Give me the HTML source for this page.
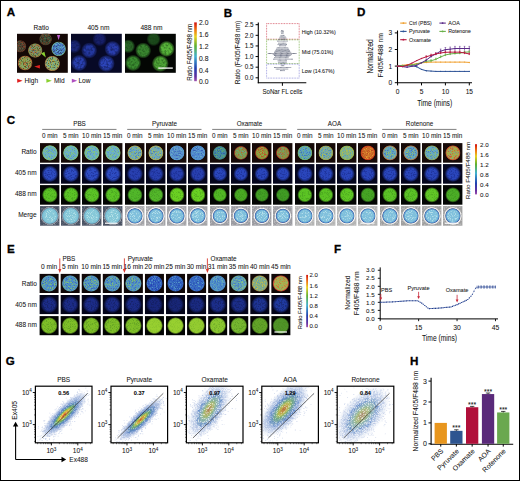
<!DOCTYPE html><html><head><meta charset="utf-8"><style>html,body{margin:0;padding:0;background:#fff;}body{width:520px;height:481px;overflow:hidden;font-family:"Liberation Sans",sans-serif;}svg{display:block;} text{stroke:#333;stroke-width:0.06px;}</style></head><body><svg width="520" height="481" viewBox="0 0 520 481" font-family="Liberation Sans, sans-serif"><defs><filter id="sp1" x="-5%" y="-5%" width="110%" height="110%" color-interpolation-filters="sRGB"><feTurbulence type="fractalNoise" baseFrequency="1.5" numOctaves="2" seed="3" result="n"/><feColorMatrix in="n" type="matrix" values="0 0 0 0 0 0 0 0 0 0 0 0 0 0 0 5 0 0 0 -2.3" result="m"/><feComposite in="SourceGraphic" in2="m" operator="in"/></filter><filter id="sp2" x="-5%" y="-5%" width="110%" height="110%" color-interpolation-filters="sRGB"><feTurbulence type="fractalNoise" baseFrequency="1.4" numOctaves="2" seed="11" result="n"/><feColorMatrix in="n" type="matrix" values="0 0 0 0 0 0 0 0 0 0 0 0 0 0 0 5 0 0 0 -2.6" result="m"/><feComposite in="SourceGraphic" in2="m" operator="in"/></filter><filter id="sp3" x="-5%" y="-5%" width="110%" height="110%" color-interpolation-filters="sRGB"><feTurbulence type="fractalNoise" baseFrequency="0.7" numOctaves="2" seed="5" result="n"/><feColorMatrix in="n" type="matrix" values="0 0 0 0 0 0 0 0 0 0 0 0 0 0 0 5 0 0 0 -2.4" result="m"/><feComposite in="SourceGraphic" in2="m" operator="in"/></filter><filter id="sp4" x="-5%" y="-5%" width="110%" height="110%" color-interpolation-filters="sRGB"><feTurbulence type="fractalNoise" baseFrequency="1.2" numOctaves="2" seed="8" result="n"/><feColorMatrix in="n" type="matrix" values="0 0 0 0 0 0 0 0 0 0 0 0 0 0 0 5 0 0 0 -2.5" result="m"/><feComposite in="SourceGraphic" in2="m" operator="in"/></filter><filter id="sp5" x="-5%" y="-5%" width="110%" height="110%" color-interpolation-filters="sRGB"><feTurbulence type="fractalNoise" baseFrequency="0.45" numOctaves="2" seed="21" result="n"/><feColorMatrix in="n" type="matrix" values="0 0 0 0 0 0 0 0 0 0 0 0 0 0 0 3 0 0 0 -1.2" result="m"/><feComposite in="SourceGraphic" in2="m" operator="in"/></filter><clipPath id="cl1"><rect x="17" y="33.8" width="50.8" height="39.0"/></clipPath><radialGradient id="g2"><stop offset="0" stop-color="#3a4a34" stop-opacity="1"/><stop offset="0.78" stop-color="#3a4a34" stop-opacity="1"/><stop offset="0.88" stop-color="#4a3a28" stop-opacity="1"/><stop offset="1" stop-color="#4a3a28" stop-opacity="0"/></radialGradient><radialGradient id="g3"><stop offset="0" stop-color="#7a3a22" stop-opacity="0.85"/><stop offset="0.85" stop-color="#7a3a22" stop-opacity="0.85"/><stop offset="1" stop-color="#7a3a22" stop-opacity="0"/></radialGradient><radialGradient id="g4"><stop offset="0" stop-color="#4a7a58" stop-opacity="0.7"/><stop offset="0.85" stop-color="#4a7a58" stop-opacity="0.7"/><stop offset="1" stop-color="#4a7a58" stop-opacity="0"/></radialGradient><radialGradient id="g5"><stop offset="0" stop-color="#1a0c08" stop-opacity="0.45"/><stop offset="0.85" stop-color="#1a0c08" stop-opacity="0.45"/><stop offset="1" stop-color="#1a0c08" stop-opacity="0"/></radialGradient><radialGradient id="g6"><stop offset="0" stop-color="#4a4030" stop-opacity="1"/><stop offset="0.78" stop-color="#4a4030" stop-opacity="1"/><stop offset="0.88" stop-color="#5a3424" stop-opacity="1"/><stop offset="1" stop-color="#5a3424" stop-opacity="0"/></radialGradient><radialGradient id="g7"><stop offset="0" stop-color="#8a4028" stop-opacity="0.85"/><stop offset="0.85" stop-color="#8a4028" stop-opacity="0.85"/><stop offset="1" stop-color="#8a4028" stop-opacity="0"/></radialGradient><radialGradient id="g8"><stop offset="0" stop-color="#4a7050" stop-opacity="0.7"/><stop offset="0.85" stop-color="#4a7050" stop-opacity="0.7"/><stop offset="1" stop-color="#4a7050" stop-opacity="0"/></radialGradient><radialGradient id="g9"><stop offset="0" stop-color="#80a058" stop-opacity="1"/><stop offset="0.78" stop-color="#80a058" stop-opacity="1"/><stop offset="0.88" stop-color="#888848" stop-opacity="1"/><stop offset="1" stop-color="#888848" stop-opacity="0"/></radialGradient><radialGradient id="g10"><stop offset="0" stop-color="#c05a30" stop-opacity="0.85"/><stop offset="0.85" stop-color="#c05a30" stop-opacity="0.85"/><stop offset="1" stop-color="#c05a30" stop-opacity="0"/></radialGradient><radialGradient id="g11"><stop offset="0" stop-color="#5a9ab0" stop-opacity="0.7"/><stop offset="0.85" stop-color="#5a9ab0" stop-opacity="0.7"/><stop offset="1" stop-color="#5a9ab0" stop-opacity="0"/></radialGradient><radialGradient id="g12"><stop offset="0" stop-color="#4a7cc8" stop-opacity="1"/><stop offset="0.78" stop-color="#4a7cc8" stop-opacity="1"/><stop offset="0.88" stop-color="#70a888" stop-opacity="1"/><stop offset="1" stop-color="#70a888" stop-opacity="0"/></radialGradient><radialGradient id="g13"><stop offset="0" stop-color="#68b8c8" stop-opacity="0.85"/><stop offset="0.85" stop-color="#68b8c8" stop-opacity="0.85"/><stop offset="1" stop-color="#68b8c8" stop-opacity="0"/></radialGradient><radialGradient id="g14"><stop offset="0" stop-color="#3a5ab0" stop-opacity="0.7"/><stop offset="0.85" stop-color="#3a5ab0" stop-opacity="0.7"/><stop offset="1" stop-color="#3a5ab0" stop-opacity="0"/></radialGradient><radialGradient id="g15"><stop offset="0" stop-color="#88a850" stop-opacity="1"/><stop offset="0.78" stop-color="#88a850" stop-opacity="1"/><stop offset="0.88" stop-color="#a06838" stop-opacity="1"/><stop offset="1" stop-color="#a06838" stop-opacity="0"/></radialGradient><radialGradient id="g16"><stop offset="0" stop-color="#c85828" stop-opacity="0.85"/><stop offset="0.85" stop-color="#c85828" stop-opacity="0.85"/><stop offset="1" stop-color="#c85828" stop-opacity="0"/></radialGradient><radialGradient id="g17"><stop offset="0" stop-color="#70b0a0" stop-opacity="0.7"/><stop offset="0.85" stop-color="#70b0a0" stop-opacity="0.7"/><stop offset="1" stop-color="#70b0a0" stop-opacity="0"/></radialGradient><radialGradient id="g18"><stop offset="0" stop-color="#80b070" stop-opacity="1"/><stop offset="0.78" stop-color="#80b070" stop-opacity="1"/><stop offset="0.88" stop-color="#a07848" stop-opacity="1"/><stop offset="1" stop-color="#a07848" stop-opacity="0"/></radialGradient><radialGradient id="g19"><stop offset="0" stop-color="#c8a840" stop-opacity="0.85"/><stop offset="0.85" stop-color="#c8a840" stop-opacity="0.85"/><stop offset="1" stop-color="#c8a840" stop-opacity="0"/></radialGradient><radialGradient id="g20"><stop offset="0" stop-color="#60a8c8" stop-opacity="0.7"/><stop offset="0.85" stop-color="#60a8c8" stop-opacity="0.7"/><stop offset="1" stop-color="#60a8c8" stop-opacity="0"/></radialGradient><clipPath id="cl21"><rect x="71" y="33.8" width="50.8" height="39.0"/></clipPath><radialGradient id="g22"><stop offset="0" stop-color="#18206a" stop-opacity="1"/><stop offset="0.5499999999999999" stop-color="#18206a" stop-opacity="1"/><stop offset="0.6" stop-color="#18206a" stop-opacity="1"/><stop offset="1" stop-color="#18206a" stop-opacity="0"/></radialGradient><radialGradient id="g23"><stop offset="0" stop-color="#0c1448" stop-opacity="0.55"/><stop offset="0.85" stop-color="#0c1448" stop-opacity="0.55"/><stop offset="1" stop-color="#0c1448" stop-opacity="0"/></radialGradient><radialGradient id="g24"><stop offset="0" stop-color="#1c2878" stop-opacity="1"/><stop offset="0.5499999999999999" stop-color="#1c2878" stop-opacity="1"/><stop offset="0.6" stop-color="#1c2878" stop-opacity="1"/><stop offset="1" stop-color="#1c2878" stop-opacity="0"/></radialGradient><radialGradient id="g25"><stop offset="0" stop-color="#2438a0" stop-opacity="1"/><stop offset="0.5499999999999999" stop-color="#2438a0" stop-opacity="1"/><stop offset="0.6" stop-color="#2438a0" stop-opacity="1"/><stop offset="1" stop-color="#2438a0" stop-opacity="0"/></radialGradient><radialGradient id="g26"><stop offset="0" stop-color="#2a3eae" stop-opacity="1"/><stop offset="0.5499999999999999" stop-color="#2a3eae" stop-opacity="1"/><stop offset="0.6" stop-color="#2a3eae" stop-opacity="1"/><stop offset="1" stop-color="#2a3eae" stop-opacity="0"/></radialGradient><radialGradient id="g27"><stop offset="0" stop-color="#2a40b0" stop-opacity="1"/><stop offset="0.5499999999999999" stop-color="#2a40b0" stop-opacity="1"/><stop offset="0.6" stop-color="#2a40b0" stop-opacity="1"/><stop offset="1" stop-color="#2a40b0" stop-opacity="0"/></radialGradient><radialGradient id="g28"><stop offset="0" stop-color="#2c44b8" stop-opacity="1"/><stop offset="0.5499999999999999" stop-color="#2c44b8" stop-opacity="1"/><stop offset="0.6" stop-color="#2c44b8" stop-opacity="1"/><stop offset="1" stop-color="#2c44b8" stop-opacity="0"/></radialGradient><clipPath id="cl29"><rect x="125" y="33.8" width="50.8" height="39.0"/></clipPath><radialGradient id="g30"><stop offset="0" stop-color="#1c4a1c" stop-opacity="1"/><stop offset="0.6" stop-color="#1c4a1c" stop-opacity="1"/><stop offset="0.65" stop-color="#1c4a1c" stop-opacity="1"/><stop offset="1" stop-color="#1c4a1c" stop-opacity="0"/></radialGradient><radialGradient id="g31"><stop offset="0" stop-color="#143c10" stop-opacity="0.45"/><stop offset="0.85" stop-color="#143c10" stop-opacity="0.45"/><stop offset="1" stop-color="#143c10" stop-opacity="0"/></radialGradient><radialGradient id="g32"><stop offset="0" stop-color="#2a6428" stop-opacity="1"/><stop offset="0.6" stop-color="#2a6428" stop-opacity="1"/><stop offset="0.65" stop-color="#2a6428" stop-opacity="1"/><stop offset="1" stop-color="#2a6428" stop-opacity="0"/></radialGradient><radialGradient id="g33"><stop offset="0" stop-color="#3a8630" stop-opacity="1"/><stop offset="0.6" stop-color="#3a8630" stop-opacity="1"/><stop offset="0.65" stop-color="#3a8630" stop-opacity="1"/><stop offset="1" stop-color="#3a8630" stop-opacity="0"/></radialGradient><radialGradient id="g34"><stop offset="0" stop-color="#58b43a" stop-opacity="1"/><stop offset="0.6" stop-color="#58b43a" stop-opacity="1"/><stop offset="0.65" stop-color="#58b43a" stop-opacity="1"/><stop offset="1" stop-color="#58b43a" stop-opacity="0"/></radialGradient><radialGradient id="g35"><stop offset="0" stop-color="#3a8c30" stop-opacity="1"/><stop offset="0.6" stop-color="#3a8c30" stop-opacity="1"/><stop offset="0.65" stop-color="#3a8c30" stop-opacity="1"/><stop offset="1" stop-color="#3a8c30" stop-opacity="0"/></radialGradient><radialGradient id="g36"><stop offset="0" stop-color="#4ea436" stop-opacity="1"/><stop offset="0.6" stop-color="#4ea436" stop-opacity="1"/><stop offset="0.65" stop-color="#4ea436" stop-opacity="1"/><stop offset="1" stop-color="#4ea436" stop-opacity="0"/></radialGradient><linearGradient id="cb37" x1="0" y1="0" x2="0" y2="1"><stop offset="0" stop-color="#d01010"/><stop offset="0.12" stop-color="#f07010"/><stop offset="0.24" stop-color="#e8d020"/><stop offset="0.4" stop-color="#60b030"/><stop offset="0.58" stop-color="#40b0d0"/><stop offset="0.78" stop-color="#2040b0"/><stop offset="0.92" stop-color="#6030a0"/><stop offset="1" stop-color="#a050b0"/></linearGradient><radialGradient id="g38"><stop offset="0" stop-color="#6aaed0" stop-opacity="1"/><stop offset="0.78" stop-color="#6aaed0" stop-opacity="1"/><stop offset="0.9" stop-color="#80c070" stop-opacity="1"/><stop offset="1" stop-color="#80c070" stop-opacity="0"/></radialGradient><radialGradient id="g39"><stop offset="0" stop-color="#88cc70" stop-opacity="0.9"/><stop offset="0.85" stop-color="#88cc70" stop-opacity="0.9"/><stop offset="1" stop-color="#88cc70" stop-opacity="0"/></radialGradient><radialGradient id="g40"><stop offset="0" stop-color="#5088c8" stop-opacity="0.7"/><stop offset="0.85" stop-color="#5088c8" stop-opacity="0.7"/><stop offset="1" stop-color="#5088c8" stop-opacity="0"/></radialGradient><radialGradient id="g41"><stop offset="0" stop-color="#2e4cc2" stop-opacity="1"/><stop offset="0.6" stop-color="#2e4cc2" stop-opacity="1"/><stop offset="0.65" stop-color="#2e4cc2" stop-opacity="1"/><stop offset="1" stop-color="#2e4cc2" stop-opacity="0"/></radialGradient><radialGradient id="g42"><stop offset="0" stop-color="#18288a" stop-opacity="0.6"/><stop offset="0.85" stop-color="#18288a" stop-opacity="0.6"/><stop offset="1" stop-color="#18288a" stop-opacity="0"/></radialGradient><radialGradient id="g43"><stop offset="0" stop-color="#5cc426" stop-opacity="1"/><stop offset="0.6" stop-color="#5cc426" stop-opacity="1"/><stop offset="0.75" stop-color="#5cc426" stop-opacity="1"/><stop offset="1" stop-color="#5cc426" stop-opacity="0"/></radialGradient><radialGradient id="g44"><stop offset="0" stop-color="#2a7018" stop-opacity="0.3"/><stop offset="0.85" stop-color="#2a7018" stop-opacity="0.3"/><stop offset="1" stop-color="#2a7018" stop-opacity="0"/></radialGradient><radialGradient id="g45"><stop offset="0" stop-color="#ffffff" stop-opacity="0"/><stop offset="0.8" stop-color="#ffffff" stop-opacity="0"/><stop offset="0.88" stop-color="#ffffff" stop-opacity="0.25"/><stop offset="0.95" stop-color="#ffffff" stop-opacity="0.4"/><stop offset="1" stop-color="#ffffff" stop-opacity="0"/></radialGradient><radialGradient id="g46"><stop offset="0" stop-color="#86c8d8" stop-opacity="1"/><stop offset="0.7" stop-color="#86c8d8" stop-opacity="1"/><stop offset="0.88" stop-color="#78bcd4" stop-opacity="1"/><stop offset="1" stop-color="#78bcd4" stop-opacity="0"/></radialGradient><radialGradient id="g47"><stop offset="0" stop-color="#d8f4f4" stop-opacity="0.6"/><stop offset="0.85" stop-color="#d8f4f4" stop-opacity="0.6"/><stop offset="1" stop-color="#d8f4f4" stop-opacity="0"/></radialGradient><radialGradient id="g48"><stop offset="0" stop-color="#68a8c8" stop-opacity="1"/><stop offset="0.78" stop-color="#68a8c8" stop-opacity="1"/><stop offset="0.9" stop-color="#b0a848" stop-opacity="1"/><stop offset="1" stop-color="#b0a848" stop-opacity="0"/></radialGradient><radialGradient id="g49"><stop offset="0" stop-color="#a8c850" stop-opacity="0.9"/><stop offset="0.85" stop-color="#a8c850" stop-opacity="0.9"/><stop offset="1" stop-color="#a8c850" stop-opacity="0"/></radialGradient><radialGradient id="g50"><stop offset="0" stop-color="#3a70c0" stop-opacity="0.7"/><stop offset="0.85" stop-color="#3a70c0" stop-opacity="0.7"/><stop offset="1" stop-color="#3a70c0" stop-opacity="0"/></radialGradient><radialGradient id="g51"><stop offset="0" stop-color="#2840b0" stop-opacity="1"/><stop offset="0.6" stop-color="#2840b0" stop-opacity="1"/><stop offset="0.65" stop-color="#2840b0" stop-opacity="1"/><stop offset="1" stop-color="#2840b0" stop-opacity="0"/></radialGradient><radialGradient id="g52"><stop offset="0" stop-color="#52b82a" stop-opacity="1"/><stop offset="0.6" stop-color="#52b82a" stop-opacity="1"/><stop offset="0.75" stop-color="#52b82a" stop-opacity="1"/><stop offset="1" stop-color="#52b82a" stop-opacity="0"/></radialGradient><radialGradient id="g53"><stop offset="0" stop-color="#ffffff" stop-opacity="0"/><stop offset="0.8" stop-color="#ffffff" stop-opacity="0"/><stop offset="0.88" stop-color="#ffffff" stop-opacity="0.9"/><stop offset="0.95" stop-color="#ffffff" stop-opacity="0.4"/><stop offset="1" stop-color="#ffffff" stop-opacity="0"/></radialGradient><radialGradient id="g54"><stop offset="0" stop-color="#80c0dc" stop-opacity="1"/><stop offset="0.72" stop-color="#80c0dc" stop-opacity="1"/><stop offset="0.86" stop-color="#5a9cd0" stop-opacity="1"/><stop offset="0.93" stop-color="#3a60b0" stop-opacity="0.9"/><stop offset="1" stop-color="#3a60b0" stop-opacity="0"/></radialGradient><radialGradient id="g55"><stop offset="0" stop-color="#6aa8c4" stop-opacity="1"/><stop offset="0.78" stop-color="#6aa8c4" stop-opacity="1"/><stop offset="0.9" stop-color="#b0a848" stop-opacity="1"/><stop offset="1" stop-color="#b0a848" stop-opacity="0"/></radialGradient><radialGradient id="g56"><stop offset="0" stop-color="#b0c450" stop-opacity="0.9"/><stop offset="0.85" stop-color="#b0c450" stop-opacity="0.9"/><stop offset="1" stop-color="#b0c450" stop-opacity="0"/></radialGradient><radialGradient id="g57"><stop offset="0" stop-color="#54b82a" stop-opacity="1"/><stop offset="0.6" stop-color="#54b82a" stop-opacity="1"/><stop offset="0.75" stop-color="#54b82a" stop-opacity="1"/><stop offset="1" stop-color="#54b82a" stop-opacity="0"/></radialGradient><radialGradient id="g58"><stop offset="0" stop-color="#5890d0" stop-opacity="1"/><stop offset="0.78" stop-color="#5890d0" stop-opacity="1"/><stop offset="0.9" stop-color="#5898c8" stop-opacity="1"/><stop offset="1" stop-color="#5898c8" stop-opacity="0"/></radialGradient><radialGradient id="g59"><stop offset="0" stop-color="#70b8c0" stop-opacity="0.9"/><stop offset="0.85" stop-color="#70b8c0" stop-opacity="0.9"/><stop offset="1" stop-color="#70b8c0" stop-opacity="0"/></radialGradient><radialGradient id="g60"><stop offset="0" stop-color="#3050b0" stop-opacity="0.7"/><stop offset="0.85" stop-color="#3050b0" stop-opacity="0.7"/><stop offset="1" stop-color="#3050b0" stop-opacity="0"/></radialGradient><radialGradient id="g61"><stop offset="0" stop-color="#6cd222" stop-opacity="1"/><stop offset="0.6" stop-color="#6cd222" stop-opacity="1"/><stop offset="0.75" stop-color="#6cd222" stop-opacity="1"/><stop offset="1" stop-color="#6cd222" stop-opacity="0"/></radialGradient><radialGradient id="g62"><stop offset="0" stop-color="#5088d0" stop-opacity="1"/><stop offset="0.78" stop-color="#5088d0" stop-opacity="1"/><stop offset="0.9" stop-color="#5090c8" stop-opacity="1"/><stop offset="1" stop-color="#5090c8" stop-opacity="0"/></radialGradient><radialGradient id="g63"><stop offset="0" stop-color="#68b0c8" stop-opacity="0.9"/><stop offset="0.85" stop-color="#68b0c8" stop-opacity="0.9"/><stop offset="1" stop-color="#68b0c8" stop-opacity="0"/></radialGradient><radialGradient id="g64"><stop offset="0" stop-color="#2848a8" stop-opacity="0.7"/><stop offset="0.85" stop-color="#2848a8" stop-opacity="0.7"/><stop offset="1" stop-color="#2848a8" stop-opacity="0"/></radialGradient><radialGradient id="g65"><stop offset="0" stop-color="#6ad222" stop-opacity="1"/><stop offset="0.6" stop-color="#6ad222" stop-opacity="1"/><stop offset="0.75" stop-color="#6ad222" stop-opacity="1"/><stop offset="1" stop-color="#6ad222" stop-opacity="0"/></radialGradient><radialGradient id="g66"><stop offset="0" stop-color="#4088a8" stop-opacity="1"/><stop offset="0.78" stop-color="#4088a8" stop-opacity="1"/><stop offset="0.9" stop-color="#407868" stop-opacity="1"/><stop offset="1" stop-color="#407868" stop-opacity="0"/></radialGradient><radialGradient id="g67"><stop offset="0" stop-color="#68b060" stop-opacity="0.9"/><stop offset="0.85" stop-color="#68b060" stop-opacity="0.9"/><stop offset="1" stop-color="#68b060" stop-opacity="0"/></radialGradient><radialGradient id="g68"><stop offset="0" stop-color="#2a50a8" stop-opacity="0.7"/><stop offset="0.85" stop-color="#2a50a8" stop-opacity="0.7"/><stop offset="1" stop-color="#2a50a8" stop-opacity="0"/></radialGradient><radialGradient id="g69"><stop offset="0" stop-color="#2a46bc" stop-opacity="1"/><stop offset="0.6" stop-color="#2a46bc" stop-opacity="1"/><stop offset="0.65" stop-color="#2a46bc" stop-opacity="1"/><stop offset="1" stop-color="#2a46bc" stop-opacity="0"/></radialGradient><radialGradient id="g70"><stop offset="0" stop-color="#52b824" stop-opacity="1"/><stop offset="0.6" stop-color="#52b824" stop-opacity="1"/><stop offset="0.75" stop-color="#52b824" stop-opacity="1"/><stop offset="1" stop-color="#52b824" stop-opacity="0"/></radialGradient><radialGradient id="g71"><stop offset="0" stop-color="#78a850" stop-opacity="1"/><stop offset="0.78" stop-color="#78a850" stop-opacity="1"/><stop offset="0.9" stop-color="#8a3020" stop-opacity="1"/><stop offset="1" stop-color="#8a3020" stop-opacity="0"/></radialGradient><radialGradient id="g72"><stop offset="0" stop-color="#c05830" stop-opacity="0.9"/><stop offset="0.85" stop-color="#c05830" stop-opacity="0.9"/><stop offset="1" stop-color="#c05830" stop-opacity="0"/></radialGradient><radialGradient id="g73"><stop offset="0" stop-color="#60a8a0" stop-opacity="0.7"/><stop offset="0.85" stop-color="#60a8a0" stop-opacity="0.7"/><stop offset="1" stop-color="#60a8a0" stop-opacity="0"/></radialGradient><radialGradient id="g74"><stop offset="0" stop-color="#4aaa22" stop-opacity="1"/><stop offset="0.6" stop-color="#4aaa22" stop-opacity="1"/><stop offset="0.75" stop-color="#4aaa22" stop-opacity="1"/><stop offset="1" stop-color="#4aaa22" stop-opacity="0"/></radialGradient><radialGradient id="g75"><stop offset="0" stop-color="#88a040" stop-opacity="1"/><stop offset="0.78" stop-color="#88a040" stop-opacity="1"/><stop offset="0.9" stop-color="#902818" stop-opacity="1"/><stop offset="1" stop-color="#902818" stop-opacity="0"/></radialGradient><radialGradient id="g76"><stop offset="0" stop-color="#c84a28" stop-opacity="0.9"/><stop offset="0.85" stop-color="#c84a28" stop-opacity="0.9"/><stop offset="1" stop-color="#c84a28" stop-opacity="0"/></radialGradient><radialGradient id="g77"><stop offset="0" stop-color="#a0b848" stop-opacity="0.7"/><stop offset="0.85" stop-color="#a0b848" stop-opacity="0.7"/><stop offset="1" stop-color="#a0b848" stop-opacity="0"/></radialGradient><radialGradient id="g78"><stop offset="0" stop-color="#42a024" stop-opacity="1"/><stop offset="0.6" stop-color="#42a024" stop-opacity="1"/><stop offset="0.75" stop-color="#42a024" stop-opacity="1"/><stop offset="1" stop-color="#42a024" stop-opacity="0"/></radialGradient><radialGradient id="g79"><stop offset="0" stop-color="#80a048" stop-opacity="1"/><stop offset="0.78" stop-color="#80a048" stop-opacity="1"/><stop offset="0.9" stop-color="#902818" stop-opacity="1"/><stop offset="1" stop-color="#902818" stop-opacity="0"/></radialGradient><radialGradient id="g80"><stop offset="0" stop-color="#c84a30" stop-opacity="0.9"/><stop offset="0.85" stop-color="#c84a30" stop-opacity="0.9"/><stop offset="1" stop-color="#c84a30" stop-opacity="0"/></radialGradient><radialGradient id="g81"><stop offset="0" stop-color="#60a890" stop-opacity="0.7"/><stop offset="0.85" stop-color="#60a890" stop-opacity="0.7"/><stop offset="1" stop-color="#60a890" stop-opacity="0"/></radialGradient><radialGradient id="g82"><stop offset="0" stop-color="#409c24" stop-opacity="1"/><stop offset="0.6" stop-color="#409c24" stop-opacity="1"/><stop offset="0.75" stop-color="#409c24" stop-opacity="1"/><stop offset="1" stop-color="#409c24" stop-opacity="0"/></radialGradient><radialGradient id="g83"><stop offset="0" stop-color="#58a0c8" stop-opacity="1"/><stop offset="0.78" stop-color="#58a0c8" stop-opacity="1"/><stop offset="0.9" stop-color="#70b060" stop-opacity="1"/><stop offset="1" stop-color="#70b060" stop-opacity="0"/></radialGradient><radialGradient id="g84"><stop offset="0" stop-color="#80c070" stop-opacity="0.9"/><stop offset="0.85" stop-color="#80c070" stop-opacity="0.9"/><stop offset="1" stop-color="#80c070" stop-opacity="0"/></radialGradient><radialGradient id="g85"><stop offset="0" stop-color="#3060b8" stop-opacity="0.7"/><stop offset="0.85" stop-color="#3060b8" stop-opacity="0.7"/><stop offset="1" stop-color="#3060b8" stop-opacity="0"/></radialGradient><radialGradient id="g86"><stop offset="0" stop-color="#5cc424" stop-opacity="1"/><stop offset="0.6" stop-color="#5cc424" stop-opacity="1"/><stop offset="0.75" stop-color="#5cc424" stop-opacity="1"/><stop offset="1" stop-color="#5cc424" stop-opacity="0"/></radialGradient><radialGradient id="g87"><stop offset="0" stop-color="#70a8b0" stop-opacity="1"/><stop offset="0.78" stop-color="#70a8b0" stop-opacity="1"/><stop offset="0.9" stop-color="#a0a040" stop-opacity="1"/><stop offset="1" stop-color="#a0a040" stop-opacity="0"/></radialGradient><radialGradient id="g88"><stop offset="0" stop-color="#b0c048" stop-opacity="0.9"/><stop offset="0.85" stop-color="#b0c048" stop-opacity="0.9"/><stop offset="1" stop-color="#b0c048" stop-opacity="0"/></radialGradient><radialGradient id="g89"><stop offset="0" stop-color="#4080c0" stop-opacity="0.7"/><stop offset="0.85" stop-color="#4080c0" stop-opacity="0.7"/><stop offset="1" stop-color="#4080c0" stop-opacity="0"/></radialGradient><radialGradient id="g90"><stop offset="0" stop-color="#78b098" stop-opacity="1"/><stop offset="0.78" stop-color="#78b098" stop-opacity="1"/><stop offset="0.9" stop-color="#90b040" stop-opacity="1"/><stop offset="1" stop-color="#90b040" stop-opacity="0"/></radialGradient><radialGradient id="g91"><stop offset="0" stop-color="#b8c040" stop-opacity="0.9"/><stop offset="0.85" stop-color="#b8c040" stop-opacity="0.9"/><stop offset="1" stop-color="#b8c040" stop-opacity="0"/></radialGradient><radialGradient id="g92"><stop offset="0" stop-color="#5098b8" stop-opacity="0.7"/><stop offset="0.85" stop-color="#5098b8" stop-opacity="0.7"/><stop offset="1" stop-color="#5098b8" stop-opacity="0"/></radialGradient><radialGradient id="g93"><stop offset="0" stop-color="#60c824" stop-opacity="1"/><stop offset="0.6" stop-color="#60c824" stop-opacity="1"/><stop offset="0.75" stop-color="#60c824" stop-opacity="1"/><stop offset="1" stop-color="#60c824" stop-opacity="0"/></radialGradient><radialGradient id="g94"><stop offset="0" stop-color="#c86828" stop-opacity="1"/><stop offset="0.78" stop-color="#c86828" stop-opacity="1"/><stop offset="0.9" stop-color="#c83018" stop-opacity="1"/><stop offset="1" stop-color="#c83018" stop-opacity="0"/></radialGradient><radialGradient id="g95"><stop offset="0" stop-color="#e8a030" stop-opacity="0.9"/><stop offset="0.85" stop-color="#e8a030" stop-opacity="0.9"/><stop offset="1" stop-color="#e8a030" stop-opacity="0"/></radialGradient><radialGradient id="g96"><stop offset="0" stop-color="#b02818" stop-opacity="0.7"/><stop offset="0.85" stop-color="#b02818" stop-opacity="0.7"/><stop offset="1" stop-color="#b02818" stop-opacity="0"/></radialGradient><radialGradient id="g97"><stop offset="0" stop-color="#46a424" stop-opacity="1"/><stop offset="0.6" stop-color="#46a424" stop-opacity="1"/><stop offset="0.75" stop-color="#46a424" stop-opacity="1"/><stop offset="1" stop-color="#46a424" stop-opacity="0"/></radialGradient><radialGradient id="g98"><stop offset="0" stop-color="#5ea4c8" stop-opacity="1"/><stop offset="0.78" stop-color="#5ea4c8" stop-opacity="1"/><stop offset="0.9" stop-color="#b07040" stop-opacity="1"/><stop offset="1" stop-color="#b07040" stop-opacity="0"/></radialGradient><radialGradient id="g99"><stop offset="0" stop-color="#a0c860" stop-opacity="0.9"/><stop offset="0.85" stop-color="#a0c860" stop-opacity="0.9"/><stop offset="1" stop-color="#a0c860" stop-opacity="0"/></radialGradient><radialGradient id="g100"><stop offset="0" stop-color="#3a68c0" stop-opacity="0.7"/><stop offset="0.85" stop-color="#3a68c0" stop-opacity="0.7"/><stop offset="1" stop-color="#3a68c0" stop-opacity="0"/></radialGradient><radialGradient id="g101"><stop offset="0" stop-color="#64aac8" stop-opacity="1"/><stop offset="0.78" stop-color="#64aac8" stop-opacity="1"/><stop offset="0.9" stop-color="#90a050" stop-opacity="1"/><stop offset="1" stop-color="#90a050" stop-opacity="0"/></radialGradient><radialGradient id="g102"><stop offset="0" stop-color="#98c860" stop-opacity="0.9"/><stop offset="0.85" stop-color="#98c860" stop-opacity="0.9"/><stop offset="1" stop-color="#98c860" stop-opacity="0"/></radialGradient><radialGradient id="g103"><stop offset="0" stop-color="#4070c0" stop-opacity="0.7"/><stop offset="0.85" stop-color="#4070c0" stop-opacity="0.7"/><stop offset="1" stop-color="#4070c0" stop-opacity="0"/></radialGradient><radialGradient id="g104"><stop offset="0" stop-color="#62c826" stop-opacity="1"/><stop offset="0.6" stop-color="#62c826" stop-opacity="1"/><stop offset="0.75" stop-color="#62c826" stop-opacity="1"/><stop offset="1" stop-color="#62c826" stop-opacity="0"/></radialGradient><radialGradient id="g105"><stop offset="0" stop-color="#a8b048" stop-opacity="1"/><stop offset="0.78" stop-color="#a8b048" stop-opacity="1"/><stop offset="0.9" stop-color="#c04028" stop-opacity="1"/><stop offset="1" stop-color="#c04028" stop-opacity="0"/></radialGradient><radialGradient id="g106"><stop offset="0" stop-color="#d85030" stop-opacity="0.9"/><stop offset="0.85" stop-color="#d85030" stop-opacity="0.9"/><stop offset="1" stop-color="#d85030" stop-opacity="0"/></radialGradient><radialGradient id="g107"><stop offset="0" stop-color="#4cae26" stop-opacity="1"/><stop offset="0.6" stop-color="#4cae26" stop-opacity="1"/><stop offset="0.75" stop-color="#4cae26" stop-opacity="1"/><stop offset="1" stop-color="#4cae26" stop-opacity="0"/></radialGradient><linearGradient id="cb108" x1="0" y1="0" x2="0" y2="1"><stop offset="0" stop-color="#d01010"/><stop offset="0.12" stop-color="#f07010"/><stop offset="0.24" stop-color="#e8d020"/><stop offset="0.4" stop-color="#60b030"/><stop offset="0.58" stop-color="#40b0d0"/><stop offset="0.78" stop-color="#2040b0"/><stop offset="0.92" stop-color="#6030a0"/><stop offset="1" stop-color="#a050b0"/></linearGradient><radialGradient id="g109"><stop offset="0" stop-color="#4e90cc" stop-opacity="1"/><stop offset="0.8" stop-color="#4e90cc" stop-opacity="1"/><stop offset="0.88" stop-color="#5a98b8" stop-opacity="1"/><stop offset="1" stop-color="#5a98b8" stop-opacity="0"/></radialGradient><radialGradient id="g110"><stop offset="0" stop-color="#88c868" stop-opacity="0.8"/><stop offset="0.85" stop-color="#88c868" stop-opacity="0.8"/><stop offset="1" stop-color="#88c868" stop-opacity="0"/></radialGradient><radialGradient id="g111"><stop offset="0" stop-color="#3058c0" stop-opacity="0.7"/><stop offset="0.85" stop-color="#3058c0" stop-opacity="0.7"/><stop offset="1" stop-color="#3058c0" stop-opacity="0"/></radialGradient><radialGradient id="g112"><stop offset="0" stop-color="#1c2c88" stop-opacity="1"/><stop offset="0.6" stop-color="#1c2c88" stop-opacity="1"/><stop offset="0.65" stop-color="#1c2c88" stop-opacity="1"/><stop offset="1" stop-color="#1c2c88" stop-opacity="0"/></radialGradient><radialGradient id="g113"><stop offset="0" stop-color="#101a50" stop-opacity="0.5"/><stop offset="0.85" stop-color="#101a50" stop-opacity="0.5"/><stop offset="1" stop-color="#101a50" stop-opacity="0"/></radialGradient><radialGradient id="g114"><stop offset="0" stop-color="#80c028" stop-opacity="1"/><stop offset="0.6" stop-color="#80c028" stop-opacity="1"/><stop offset="0.8" stop-color="#80c028" stop-opacity="1"/><stop offset="1" stop-color="#80c028" stop-opacity="0"/></radialGradient><radialGradient id="g115"><stop offset="0" stop-color="#4a8a20" stop-opacity="0.45"/><stop offset="0.85" stop-color="#4a8a20" stop-opacity="0.45"/><stop offset="1" stop-color="#4a8a20" stop-opacity="0"/></radialGradient><radialGradient id="g116"><stop offset="0" stop-color="#2e58c0" stop-opacity="1"/><stop offset="0.8" stop-color="#2e58c0" stop-opacity="1"/><stop offset="0.88" stop-color="#3058b8" stop-opacity="1"/><stop offset="1" stop-color="#3058b8" stop-opacity="0"/></radialGradient><radialGradient id="g117"><stop offset="0" stop-color="#58a0c8" stop-opacity="0.8"/><stop offset="0.85" stop-color="#58a0c8" stop-opacity="0.8"/><stop offset="1" stop-color="#58a0c8" stop-opacity="0"/></radialGradient><radialGradient id="g118"><stop offset="0" stop-color="#2038a8" stop-opacity="0.7"/><stop offset="0.85" stop-color="#2038a8" stop-opacity="0.7"/><stop offset="1" stop-color="#2038a8" stop-opacity="0"/></radialGradient><radialGradient id="g119"><stop offset="0" stop-color="#18267a" stop-opacity="1"/><stop offset="0.6" stop-color="#18267a" stop-opacity="1"/><stop offset="0.65" stop-color="#18267a" stop-opacity="1"/><stop offset="1" stop-color="#18267a" stop-opacity="0"/></radialGradient><radialGradient id="g120"><stop offset="0" stop-color="#98d030" stop-opacity="1"/><stop offset="0.6" stop-color="#98d030" stop-opacity="1"/><stop offset="0.8" stop-color="#98d030" stop-opacity="1"/><stop offset="1" stop-color="#98d030" stop-opacity="0"/></radialGradient><radialGradient id="g121"><stop offset="0" stop-color="#4a8a20" stop-opacity="0.15"/><stop offset="0.85" stop-color="#4a8a20" stop-opacity="0.15"/><stop offset="1" stop-color="#4a8a20" stop-opacity="0"/></radialGradient><radialGradient id="g122"><stop offset="0" stop-color="#3060c0" stop-opacity="1"/><stop offset="0.8" stop-color="#3060c0" stop-opacity="1"/><stop offset="0.88" stop-color="#3460b8" stop-opacity="1"/><stop offset="1" stop-color="#3460b8" stop-opacity="0"/></radialGradient><radialGradient id="g123"><stop offset="0" stop-color="#5aa0c8" stop-opacity="0.8"/><stop offset="0.85" stop-color="#5aa0c8" stop-opacity="0.8"/><stop offset="1" stop-color="#5aa0c8" stop-opacity="0"/></radialGradient><radialGradient id="g124"><stop offset="0" stop-color="#2240a8" stop-opacity="0.7"/><stop offset="0.85" stop-color="#2240a8" stop-opacity="0.7"/><stop offset="1" stop-color="#2240a8" stop-opacity="0"/></radialGradient><radialGradient id="g125"><stop offset="0" stop-color="#182676" stop-opacity="1"/><stop offset="0.6" stop-color="#182676" stop-opacity="1"/><stop offset="0.65" stop-color="#182676" stop-opacity="1"/><stop offset="1" stop-color="#182676" stop-opacity="0"/></radialGradient><radialGradient id="g126"><stop offset="0" stop-color="#3464c4" stop-opacity="1"/><stop offset="0.8" stop-color="#3464c4" stop-opacity="1"/><stop offset="0.88" stop-color="#3868bc" stop-opacity="1"/><stop offset="1" stop-color="#3868bc" stop-opacity="0"/></radialGradient><radialGradient id="g127"><stop offset="0" stop-color="#1a2a80" stop-opacity="1"/><stop offset="0.6" stop-color="#1a2a80" stop-opacity="1"/><stop offset="0.65" stop-color="#1a2a80" stop-opacity="1"/><stop offset="1" stop-color="#1a2a80" stop-opacity="0"/></radialGradient><radialGradient id="g128"><stop offset="0" stop-color="#94cc30" stop-opacity="1"/><stop offset="0.6" stop-color="#94cc30" stop-opacity="1"/><stop offset="0.8" stop-color="#94cc30" stop-opacity="1"/><stop offset="1" stop-color="#94cc30" stop-opacity="0"/></radialGradient><radialGradient id="g129"><stop offset="0" stop-color="#4a8a20" stop-opacity="0.2"/><stop offset="0.85" stop-color="#4a8a20" stop-opacity="0.2"/><stop offset="1" stop-color="#4a8a20" stop-opacity="0"/></radialGradient><radialGradient id="g130"><stop offset="0" stop-color="#4a88cc" stop-opacity="1"/><stop offset="0.8" stop-color="#4a88cc" stop-opacity="1"/><stop offset="0.88" stop-color="#4a88c0" stop-opacity="1"/><stop offset="1" stop-color="#4a88c0" stop-opacity="0"/></radialGradient><radialGradient id="g131"><stop offset="0" stop-color="#70b8b0" stop-opacity="0.8"/><stop offset="0.85" stop-color="#70b8b0" stop-opacity="0.8"/><stop offset="1" stop-color="#70b8b0" stop-opacity="0"/></radialGradient><radialGradient id="g132"><stop offset="0" stop-color="#3060c0" stop-opacity="0.7"/><stop offset="0.85" stop-color="#3060c0" stop-opacity="0.7"/><stop offset="1" stop-color="#3060c0" stop-opacity="0"/></radialGradient><radialGradient id="g133"><stop offset="0" stop-color="#1c2e8a" stop-opacity="1"/><stop offset="0.6" stop-color="#1c2e8a" stop-opacity="1"/><stop offset="0.65" stop-color="#1c2e8a" stop-opacity="1"/><stop offset="1" stop-color="#1c2e8a" stop-opacity="0"/></radialGradient><radialGradient id="g134"><stop offset="0" stop-color="#8cc830" stop-opacity="1"/><stop offset="0.6" stop-color="#8cc830" stop-opacity="1"/><stop offset="0.8" stop-color="#8cc830" stop-opacity="1"/><stop offset="1" stop-color="#8cc830" stop-opacity="0"/></radialGradient><radialGradient id="g135"><stop offset="0" stop-color="#4a8a20" stop-opacity="0.35"/><stop offset="0.85" stop-color="#4a8a20" stop-opacity="0.35"/><stop offset="1" stop-color="#4a8a20" stop-opacity="0"/></radialGradient><radialGradient id="g136"><stop offset="0" stop-color="#5a9cc8" stop-opacity="1"/><stop offset="0.8" stop-color="#5a9cc8" stop-opacity="1"/><stop offset="0.88" stop-color="#6aa898" stop-opacity="1"/><stop offset="1" stop-color="#6aa898" stop-opacity="0"/></radialGradient><radialGradient id="g137"><stop offset="0" stop-color="#90c870" stop-opacity="0.8"/><stop offset="0.85" stop-color="#90c870" stop-opacity="0.8"/><stop offset="1" stop-color="#90c870" stop-opacity="0"/></radialGradient><radialGradient id="g138"><stop offset="0" stop-color="#78b830" stop-opacity="1"/><stop offset="0.6" stop-color="#78b830" stop-opacity="1"/><stop offset="0.8" stop-color="#78b830" stop-opacity="1"/><stop offset="1" stop-color="#78b830" stop-opacity="0"/></radialGradient><radialGradient id="g139"><stop offset="0" stop-color="#4a8a20" stop-opacity="0.5"/><stop offset="0.85" stop-color="#4a8a20" stop-opacity="0.5"/><stop offset="1" stop-color="#4a8a20" stop-opacity="0"/></radialGradient><radialGradient id="g140"><stop offset="0" stop-color="#80b088" stop-opacity="1"/><stop offset="0.8" stop-color="#80b088" stop-opacity="1"/><stop offset="0.88" stop-color="#a09050" stop-opacity="1"/><stop offset="1" stop-color="#a09050" stop-opacity="0"/></radialGradient><radialGradient id="g141"><stop offset="0" stop-color="#d0c040" stop-opacity="0.8"/><stop offset="0.85" stop-color="#d0c040" stop-opacity="0.8"/><stop offset="1" stop-color="#d0c040" stop-opacity="0"/></radialGradient><radialGradient id="g142"><stop offset="0" stop-color="#4a90c8" stop-opacity="0.7"/><stop offset="0.85" stop-color="#4a90c8" stop-opacity="0.7"/><stop offset="1" stop-color="#4a90c8" stop-opacity="0"/></radialGradient><radialGradient id="g143"><stop offset="0" stop-color="#1e3494" stop-opacity="1"/><stop offset="0.6" stop-color="#1e3494" stop-opacity="1"/><stop offset="0.65" stop-color="#1e3494" stop-opacity="1"/><stop offset="1" stop-color="#1e3494" stop-opacity="0"/></radialGradient><radialGradient id="g144"><stop offset="0" stop-color="#64a428" stop-opacity="1"/><stop offset="0.6" stop-color="#64a428" stop-opacity="1"/><stop offset="0.8" stop-color="#64a428" stop-opacity="1"/><stop offset="1" stop-color="#64a428" stop-opacity="0"/></radialGradient><radialGradient id="g145"><stop offset="0" stop-color="#4a8a20" stop-opacity="0.6"/><stop offset="0.85" stop-color="#4a8a20" stop-opacity="0.6"/><stop offset="1" stop-color="#4a8a20" stop-opacity="0"/></radialGradient><radialGradient id="g146"><stop offset="0" stop-color="#a8b450" stop-opacity="1"/><stop offset="0.8" stop-color="#a8b450" stop-opacity="1"/><stop offset="0.88" stop-color="#c04030" stop-opacity="1"/><stop offset="1" stop-color="#c04030" stop-opacity="0"/></radialGradient><radialGradient id="g147"><stop offset="0" stop-color="#e06030" stop-opacity="0.8"/><stop offset="0.85" stop-color="#e06030" stop-opacity="0.8"/><stop offset="1" stop-color="#e06030" stop-opacity="0"/></radialGradient><radialGradient id="g148"><stop offset="0" stop-color="#78c070" stop-opacity="0.7"/><stop offset="0.85" stop-color="#78c070" stop-opacity="0.7"/><stop offset="1" stop-color="#78c070" stop-opacity="0"/></radialGradient><radialGradient id="g149"><stop offset="0" stop-color="#203aa0" stop-opacity="1"/><stop offset="0.6" stop-color="#203aa0" stop-opacity="1"/><stop offset="0.65" stop-color="#203aa0" stop-opacity="1"/><stop offset="1" stop-color="#203aa0" stop-opacity="0"/></radialGradient><radialGradient id="g150"><stop offset="0" stop-color="#509428" stop-opacity="1"/><stop offset="0.6" stop-color="#509428" stop-opacity="1"/><stop offset="0.8" stop-color="#509428" stop-opacity="1"/><stop offset="1" stop-color="#509428" stop-opacity="0"/></radialGradient><linearGradient id="cb151" x1="0" y1="0" x2="0" y2="1"><stop offset="0" stop-color="#d01010"/><stop offset="0.12" stop-color="#f07010"/><stop offset="0.24" stop-color="#e8d020"/><stop offset="0.4" stop-color="#60b030"/><stop offset="0.58" stop-color="#40b0d0"/><stop offset="0.78" stop-color="#2040b0"/><stop offset="0.92" stop-color="#6030a0"/><stop offset="1" stop-color="#a050b0"/></linearGradient><clipPath id="gc152"><rect x="35.40" y="386.20" width="56.60" height="56.60"/></clipPath><radialGradient id="g153"><stop offset="0" stop-color="#3a68b8" stop-opacity="1.0"/><stop offset="0.45" stop-color="#4472bc" stop-opacity="0.9"/><stop offset="0.75" stop-color="#6a8ecc" stop-opacity="0.5"/><stop offset="1" stop-color="#9ab0dc" stop-opacity="0"/></radialGradient><radialGradient id="g154"><stop offset="0" stop-color="#78bc50" stop-opacity="1.0"/><stop offset="0.55" stop-color="#70b458" stop-opacity="0.9"/><stop offset="1" stop-color="#5aa070" stop-opacity="0"/></radialGradient><radialGradient id="g155"><stop offset="0" stop-color="#d03c1c" stop-opacity="1.0"/><stop offset="0.3" stop-color="#e08a2c" stop-opacity="1.0"/><stop offset="0.65" stop-color="#d8c438" stop-opacity="0.9"/><stop offset="1" stop-color="#c8c840" stop-opacity="0"/></radialGradient><clipPath id="gc156"><rect x="111.00" y="386.20" width="56.60" height="56.60"/></clipPath><radialGradient id="g157"><stop offset="0" stop-color="#78bc50" stop-opacity="0.85"/><stop offset="0.55" stop-color="#70b458" stop-opacity="0.765"/><stop offset="1" stop-color="#5aa070" stop-opacity="0"/></radialGradient><radialGradient id="g158"><stop offset="0" stop-color="#d03c1c" stop-opacity="0.85"/><stop offset="0.3" stop-color="#e08a2c" stop-opacity="0.85"/><stop offset="0.65" stop-color="#d8c438" stop-opacity="0.765"/><stop offset="1" stop-color="#c8c840" stop-opacity="0"/></radialGradient><clipPath id="gc159"><rect x="186.40" y="386.20" width="56.60" height="56.60"/></clipPath><radialGradient id="g160"><stop offset="0" stop-color="#3a68b8" stop-opacity="0.6"/><stop offset="0.45" stop-color="#4472bc" stop-opacity="0.54"/><stop offset="0.75" stop-color="#6a8ecc" stop-opacity="0.3"/><stop offset="1" stop-color="#9ab0dc" stop-opacity="0"/></radialGradient><radialGradient id="g161"><stop offset="0" stop-color="#78bc50" stop-opacity="0.5"/><stop offset="0.55" stop-color="#70b458" stop-opacity="0.45"/><stop offset="1" stop-color="#5aa070" stop-opacity="0"/></radialGradient><radialGradient id="g162"><stop offset="0" stop-color="#d03c1c" stop-opacity="0.5"/><stop offset="0.3" stop-color="#e08a2c" stop-opacity="0.5"/><stop offset="0.65" stop-color="#d8c438" stop-opacity="0.45"/><stop offset="1" stop-color="#c8c840" stop-opacity="0"/></radialGradient><clipPath id="gc163"><rect x="261.80" y="386.20" width="56.60" height="56.60"/></clipPath><radialGradient id="g164"><stop offset="0" stop-color="#3a68b8" stop-opacity="0.8"/><stop offset="0.45" stop-color="#4472bc" stop-opacity="0.7200000000000001"/><stop offset="0.75" stop-color="#6a8ecc" stop-opacity="0.4"/><stop offset="1" stop-color="#9ab0dc" stop-opacity="0"/></radialGradient><radialGradient id="g165"><stop offset="0" stop-color="#78bc50" stop-opacity="0.7"/><stop offset="0.55" stop-color="#70b458" stop-opacity="0.63"/><stop offset="1" stop-color="#5aa070" stop-opacity="0"/></radialGradient><radialGradient id="g166"><stop offset="0" stop-color="#d03c1c" stop-opacity="0.7"/><stop offset="0.3" stop-color="#e08a2c" stop-opacity="0.7"/><stop offset="0.65" stop-color="#d8c438" stop-opacity="0.63"/><stop offset="1" stop-color="#c8c840" stop-opacity="0"/></radialGradient><clipPath id="gc167"><rect x="337.20" y="386.20" width="56.60" height="56.60"/></clipPath><radialGradient id="g168"><stop offset="0" stop-color="#3a68b8" stop-opacity="0.55"/><stop offset="0.45" stop-color="#4472bc" stop-opacity="0.49500000000000005"/><stop offset="0.75" stop-color="#6a8ecc" stop-opacity="0.275"/><stop offset="1" stop-color="#9ab0dc" stop-opacity="0"/></radialGradient><radialGradient id="g169"><stop offset="0" stop-color="#78bc50" stop-opacity="0.4"/><stop offset="0.55" stop-color="#70b458" stop-opacity="0.36000000000000004"/><stop offset="1" stop-color="#5aa070" stop-opacity="0"/></radialGradient><radialGradient id="g170"><stop offset="0" stop-color="#d03c1c" stop-opacity="0.4"/><stop offset="0.3" stop-color="#e08a2c" stop-opacity="0.4"/><stop offset="0.65" stop-color="#d8c438" stop-opacity="0.36000000000000004"/><stop offset="1" stop-color="#c8c840" stop-opacity="0"/></radialGradient></defs><rect x="0.00" y="0.00" width="520.00" height="481.00" fill="#fff" />
<text x="6.75" y="16.35" font-size="11.6" font-weight="bold" fill="#000" style="stroke:#000;stroke-width:0.3px">A</text>
<text x="223.80" y="16.60" font-size="11.6" font-weight="bold" fill="#000" style="stroke:#000;stroke-width:0.3px">B</text>
<text x="6.74" y="124.00" font-size="11.6" font-weight="bold" fill="#000" style="stroke:#000;stroke-width:0.3px">C</text>
<text x="357.00" y="16.30" font-size="11.6" font-weight="bold" fill="#000" style="stroke:#000;stroke-width:0.3px">D</text>
<text x="7.00" y="253.40" font-size="11.6" font-weight="bold" fill="#000" style="stroke:#000;stroke-width:0.3px">E</text>
<text x="334.10" y="253.00" font-size="11.6" font-weight="bold" fill="#000" style="stroke:#000;stroke-width:0.3px">F</text>
<text x="5.80" y="365.20" font-size="11.6" font-weight="bold" fill="#000" style="stroke:#000;stroke-width:0.3px">G</text>
<text x="409.90" y="364.90" font-size="11.6" font-weight="bold" fill="#000" style="stroke:#000;stroke-width:0.3px">H</text>
<text x="41.20" y="30.10" font-size="6.5" text-anchor="middle" fill="#111" textLength="15.3" lengthAdjust="spacingAndGlyphs">Ratio</text>
<text x="98.40" y="30.10" font-size="6.5" text-anchor="middle" fill="#111" textLength="22" lengthAdjust="spacingAndGlyphs">405 nm</text>
<text x="151.40" y="30.10" font-size="6.5" text-anchor="middle" fill="#111" textLength="22" lengthAdjust="spacingAndGlyphs">488 nm</text>
<rect x="17.00" y="33.80" width="50.80" height="39.00" fill="#140806" />
<g clip-path="url(#cl1)">
<circle cx="45.60" cy="39.10" r="6.60" fill="url(#g2)"/>
<circle cx="45.60" cy="39.10" r="6.27" fill="url(#g3)" filter="url(#sp1)"/>
<circle cx="45.60" cy="39.10" r="5.94" fill="url(#g4)" filter="url(#sp2)"/>
<circle cx="45.60" cy="39.10" r="6.27" fill="url(#g5)" filter="url(#sp4)"/>
<circle cx="20.20" cy="46.30" r="6.40" fill="url(#g6)"/>
<circle cx="20.20" cy="46.30" r="6.08" fill="url(#g7)" filter="url(#sp1)"/>
<circle cx="20.20" cy="46.30" r="5.76" fill="url(#g8)" filter="url(#sp2)"/>
<circle cx="20.20" cy="46.30" r="6.08" fill="url(#g5)" filter="url(#sp4)"/>
<circle cx="35.20" cy="50.50" r="7.50" fill="url(#g9)"/>
<circle cx="35.20" cy="50.50" r="7.12" fill="url(#g10)" filter="url(#sp1)"/>
<circle cx="35.20" cy="50.50" r="6.75" fill="url(#g11)" filter="url(#sp2)"/>
<circle cx="35.20" cy="50.50" r="7.12" fill="url(#g5)" filter="url(#sp4)"/>
<circle cx="58.60" cy="48.90" r="7.60" fill="url(#g12)"/>
<circle cx="58.60" cy="48.90" r="7.22" fill="url(#g13)" filter="url(#sp1)"/>
<circle cx="58.60" cy="48.90" r="6.84" fill="url(#g14)" filter="url(#sp2)"/>
<circle cx="58.60" cy="48.90" r="7.22" fill="url(#g5)" filter="url(#sp4)"/>
<circle cx="25.10" cy="63.00" r="7.70" fill="url(#g15)"/>
<circle cx="25.10" cy="63.00" r="7.31" fill="url(#g16)" filter="url(#sp1)"/>
<circle cx="25.10" cy="63.00" r="6.93" fill="url(#g17)" filter="url(#sp2)"/>
<circle cx="25.10" cy="63.00" r="7.31" fill="url(#g5)" filter="url(#sp4)"/>
<circle cx="52.30" cy="63.50" r="8.00" fill="url(#g18)"/>
<circle cx="52.30" cy="63.50" r="7.60" fill="url(#g19)" filter="url(#sp1)"/>
<circle cx="52.30" cy="63.50" r="7.20" fill="url(#g20)" filter="url(#sp2)"/>
<circle cx="52.30" cy="63.50" r="7.60" fill="url(#g5)" filter="url(#sp4)"/>
</g>
<rect x="71.00" y="33.80" width="50.80" height="39.00" fill="#070926" />
<g clip-path="url(#cl21)">
<circle cx="99.60" cy="39.10" r="7.20" fill="url(#g22)"/>
<circle cx="99.60" cy="39.10" r="6.27" fill="url(#g23)" filter="url(#sp5)"/>
<circle cx="74.20" cy="46.30" r="7.00" fill="url(#g24)"/>
<circle cx="74.20" cy="46.30" r="6.08" fill="url(#g23)" filter="url(#sp5)"/>
<circle cx="89.20" cy="50.50" r="8.10" fill="url(#g25)"/>
<circle cx="89.20" cy="50.50" r="7.12" fill="url(#g23)" filter="url(#sp5)"/>
<circle cx="112.60" cy="48.90" r="8.20" fill="url(#g26)"/>
<circle cx="112.60" cy="48.90" r="7.22" fill="url(#g23)" filter="url(#sp5)"/>
<circle cx="79.10" cy="63.00" r="8.30" fill="url(#g27)"/>
<circle cx="79.10" cy="63.00" r="7.31" fill="url(#g23)" filter="url(#sp5)"/>
<circle cx="106.30" cy="63.50" r="8.60" fill="url(#g28)"/>
<circle cx="106.30" cy="63.50" r="7.60" fill="url(#g23)" filter="url(#sp5)"/>
</g>
<rect x="125.00" y="33.80" width="50.80" height="39.00" fill="#030603" />
<g clip-path="url(#cl29)">
<circle cx="153.60" cy="39.10" r="7.20" fill="url(#g30)"/>
<circle cx="153.60" cy="39.10" r="6.27" fill="url(#g31)" filter="url(#sp5)"/>
<circle cx="128.20" cy="46.30" r="7.00" fill="url(#g32)"/>
<circle cx="128.20" cy="46.30" r="6.08" fill="url(#g31)" filter="url(#sp5)"/>
<circle cx="143.20" cy="50.50" r="8.10" fill="url(#g33)"/>
<circle cx="143.20" cy="50.50" r="7.12" fill="url(#g31)" filter="url(#sp5)"/>
<circle cx="166.60" cy="48.90" r="8.20" fill="url(#g34)"/>
<circle cx="166.60" cy="48.90" r="7.22" fill="url(#g31)" filter="url(#sp5)"/>
<circle cx="133.10" cy="63.00" r="8.30" fill="url(#g35)"/>
<circle cx="133.10" cy="63.00" r="7.31" fill="url(#g31)" filter="url(#sp5)"/>
<circle cx="160.30" cy="63.50" r="8.60" fill="url(#g36)"/>
<circle cx="160.30" cy="63.50" r="7.60" fill="url(#g31)" filter="url(#sp5)"/>
</g>
<polygon points="34.2,66.6 39.9,64.9 39.9,68.4" fill="#e02020"/>
<polygon points="45.8,57.6 41.0,53.6 44.4,51.8" fill="#8ad030"/>
<polygon points="58.6,39.9 57.0,35.1 60.2,35.1" fill="#c060d0"/>
<line x1="158.30" y1="68.10" x2="172.80" y2="68.10" stroke="#fff" stroke-width="1.3" />
<polygon points="17.2,78.8 17.2,82.8 22.6,80.8" fill="#e02020"/>
<text x="24.50" y="83.00" font-size="6.6" fill="#111" >High</text>
<polygon points="46.4,78.8 46.4,82.8 51.8,80.8" fill="#8ad030"/>
<text x="54.00" y="83.00" font-size="6.6" fill="#111" >Mid</text>
<polygon points="71.8,78.8 71.8,82.8 77.2,80.8" fill="#b050c0"/>
<text x="78.40" y="83.00" font-size="6.6" fill="#111" >Low</text>
<rect x="194.20" y="22.40" width="2.60" height="58.80" fill="url(#cb37)" />
<text x="199.00" y="25.45" font-size="6.8" fill="#111" >2.0</text>
<text x="199.00" y="37.25" font-size="6.8" fill="#111" >1.6</text>
<text x="199.00" y="49.05" font-size="6.8" fill="#111" >1.2</text>
<text x="199.00" y="60.85" font-size="6.8" fill="#111" >0.8</text>
<text x="199.00" y="72.65" font-size="6.8" fill="#111" >0.4</text>
<text x="199.00" y="84.45" font-size="6.8" fill="#111" >0.0</text>
<text x="0" y="0" font-size="6.8" text-anchor="middle" fill="#111" textLength="57.0" lengthAdjust="spacingAndGlyphs" transform="translate(191.75,52.20) rotate(-90)">Ratio F405/F488 nm</text>
<line x1="258.30" y1="22.50" x2="258.30" y2="83.20" stroke="#000" stroke-width="1.1" />
<line x1="257.80" y1="82.70" x2="306.30" y2="82.70" stroke="#000" stroke-width="1.1" />
<line x1="282.40" y1="82.70" x2="282.40" y2="85.80" stroke="#000" stroke-width="1" />
<line x1="255.60" y1="24.70" x2="258.30" y2="24.70" stroke="#000" stroke-width="1" />
<text x="253.60" y="27.00" font-size="6.3" text-anchor="end" fill="#111" >2.5</text>
<line x1="255.60" y1="35.32" x2="258.30" y2="35.32" stroke="#000" stroke-width="1" />
<text x="253.60" y="37.62" font-size="6.3" text-anchor="end" fill="#111" >2.0</text>
<line x1="255.60" y1="45.94" x2="258.30" y2="45.94" stroke="#000" stroke-width="1" />
<text x="253.60" y="48.24" font-size="6.3" text-anchor="end" fill="#111" >1.5</text>
<line x1="255.60" y1="56.56" x2="258.30" y2="56.56" stroke="#000" stroke-width="1" />
<text x="253.60" y="58.86" font-size="6.3" text-anchor="end" fill="#111" >1.0</text>
<line x1="255.60" y1="67.18" x2="258.30" y2="67.18" stroke="#000" stroke-width="1" />
<text x="253.60" y="69.48" font-size="6.3" text-anchor="end" fill="#111" >0.5</text>
<line x1="255.60" y1="77.80" x2="258.30" y2="77.80" stroke="#000" stroke-width="1" />
<text x="253.60" y="80.10" font-size="6.3" text-anchor="end" fill="#111" >0.0</text>
<text x="0" y="0" font-size="7.6" text-anchor="middle" fill="#111" textLength="63.5" lengthAdjust="spacingAndGlyphs" transform="translate(240.2,52.5) rotate(-90)">Ratio (F405/F488 nm)</text>
<text x="282.40" y="94.40" font-size="6.7" text-anchor="middle" fill="#111" textLength="40" lengthAdjust="spacingAndGlyphs">SoNar FL cells</text>
<rect x="266.6" y="23.6" width="32.6" height="15.6" fill="none" stroke="#d04858" stroke-width="0.8" stroke-dasharray="0.8,0.8"/>
<rect x="266.6" y="39.8" width="32.6" height="23.7" fill="none" stroke="#78b048" stroke-width="0.8" stroke-dasharray="0.8,0.8"/>
<rect x="266.6" y="64.2" width="32.6" height="13.9" fill="none" stroke="#8888d8" stroke-width="0.8" stroke-dasharray="0.8,0.8"/>
<text x="301.80" y="34.00" font-size="5.3" fill="#111" >High (10.32%)</text>
<text x="301.80" y="54.00" font-size="5.3" fill="#111" >Mid (75.01%)</text>
<text x="301.80" y="73.40" font-size="5.3" fill="#111" >Low (14.67%)</text>
<line x1="281.20" y1="30.60" x2="283.40" y2="30.60" stroke="#3a4258" stroke-width="0.7" stroke-dasharray="0.9,0.3"/>
<line x1="280.80" y1="31.80" x2="284.00" y2="31.80" stroke="#3a4258" stroke-width="0.7" stroke-dasharray="0.9,0.3"/>
<line x1="281.00" y1="33.20" x2="283.80" y2="33.20" stroke="#3e4660" stroke-width="0.7" stroke-dasharray="0.9,0.3"/>
<line x1="280.60" y1="35.40" x2="284.60" y2="35.40" stroke="#3a4258" stroke-width="0.7" stroke-dasharray="0.9,0.3"/>
<line x1="279.80" y1="36.80" x2="285.80" y2="36.80" stroke="#4a5068" stroke-width="0.7" stroke-dasharray="0.9,0.3"/>
<line x1="279.40" y1="38.00" x2="286.40" y2="38.00" stroke="#3a4058" stroke-width="0.7" stroke-dasharray="0.9,0.3"/>
<line x1="278.40" y1="39.40" x2="286.60" y2="39.40" stroke="#3a4258" stroke-width="0.7" stroke-dasharray="0.9,0.3"/>
<line x1="277.00" y1="41.10" x2="288.00" y2="41.10" stroke="#4a5068" stroke-width="0.7" stroke-dasharray="0.9,0.3"/>
<line x1="278.30" y1="43.20" x2="286.30" y2="43.20" stroke="#3a4258" stroke-width="0.7" stroke-dasharray="0.9,0.3"/>
<line x1="277.60" y1="44.60" x2="287.00" y2="44.60" stroke="#3e4660" stroke-width="0.7" stroke-dasharray="0.9,0.3"/>
<line x1="279.00" y1="45.80" x2="286.30" y2="45.80" stroke="#4a5068" stroke-width="0.7" stroke-dasharray="0.9,0.3"/>
<line x1="276.80" y1="47.80" x2="288.20" y2="47.80" stroke="#3a4058" stroke-width="0.7" stroke-dasharray="0.9,0.3"/>
<line x1="276.20" y1="49.20" x2="289.00" y2="49.20" stroke="#3e4660" stroke-width="0.7" stroke-dasharray="0.9,0.3"/>
<line x1="275.50" y1="50.30" x2="289.70" y2="50.30" stroke="#3a4258" stroke-width="0.7" stroke-dasharray="0.9,0.3"/>
<line x1="274.80" y1="51.30" x2="290.40" y2="51.30" stroke="#3e4660" stroke-width="0.7" stroke-dasharray="0.9,0.3"/>
<line x1="274.00" y1="52.30" x2="291.20" y2="52.30" stroke="#4a5068" stroke-width="0.7" stroke-dasharray="0.9,0.3"/>
<line x1="267.80" y1="53.50" x2="296.80" y2="53.50" stroke="#30384e" stroke-width="0.7" stroke-dasharray="0.9,0.3"/>
<line x1="272.80" y1="54.60" x2="291.80" y2="54.60" stroke="#4a5068" stroke-width="0.7" stroke-dasharray="0.9,0.3"/>
<line x1="274.00" y1="55.50" x2="290.60" y2="55.50" stroke="#3e4660" stroke-width="0.7" stroke-dasharray="0.9,0.3"/>
<line x1="275.20" y1="56.30" x2="289.40" y2="56.30" stroke="#4a5068" stroke-width="0.7" stroke-dasharray="0.9,0.3"/>
<line x1="274.20" y1="57.70" x2="288.80" y2="57.70" stroke="#3a4258" stroke-width="0.7" stroke-dasharray="0.9,0.3"/>
<line x1="273.00" y1="59.20" x2="293.00" y2="59.20" stroke="#4a5068" stroke-width="0.7" stroke-dasharray="0.9,0.3"/>
<line x1="277.70" y1="60.80" x2="286.90" y2="60.80" stroke="#3a4258" stroke-width="0.7" stroke-dasharray="0.9,0.3"/>
<line x1="278.30" y1="62.30" x2="286.90" y2="62.30" stroke="#3e4660" stroke-width="0.7" stroke-dasharray="0.9,0.3"/>
<line x1="280.10" y1="63.80" x2="285.70" y2="63.80" stroke="#3a4258" stroke-width="0.7" stroke-dasharray="0.9,0.3"/>
<line x1="280.80" y1="65.70" x2="284.50" y2="65.70" stroke="#3e4660" stroke-width="0.7" stroke-dasharray="0.9,0.3"/>
<line x1="274.00" y1="67.50" x2="291.20" y2="67.50" stroke="#4a5068" stroke-width="0.7" stroke-dasharray="0.9,0.3"/>
<line x1="275.80" y1="69.10" x2="288.20" y2="69.10" stroke="#3a4258" stroke-width="0.7" stroke-dasharray="0.9,0.3"/>
<line x1="280.00" y1="70.60" x2="285.00" y2="70.60" stroke="#3e4660" stroke-width="0.7" stroke-dasharray="0.9,0.3"/>
<line x1="397.50" y1="30.50" x2="397.50" y2="83.20" stroke="#000" stroke-width="1.1" />
<line x1="397.00" y1="82.80" x2="472.00" y2="82.80" stroke="#000" stroke-width="1.1" />
<line x1="394.80" y1="82.70" x2="397.50" y2="82.70" stroke="#000" stroke-width="1" />
<text x="392.2" y="85.10" font-size="6.6" text-anchor="end" fill="#111">0</text>
<line x1="394.80" y1="66.10" x2="397.50" y2="66.10" stroke="#000" stroke-width="1" />
<text x="392.2" y="68.50" font-size="6.6" text-anchor="end" fill="#111">1</text>
<line x1="394.80" y1="49.50" x2="397.50" y2="49.50" stroke="#000" stroke-width="1" />
<text x="392.2" y="51.90" font-size="6.6" text-anchor="end" fill="#111">2</text>
<line x1="394.80" y1="32.90" x2="397.50" y2="32.90" stroke="#000" stroke-width="1" />
<text x="392.2" y="35.30" font-size="6.6" text-anchor="end" fill="#111">3</text>
<line x1="397.60" y1="82.80" x2="397.60" y2="85.40" stroke="#000" stroke-width="1" />
<text x="397.60" y="94.1" font-size="6.6" text-anchor="middle" fill="#111">0</text>
<line x1="421.50" y1="82.80" x2="421.50" y2="85.40" stroke="#000" stroke-width="1" />
<text x="421.50" y="94.1" font-size="6.6" text-anchor="middle" fill="#111">5</text>
<line x1="445.40" y1="82.80" x2="445.40" y2="85.40" stroke="#000" stroke-width="1" />
<text x="445.40" y="94.1" font-size="6.6" text-anchor="middle" fill="#111">10</text>
<line x1="469.30" y1="82.80" x2="469.30" y2="85.40" stroke="#000" stroke-width="1" />
<text x="469.30" y="94.1" font-size="6.6" text-anchor="middle" fill="#111">15</text>
<text x="434.7" y="105.6" font-size="8.6" text-anchor="middle" fill="#111" textLength="35.0" lengthAdjust="spacingAndGlyphs" style="stroke-width:0.05">Time (mins)</text>
<text x="0" y="0" font-size="8.4" text-anchor="middle" fill="#111" textLength="34.3" lengthAdjust="spacingAndGlyphs" style="stroke-width:0.05" transform="translate(372.8,56.45) rotate(-90)">Normalized</text>
<text x="0" y="0" font-size="7.4" text-anchor="middle" fill="#111" textLength="44.3" lengthAdjust="spacingAndGlyphs" style="stroke-width:0.05" transform="translate(382.8,55.25) rotate(-90)">F405/F488 nm</text>
<line x1="400.20" y1="23.10" x2="406.60" y2="23.10" stroke="#f0a030" stroke-width="1.1" />
<circle cx="403.40" cy="23.10" r="0.9" fill="#f0a030"/>
<text x="409.10" y="25.10" font-size="5.8" fill="#111" textLength="22.7" lengthAdjust="spacingAndGlyphs">Ctrl (PBS)</text>
<line x1="400.20" y1="31.40" x2="406.60" y2="31.40" stroke="#2d5296" stroke-width="1.1" />
<circle cx="403.40" cy="31.40" r="0.9" fill="#2d5296"/>
<text x="409.10" y="33.40" font-size="5.8" fill="#111" textLength="20.8" lengthAdjust="spacingAndGlyphs">Pyruvate</text>
<line x1="400.20" y1="39.70" x2="406.60" y2="39.70" stroke="#b81840" stroke-width="1.1" />
<circle cx="403.40" cy="39.70" r="0.9" fill="#b81840"/>
<text x="409.10" y="41.70" font-size="5.8" fill="#111" textLength="21.8" lengthAdjust="spacingAndGlyphs">Oxamate</text>
<line x1="439.40" y1="23.10" x2="445.80" y2="23.10" stroke="#5a2a88" stroke-width="1.1" />
<circle cx="442.60" cy="23.10" r="0.9" fill="#5a2a88"/>
<text x="448.30" y="25.10" font-size="5.8" fill="#111" textLength="11.5" lengthAdjust="spacingAndGlyphs">AOA</text>
<line x1="439.40" y1="31.40" x2="445.80" y2="31.40" stroke="#68b048" stroke-width="1.1" />
<circle cx="442.60" cy="31.40" r="0.9" fill="#68b048"/>
<text x="448.30" y="33.40" font-size="5.8" fill="#111" textLength="22.6" lengthAdjust="spacingAndGlyphs">Rotenone</text>
<polyline points="397.60,66.10 402.38,65.27 407.16,64.77 411.94,64.44 416.72,63.61 421.50,62.78 426.28,62.45 431.06,62.12 435.84,62.12 440.62,62.12 445.40,62.12 450.18,62.12 454.96,62.12 459.74,62.12 464.52,62.12 469.30,62.45" fill="none" stroke="#f0a030" stroke-width="1.0"/>
<circle cx="397.60" cy="66.10" r="0.7" fill="#f0a030"/>
<circle cx="402.38" cy="65.27" r="0.7" fill="#f0a030"/>
<circle cx="407.16" cy="64.77" r="0.7" fill="#f0a030"/>
<circle cx="411.94" cy="64.44" r="0.7" fill="#f0a030"/>
<circle cx="416.72" cy="63.61" r="0.7" fill="#f0a030"/>
<circle cx="421.50" cy="62.78" r="0.7" fill="#f0a030"/>
<circle cx="426.28" cy="62.45" r="0.7" fill="#f0a030"/>
<circle cx="431.06" cy="62.12" r="0.7" fill="#f0a030"/>
<circle cx="435.84" cy="62.12" r="0.7" fill="#f0a030"/>
<circle cx="440.62" cy="62.12" r="0.7" fill="#f0a030"/>
<circle cx="445.40" cy="62.12" r="0.7" fill="#f0a030"/>
<circle cx="450.18" cy="62.12" r="0.7" fill="#f0a030"/>
<circle cx="454.96" cy="62.12" r="0.7" fill="#f0a030"/>
<circle cx="459.74" cy="62.12" r="0.7" fill="#f0a030"/>
<circle cx="464.52" cy="62.12" r="0.7" fill="#f0a030"/>
<circle cx="469.30" cy="62.45" r="0.7" fill="#f0a030"/>
<polyline points="397.60,66.10 402.38,65.77 407.16,65.77 411.94,65.77 416.72,66.76 421.50,69.42 426.28,70.75 431.06,71.08 435.84,71.41 440.62,71.41 445.40,71.41 450.18,71.41 454.96,71.41 459.74,71.41 464.52,71.41 469.30,71.41" fill="none" stroke="#2d5296" stroke-width="1.0"/>
<circle cx="397.60" cy="66.10" r="0.7" fill="#2d5296"/>
<circle cx="402.38" cy="65.77" r="0.7" fill="#2d5296"/>
<circle cx="407.16" cy="65.77" r="0.7" fill="#2d5296"/>
<circle cx="411.94" cy="65.77" r="0.7" fill="#2d5296"/>
<circle cx="416.72" cy="66.76" r="0.7" fill="#2d5296"/>
<circle cx="421.50" cy="69.42" r="0.7" fill="#2d5296"/>
<circle cx="426.28" cy="70.75" r="0.7" fill="#2d5296"/>
<circle cx="431.06" cy="71.08" r="0.7" fill="#2d5296"/>
<circle cx="435.84" cy="71.41" r="0.7" fill="#2d5296"/>
<circle cx="440.62" cy="71.41" r="0.7" fill="#2d5296"/>
<circle cx="445.40" cy="71.41" r="0.7" fill="#2d5296"/>
<circle cx="450.18" cy="71.41" r="0.7" fill="#2d5296"/>
<circle cx="454.96" cy="71.41" r="0.7" fill="#2d5296"/>
<circle cx="459.74" cy="71.41" r="0.7" fill="#2d5296"/>
<circle cx="464.52" cy="71.41" r="0.7" fill="#2d5296"/>
<circle cx="469.30" cy="71.41" r="0.7" fill="#2d5296"/>
<polyline points="397.60,66.10 402.38,65.77 407.16,65.44 411.94,64.94 416.72,64.11 421.50,62.78 426.28,61.29 431.06,60.79 435.84,59.29 440.62,56.97 445.40,54.98 450.18,53.98 454.96,53.48 459.74,53.15 464.52,52.32 469.30,51.82" fill="none" stroke="#68b048" stroke-width="1.0"/>
<circle cx="397.60" cy="66.10" r="0.7" fill="#68b048"/>
<circle cx="402.38" cy="65.77" r="0.7" fill="#68b048"/>
<circle cx="407.16" cy="65.44" r="0.7" fill="#68b048"/>
<circle cx="411.94" cy="64.94" r="0.7" fill="#68b048"/>
<circle cx="416.72" cy="64.11" r="0.7" fill="#68b048"/>
<circle cx="421.50" cy="62.78" r="0.7" fill="#68b048"/>
<circle cx="426.28" cy="61.29" r="0.7" fill="#68b048"/>
<line x1="426.28" y1="62.45" x2="426.28" y2="60.12" stroke="#68b048" stroke-width="0.6" />
<line x1="425.48" y1="60.12" x2="427.08" y2="60.12" stroke="#68b048" stroke-width="0.5" />
<circle cx="431.06" cy="60.79" r="0.7" fill="#68b048"/>
<line x1="431.06" y1="61.95" x2="431.06" y2="59.63" stroke="#68b048" stroke-width="0.6" />
<line x1="430.26" y1="59.63" x2="431.86" y2="59.63" stroke="#68b048" stroke-width="0.5" />
<circle cx="435.84" cy="59.29" r="0.7" fill="#68b048"/>
<line x1="435.84" y1="60.46" x2="435.84" y2="58.13" stroke="#68b048" stroke-width="0.6" />
<line x1="435.04" y1="58.13" x2="436.64" y2="58.13" stroke="#68b048" stroke-width="0.5" />
<circle cx="440.62" cy="56.97" r="0.7" fill="#68b048"/>
<line x1="440.62" y1="58.13" x2="440.62" y2="55.81" stroke="#68b048" stroke-width="0.6" />
<line x1="439.82" y1="55.81" x2="441.42" y2="55.81" stroke="#68b048" stroke-width="0.5" />
<circle cx="445.40" cy="54.98" r="0.7" fill="#68b048"/>
<line x1="445.40" y1="56.14" x2="445.40" y2="53.82" stroke="#68b048" stroke-width="0.6" />
<line x1="444.60" y1="53.82" x2="446.20" y2="53.82" stroke="#68b048" stroke-width="0.5" />
<circle cx="450.18" cy="53.98" r="0.7" fill="#68b048"/>
<line x1="450.18" y1="55.14" x2="450.18" y2="52.82" stroke="#68b048" stroke-width="0.6" />
<line x1="449.38" y1="52.82" x2="450.98" y2="52.82" stroke="#68b048" stroke-width="0.5" />
<circle cx="454.96" cy="53.48" r="0.7" fill="#68b048"/>
<line x1="454.96" y1="54.65" x2="454.96" y2="52.32" stroke="#68b048" stroke-width="0.6" />
<line x1="454.16" y1="52.32" x2="455.76" y2="52.32" stroke="#68b048" stroke-width="0.5" />
<circle cx="459.74" cy="53.15" r="0.7" fill="#68b048"/>
<line x1="459.74" y1="54.31" x2="459.74" y2="51.99" stroke="#68b048" stroke-width="0.6" />
<line x1="458.94" y1="51.99" x2="460.54" y2="51.99" stroke="#68b048" stroke-width="0.5" />
<circle cx="464.52" cy="52.32" r="0.7" fill="#68b048"/>
<line x1="464.52" y1="53.48" x2="464.52" y2="51.16" stroke="#68b048" stroke-width="0.6" />
<line x1="463.72" y1="51.16" x2="465.32" y2="51.16" stroke="#68b048" stroke-width="0.5" />
<circle cx="469.30" cy="51.82" r="0.7" fill="#68b048"/>
<line x1="469.30" y1="52.99" x2="469.30" y2="50.66" stroke="#68b048" stroke-width="0.6" />
<line x1="468.50" y1="50.66" x2="470.10" y2="50.66" stroke="#68b048" stroke-width="0.5" />
<polyline points="397.60,66.10 402.38,66.60 407.16,67.26 411.94,66.27 416.72,65.27 421.50,62.78 426.28,60.12 431.06,56.47 435.84,53.98 440.62,51.16 445.40,49.67 450.18,49.17 454.96,48.50 459.74,48.50 464.52,48.50 469.30,48.50" fill="none" stroke="#5a2a88" stroke-width="1.0"/>
<circle cx="397.60" cy="66.10" r="0.7" fill="#5a2a88"/>
<circle cx="402.38" cy="66.60" r="0.7" fill="#5a2a88"/>
<circle cx="407.16" cy="67.26" r="0.7" fill="#5a2a88"/>
<circle cx="411.94" cy="66.27" r="0.7" fill="#5a2a88"/>
<circle cx="416.72" cy="65.27" r="0.7" fill="#5a2a88"/>
<circle cx="421.50" cy="62.78" r="0.7" fill="#5a2a88"/>
<circle cx="426.28" cy="60.12" r="0.7" fill="#5a2a88"/>
<line x1="426.28" y1="61.29" x2="426.28" y2="58.96" stroke="#5a2a88" stroke-width="0.6" />
<line x1="425.48" y1="58.96" x2="427.08" y2="58.96" stroke="#5a2a88" stroke-width="0.5" />
<circle cx="431.06" cy="56.47" r="0.7" fill="#5a2a88"/>
<line x1="431.06" y1="57.63" x2="431.06" y2="55.31" stroke="#5a2a88" stroke-width="0.6" />
<line x1="430.26" y1="55.31" x2="431.86" y2="55.31" stroke="#5a2a88" stroke-width="0.5" />
<circle cx="435.84" cy="53.98" r="0.7" fill="#5a2a88"/>
<line x1="435.84" y1="55.14" x2="435.84" y2="52.82" stroke="#5a2a88" stroke-width="0.6" />
<line x1="435.04" y1="52.82" x2="436.64" y2="52.82" stroke="#5a2a88" stroke-width="0.5" />
<circle cx="440.62" cy="51.16" r="0.7" fill="#5a2a88"/>
<line x1="440.62" y1="53.32" x2="440.62" y2="49.00" stroke="#5a2a88" stroke-width="0.6" />
<line x1="439.82" y1="49.00" x2="441.42" y2="49.00" stroke="#5a2a88" stroke-width="0.5" />
<circle cx="445.40" cy="49.67" r="0.7" fill="#5a2a88"/>
<line x1="445.40" y1="51.82" x2="445.40" y2="47.51" stroke="#5a2a88" stroke-width="0.6" />
<line x1="444.60" y1="47.51" x2="446.20" y2="47.51" stroke="#5a2a88" stroke-width="0.5" />
<circle cx="450.18" cy="49.17" r="0.7" fill="#5a2a88"/>
<line x1="450.18" y1="51.33" x2="450.18" y2="47.01" stroke="#5a2a88" stroke-width="0.6" />
<line x1="449.38" y1="47.01" x2="450.98" y2="47.01" stroke="#5a2a88" stroke-width="0.5" />
<circle cx="454.96" cy="48.50" r="0.7" fill="#5a2a88"/>
<line x1="454.96" y1="50.66" x2="454.96" y2="46.35" stroke="#5a2a88" stroke-width="0.6" />
<line x1="454.16" y1="46.35" x2="455.76" y2="46.35" stroke="#5a2a88" stroke-width="0.5" />
<circle cx="459.74" cy="48.50" r="0.7" fill="#5a2a88"/>
<line x1="459.74" y1="50.66" x2="459.74" y2="46.35" stroke="#5a2a88" stroke-width="0.6" />
<line x1="458.94" y1="46.35" x2="460.54" y2="46.35" stroke="#5a2a88" stroke-width="0.5" />
<circle cx="464.52" cy="48.50" r="0.7" fill="#5a2a88"/>
<line x1="464.52" y1="50.66" x2="464.52" y2="46.35" stroke="#5a2a88" stroke-width="0.6" />
<line x1="463.72" y1="46.35" x2="465.32" y2="46.35" stroke="#5a2a88" stroke-width="0.5" />
<circle cx="469.30" cy="48.50" r="0.7" fill="#5a2a88"/>
<line x1="469.30" y1="50.66" x2="469.30" y2="46.35" stroke="#5a2a88" stroke-width="0.6" />
<line x1="468.50" y1="46.35" x2="470.10" y2="46.35" stroke="#5a2a88" stroke-width="0.5" />
<polyline points="397.60,66.10 402.38,66.60 407.16,65.27 411.94,63.11 416.72,60.62 421.50,58.46 426.28,56.80 431.06,55.31 435.84,53.98 440.62,52.99 445.40,52.32 450.18,52.16 454.96,52.16 459.74,52.16 464.52,52.99 469.30,53.98" fill="none" stroke="#b81840" stroke-width="1.0"/>
<circle cx="397.60" cy="66.10" r="0.7" fill="#b81840"/>
<circle cx="402.38" cy="66.60" r="0.7" fill="#b81840"/>
<circle cx="407.16" cy="65.27" r="0.7" fill="#b81840"/>
<circle cx="411.94" cy="63.11" r="0.7" fill="#b81840"/>
<circle cx="416.72" cy="60.62" r="0.7" fill="#b81840"/>
<circle cx="421.50" cy="58.46" r="0.7" fill="#b81840"/>
<circle cx="426.28" cy="56.80" r="0.7" fill="#b81840"/>
<line x1="426.28" y1="57.97" x2="426.28" y2="55.64" stroke="#b81840" stroke-width="0.6" />
<line x1="425.48" y1="55.64" x2="427.08" y2="55.64" stroke="#b81840" stroke-width="0.5" />
<circle cx="431.06" cy="55.31" r="0.7" fill="#b81840"/>
<line x1="431.06" y1="56.47" x2="431.06" y2="54.15" stroke="#b81840" stroke-width="0.6" />
<line x1="430.26" y1="54.15" x2="431.86" y2="54.15" stroke="#b81840" stroke-width="0.5" />
<circle cx="435.84" cy="53.98" r="0.7" fill="#b81840"/>
<line x1="435.84" y1="55.14" x2="435.84" y2="52.82" stroke="#b81840" stroke-width="0.6" />
<line x1="435.04" y1="52.82" x2="436.64" y2="52.82" stroke="#b81840" stroke-width="0.5" />
<circle cx="440.62" cy="52.99" r="0.7" fill="#b81840"/>
<line x1="440.62" y1="54.15" x2="440.62" y2="51.82" stroke="#b81840" stroke-width="0.6" />
<line x1="439.82" y1="51.82" x2="441.42" y2="51.82" stroke="#b81840" stroke-width="0.5" />
<circle cx="445.40" cy="52.32" r="0.7" fill="#b81840"/>
<line x1="445.40" y1="53.48" x2="445.40" y2="51.16" stroke="#b81840" stroke-width="0.6" />
<line x1="444.60" y1="51.16" x2="446.20" y2="51.16" stroke="#b81840" stroke-width="0.5" />
<circle cx="450.18" cy="52.16" r="0.7" fill="#b81840"/>
<line x1="450.18" y1="53.32" x2="450.18" y2="50.99" stroke="#b81840" stroke-width="0.6" />
<line x1="449.38" y1="50.99" x2="450.98" y2="50.99" stroke="#b81840" stroke-width="0.5" />
<circle cx="454.96" cy="52.16" r="0.7" fill="#b81840"/>
<line x1="454.96" y1="53.32" x2="454.96" y2="50.99" stroke="#b81840" stroke-width="0.6" />
<line x1="454.16" y1="50.99" x2="455.76" y2="50.99" stroke="#b81840" stroke-width="0.5" />
<circle cx="459.74" cy="52.16" r="0.7" fill="#b81840"/>
<line x1="459.74" y1="53.32" x2="459.74" y2="50.99" stroke="#b81840" stroke-width="0.6" />
<line x1="458.94" y1="50.99" x2="460.54" y2="50.99" stroke="#b81840" stroke-width="0.5" />
<circle cx="464.52" cy="52.99" r="0.7" fill="#b81840"/>
<line x1="464.52" y1="54.15" x2="464.52" y2="51.82" stroke="#b81840" stroke-width="0.6" />
<line x1="463.72" y1="51.82" x2="465.32" y2="51.82" stroke="#b81840" stroke-width="0.5" />
<circle cx="469.30" cy="53.98" r="0.7" fill="#b81840"/>
<line x1="469.30" y1="55.14" x2="469.30" y2="52.82" stroke="#b81840" stroke-width="0.6" />
<line x1="468.50" y1="52.82" x2="470.10" y2="52.82" stroke="#b81840" stroke-width="0.5" />
<text x="36.60" y="154.20" font-size="6.5" text-anchor="end" fill="#111" >Ratio</text>
<text x="36.60" y="175.20" font-size="6.5" text-anchor="end" fill="#111" >405 nm</text>
<text x="36.60" y="196.20" font-size="6.5" text-anchor="end" fill="#111" >488 nm</text>
<text x="36.60" y="217.20" font-size="6.5" text-anchor="end" fill="#111" >Merge</text>
<text x="79.50" y="125.80" font-size="6.3" text-anchor="middle" fill="#111" >PBS</text>
<line x1="42.20" y1="129.40" x2="116.50" y2="129.40" stroke="#808080" stroke-width="1.0" />
<text x="49.70" y="138.40" font-size="6.4" text-anchor="middle" fill="#111" >0 min</text>
<rect x="40.00" y="143.10" width="19.40" height="19.60" fill="#160a08" />
<circle cx="49.90" cy="152.90" r="8.00" fill="url(#g38)"/>
<circle cx="49.90" cy="152.90" r="7.12" fill="url(#g39)" filter="url(#sp1)"/>
<circle cx="49.90" cy="152.90" r="6.75" fill="url(#g40)" filter="url(#sp2)"/>
<rect x="40.00" y="164.10" width="19.40" height="19.60" fill="#05061e" />
<circle cx="49.90" cy="173.90" r="8.40" fill="url(#g41)"/>
<circle cx="49.90" cy="173.90" r="6.75" fill="url(#g42)" filter="url(#sp3)"/>
<rect x="40.00" y="185.10" width="19.40" height="19.60" fill="#030503" />
<circle cx="49.90" cy="194.90" r="8.00" fill="url(#g43)"/>
<circle cx="49.90" cy="194.90" r="6.75" fill="url(#g44)" filter="url(#sp1)"/>
<rect x="40.00" y="206.10" width="19.40" height="19.60" fill="#4a5262" />
<rect x="40.00" y="206.10" width="19.40" height="19.60" fill="#8890a0" opacity="0.45" filter="url(#sp3)"/>
<circle cx="49.90" cy="215.90" r="9.40" fill="url(#g45)"/>
<circle cx="49.90" cy="215.90" r="8.40" fill="url(#g46)"/>
<circle cx="49.90" cy="215.90" r="6.38" fill="url(#g47)" filter="url(#sp4)"/>
<text x="70.70" y="138.40" font-size="6.4" text-anchor="middle" fill="#111" >5 min</text>
<rect x="61.00" y="143.10" width="19.40" height="19.60" fill="#160a08" />
<circle cx="70.90" cy="152.90" r="8.00" fill="url(#g38)"/>
<circle cx="70.90" cy="152.90" r="7.12" fill="url(#g39)" filter="url(#sp1)"/>
<circle cx="70.90" cy="152.90" r="6.75" fill="url(#g40)" filter="url(#sp2)"/>
<rect x="61.00" y="164.10" width="19.40" height="19.60" fill="#05061e" />
<circle cx="70.90" cy="173.90" r="8.40" fill="url(#g41)"/>
<circle cx="70.90" cy="173.90" r="6.75" fill="url(#g42)" filter="url(#sp3)"/>
<rect x="61.00" y="185.10" width="19.40" height="19.60" fill="#030503" />
<circle cx="70.90" cy="194.90" r="8.00" fill="url(#g43)"/>
<circle cx="70.90" cy="194.90" r="6.75" fill="url(#g44)" filter="url(#sp1)"/>
<rect x="61.00" y="206.10" width="19.40" height="19.60" fill="#4a5262" />
<rect x="61.00" y="206.10" width="19.40" height="19.60" fill="#8890a0" opacity="0.45" filter="url(#sp3)"/>
<circle cx="70.90" cy="215.90" r="9.40" fill="url(#g45)"/>
<circle cx="70.90" cy="215.90" r="8.40" fill="url(#g46)"/>
<circle cx="70.90" cy="215.90" r="6.38" fill="url(#g47)" filter="url(#sp4)"/>
<text x="91.70" y="138.40" font-size="6.4" text-anchor="middle" fill="#111" >10 min</text>
<rect x="82.00" y="143.10" width="19.40" height="19.60" fill="#160a08" />
<circle cx="91.90" cy="152.90" r="8.00" fill="url(#g38)"/>
<circle cx="91.90" cy="152.90" r="7.12" fill="url(#g39)" filter="url(#sp1)"/>
<circle cx="91.90" cy="152.90" r="6.75" fill="url(#g40)" filter="url(#sp2)"/>
<rect x="82.00" y="164.10" width="19.40" height="19.60" fill="#05061e" />
<circle cx="91.90" cy="173.90" r="8.40" fill="url(#g41)"/>
<circle cx="91.90" cy="173.90" r="6.75" fill="url(#g42)" filter="url(#sp3)"/>
<rect x="82.00" y="185.10" width="19.40" height="19.60" fill="#030503" />
<circle cx="91.90" cy="194.90" r="8.00" fill="url(#g43)"/>
<circle cx="91.90" cy="194.90" r="6.75" fill="url(#g44)" filter="url(#sp1)"/>
<rect x="82.00" y="206.10" width="19.40" height="19.60" fill="#4a5262" />
<rect x="82.00" y="206.10" width="19.40" height="19.60" fill="#8890a0" opacity="0.45" filter="url(#sp3)"/>
<circle cx="91.90" cy="215.90" r="9.40" fill="url(#g45)"/>
<circle cx="91.90" cy="215.90" r="8.40" fill="url(#g46)"/>
<circle cx="91.90" cy="215.90" r="6.38" fill="url(#g47)" filter="url(#sp4)"/>
<text x="112.70" y="138.40" font-size="6.4" text-anchor="middle" fill="#111" >15 min</text>
<rect x="103.00" y="143.10" width="19.40" height="19.60" fill="#160a08" />
<circle cx="112.90" cy="152.90" r="8.00" fill="url(#g38)"/>
<circle cx="112.90" cy="152.90" r="7.12" fill="url(#g39)" filter="url(#sp1)"/>
<circle cx="112.90" cy="152.90" r="6.75" fill="url(#g40)" filter="url(#sp2)"/>
<rect x="103.00" y="164.10" width="19.40" height="19.60" fill="#05061e" />
<circle cx="112.90" cy="173.90" r="8.40" fill="url(#g41)"/>
<circle cx="112.90" cy="173.90" r="6.75" fill="url(#g42)" filter="url(#sp3)"/>
<rect x="103.00" y="185.10" width="19.40" height="19.60" fill="#030503" />
<circle cx="112.90" cy="194.90" r="8.00" fill="url(#g43)"/>
<circle cx="112.90" cy="194.90" r="6.75" fill="url(#g44)" filter="url(#sp1)"/>
<rect x="103.00" y="206.10" width="19.40" height="19.60" fill="#4a5262" />
<rect x="103.00" y="206.10" width="19.40" height="19.60" fill="#8890a0" opacity="0.45" filter="url(#sp3)"/>
<circle cx="112.90" cy="215.90" r="9.40" fill="url(#g45)"/>
<circle cx="112.90" cy="215.90" r="8.40" fill="url(#g46)"/>
<circle cx="112.90" cy="215.90" r="6.38" fill="url(#g47)" filter="url(#sp4)"/>
<text x="164.50" y="125.80" font-size="6.3" text-anchor="middle" fill="#111" >Pyruvate</text>
<line x1="127.20" y1="129.40" x2="201.50" y2="129.40" stroke="#808080" stroke-width="1.0" />
<text x="134.70" y="138.40" font-size="6.4" text-anchor="middle" fill="#111" >0 min</text>
<rect x="125.00" y="143.10" width="19.40" height="19.60" fill="#160a08" />
<circle cx="134.90" cy="152.90" r="7.80" fill="url(#g48)"/>
<circle cx="134.90" cy="152.90" r="6.93" fill="url(#g49)" filter="url(#sp1)"/>
<circle cx="134.90" cy="152.90" r="6.57" fill="url(#g50)" filter="url(#sp2)"/>
<rect x="125.00" y="164.10" width="19.40" height="19.60" fill="#05061e" />
<circle cx="134.90" cy="173.90" r="8.20" fill="url(#g51)"/>
<circle cx="134.90" cy="173.90" r="6.57" fill="url(#g42)" filter="url(#sp3)"/>
<rect x="125.00" y="185.10" width="19.40" height="19.60" fill="#030503" />
<circle cx="134.90" cy="194.90" r="7.80" fill="url(#g52)"/>
<circle cx="134.90" cy="194.90" r="6.57" fill="url(#g44)" filter="url(#sp1)"/>
<rect x="125.00" y="206.10" width="19.40" height="19.60" fill="#a4a4a8" />
<rect x="125.00" y="206.10" width="19.40" height="19.60" fill="#d8d8d8" opacity="0.45" filter="url(#sp3)"/>
<circle cx="134.90" cy="215.90" r="9.20" fill="url(#g53)"/>
<circle cx="134.90" cy="215.90" r="7.80" fill="url(#g54)"/>
<circle cx="134.90" cy="215.90" r="6.21" fill="url(#g47)" filter="url(#sp4)"/>
<text x="155.70" y="138.40" font-size="6.4" text-anchor="middle" fill="#111" >5 min</text>
<rect x="146.00" y="143.10" width="19.40" height="19.60" fill="#160a08" />
<circle cx="155.90" cy="152.90" r="7.80" fill="url(#g55)"/>
<circle cx="155.90" cy="152.90" r="6.93" fill="url(#g56)" filter="url(#sp1)"/>
<circle cx="155.90" cy="152.90" r="6.57" fill="url(#g50)" filter="url(#sp2)"/>
<rect x="146.00" y="164.10" width="19.40" height="19.60" fill="#05061e" />
<circle cx="155.90" cy="173.90" r="8.20" fill="url(#g51)"/>
<circle cx="155.90" cy="173.90" r="6.57" fill="url(#g42)" filter="url(#sp3)"/>
<rect x="146.00" y="185.10" width="19.40" height="19.60" fill="#030503" />
<circle cx="155.90" cy="194.90" r="7.80" fill="url(#g57)"/>
<circle cx="155.90" cy="194.90" r="6.57" fill="url(#g44)" filter="url(#sp1)"/>
<rect x="146.00" y="206.10" width="19.40" height="19.60" fill="#a4a4a8" />
<rect x="146.00" y="206.10" width="19.40" height="19.60" fill="#d8d8d8" opacity="0.45" filter="url(#sp3)"/>
<circle cx="155.90" cy="215.90" r="9.20" fill="url(#g53)"/>
<circle cx="155.90" cy="215.90" r="7.80" fill="url(#g54)"/>
<circle cx="155.90" cy="215.90" r="6.21" fill="url(#g47)" filter="url(#sp4)"/>
<text x="176.70" y="138.40" font-size="6.4" text-anchor="middle" fill="#111" >10 min</text>
<rect x="167.00" y="143.10" width="19.40" height="19.60" fill="#160a08" />
<circle cx="176.90" cy="152.90" r="7.80" fill="url(#g58)"/>
<circle cx="176.90" cy="152.90" r="6.93" fill="url(#g59)" filter="url(#sp1)"/>
<circle cx="176.90" cy="152.90" r="6.57" fill="url(#g60)" filter="url(#sp2)"/>
<rect x="167.00" y="164.10" width="19.40" height="19.60" fill="#05061e" />
<circle cx="176.90" cy="173.90" r="8.20" fill="url(#g51)"/>
<circle cx="176.90" cy="173.90" r="6.57" fill="url(#g42)" filter="url(#sp3)"/>
<rect x="167.00" y="185.10" width="19.40" height="19.60" fill="#030503" />
<circle cx="176.90" cy="194.90" r="7.80" fill="url(#g61)"/>
<circle cx="176.90" cy="194.90" r="6.57" fill="url(#g44)" filter="url(#sp1)"/>
<rect x="167.00" y="206.10" width="19.40" height="19.60" fill="#a4a4a8" />
<rect x="167.00" y="206.10" width="19.40" height="19.60" fill="#d8d8d8" opacity="0.45" filter="url(#sp3)"/>
<circle cx="176.90" cy="215.90" r="9.20" fill="url(#g53)"/>
<circle cx="176.90" cy="215.90" r="7.80" fill="url(#g54)"/>
<circle cx="176.90" cy="215.90" r="6.21" fill="url(#g47)" filter="url(#sp4)"/>
<text x="197.70" y="138.40" font-size="6.4" text-anchor="middle" fill="#111" >15 min</text>
<rect x="188.00" y="143.10" width="19.40" height="19.60" fill="#160a08" />
<circle cx="197.90" cy="152.90" r="7.80" fill="url(#g62)"/>
<circle cx="197.90" cy="152.90" r="6.93" fill="url(#g63)" filter="url(#sp1)"/>
<circle cx="197.90" cy="152.90" r="6.57" fill="url(#g64)" filter="url(#sp2)"/>
<rect x="188.00" y="164.10" width="19.40" height="19.60" fill="#05061e" />
<circle cx="197.90" cy="173.90" r="8.20" fill="url(#g51)"/>
<circle cx="197.90" cy="173.90" r="6.57" fill="url(#g42)" filter="url(#sp3)"/>
<rect x="188.00" y="185.10" width="19.40" height="19.60" fill="#030503" />
<circle cx="197.90" cy="194.90" r="7.80" fill="url(#g65)"/>
<circle cx="197.90" cy="194.90" r="6.57" fill="url(#g44)" filter="url(#sp1)"/>
<rect x="188.00" y="206.10" width="19.40" height="19.60" fill="#a4a4a8" />
<rect x="188.00" y="206.10" width="19.40" height="19.60" fill="#d8d8d8" opacity="0.45" filter="url(#sp3)"/>
<circle cx="197.90" cy="215.90" r="9.20" fill="url(#g53)"/>
<circle cx="197.90" cy="215.90" r="7.80" fill="url(#g54)"/>
<circle cx="197.90" cy="215.90" r="6.21" fill="url(#g47)" filter="url(#sp4)"/>
<text x="249.50" y="125.80" font-size="6.3" text-anchor="middle" fill="#111" >Oxamate</text>
<line x1="212.20" y1="129.40" x2="286.50" y2="129.40" stroke="#808080" stroke-width="1.0" />
<text x="219.70" y="138.40" font-size="6.4" text-anchor="middle" fill="#111" >0 min</text>
<rect x="210.00" y="143.10" width="19.40" height="19.60" fill="#160a08" />
<circle cx="219.90" cy="152.90" r="7.20" fill="url(#g66)"/>
<circle cx="219.90" cy="152.90" r="6.37" fill="url(#g67)" filter="url(#sp1)"/>
<circle cx="219.90" cy="152.90" r="6.03" fill="url(#g68)" filter="url(#sp2)"/>
<rect x="210.00" y="164.10" width="19.40" height="19.60" fill="#05061e" />
<circle cx="219.90" cy="173.90" r="7.60" fill="url(#g69)"/>
<circle cx="219.90" cy="173.90" r="6.03" fill="url(#g42)" filter="url(#sp3)"/>
<rect x="210.00" y="185.10" width="19.40" height="19.60" fill="#030503" />
<circle cx="219.90" cy="194.90" r="7.20" fill="url(#g70)"/>
<circle cx="219.90" cy="194.90" r="6.03" fill="url(#g44)" filter="url(#sp1)"/>
<rect x="210.00" y="206.10" width="19.40" height="19.60" fill="#9c9ca2" />
<rect x="210.00" y="206.10" width="19.40" height="19.60" fill="#d8d8d8" opacity="0.45" filter="url(#sp3)"/>
<circle cx="219.90" cy="215.90" r="8.60" fill="url(#g53)"/>
<circle cx="219.90" cy="215.90" r="7.20" fill="url(#g54)"/>
<circle cx="219.90" cy="215.90" r="5.70" fill="url(#g47)" filter="url(#sp4)"/>
<text x="240.70" y="138.40" font-size="6.4" text-anchor="middle" fill="#111" >5 min</text>
<rect x="231.00" y="143.10" width="19.40" height="19.60" fill="#160a08" />
<circle cx="240.90" cy="152.90" r="7.20" fill="url(#g71)"/>
<circle cx="240.90" cy="152.90" r="6.37" fill="url(#g72)" filter="url(#sp1)"/>
<circle cx="240.90" cy="152.90" r="6.03" fill="url(#g73)" filter="url(#sp2)"/>
<rect x="231.00" y="164.10" width="19.40" height="19.60" fill="#05061e" />
<circle cx="240.90" cy="173.90" r="7.60" fill="url(#g69)"/>
<circle cx="240.90" cy="173.90" r="6.03" fill="url(#g42)" filter="url(#sp3)"/>
<rect x="231.00" y="185.10" width="19.40" height="19.60" fill="#030503" />
<circle cx="240.90" cy="194.90" r="7.20" fill="url(#g74)"/>
<circle cx="240.90" cy="194.90" r="6.03" fill="url(#g44)" filter="url(#sp1)"/>
<rect x="231.00" y="206.10" width="19.40" height="19.60" fill="#9c9ca2" />
<rect x="231.00" y="206.10" width="19.40" height="19.60" fill="#d8d8d8" opacity="0.45" filter="url(#sp3)"/>
<circle cx="240.90" cy="215.90" r="8.60" fill="url(#g53)"/>
<circle cx="240.90" cy="215.90" r="7.20" fill="url(#g54)"/>
<circle cx="240.90" cy="215.90" r="5.70" fill="url(#g47)" filter="url(#sp4)"/>
<text x="261.70" y="138.40" font-size="6.4" text-anchor="middle" fill="#111" >10 min</text>
<rect x="252.00" y="143.10" width="19.40" height="19.60" fill="#160a08" />
<circle cx="261.90" cy="152.90" r="7.20" fill="url(#g75)"/>
<circle cx="261.90" cy="152.90" r="6.37" fill="url(#g76)" filter="url(#sp1)"/>
<circle cx="261.90" cy="152.90" r="6.03" fill="url(#g77)" filter="url(#sp2)"/>
<rect x="252.00" y="164.10" width="19.40" height="19.60" fill="#05061e" />
<circle cx="261.90" cy="173.90" r="7.60" fill="url(#g69)"/>
<circle cx="261.90" cy="173.90" r="6.03" fill="url(#g42)" filter="url(#sp3)"/>
<rect x="252.00" y="185.10" width="19.40" height="19.60" fill="#030503" />
<circle cx="261.90" cy="194.90" r="7.20" fill="url(#g78)"/>
<circle cx="261.90" cy="194.90" r="6.03" fill="url(#g44)" filter="url(#sp1)"/>
<rect x="252.00" y="206.10" width="19.40" height="19.60" fill="#9c9ca2" />
<rect x="252.00" y="206.10" width="19.40" height="19.60" fill="#d8d8d8" opacity="0.45" filter="url(#sp3)"/>
<circle cx="261.90" cy="215.90" r="8.60" fill="url(#g53)"/>
<circle cx="261.90" cy="215.90" r="7.20" fill="url(#g54)"/>
<circle cx="261.90" cy="215.90" r="5.70" fill="url(#g47)" filter="url(#sp4)"/>
<text x="282.70" y="138.40" font-size="6.4" text-anchor="middle" fill="#111" >15 min</text>
<rect x="273.00" y="143.10" width="19.40" height="19.60" fill="#160a08" />
<circle cx="282.90" cy="152.90" r="7.20" fill="url(#g79)"/>
<circle cx="282.90" cy="152.90" r="6.37" fill="url(#g80)" filter="url(#sp1)"/>
<circle cx="282.90" cy="152.90" r="6.03" fill="url(#g81)" filter="url(#sp2)"/>
<rect x="273.00" y="164.10" width="19.40" height="19.60" fill="#05061e" />
<circle cx="282.90" cy="173.90" r="7.60" fill="url(#g69)"/>
<circle cx="282.90" cy="173.90" r="6.03" fill="url(#g42)" filter="url(#sp3)"/>
<rect x="273.00" y="185.10" width="19.40" height="19.60" fill="#030503" />
<circle cx="282.90" cy="194.90" r="7.20" fill="url(#g82)"/>
<circle cx="282.90" cy="194.90" r="6.03" fill="url(#g44)" filter="url(#sp1)"/>
<rect x="273.00" y="206.10" width="19.40" height="19.60" fill="#9c9ca2" />
<rect x="273.00" y="206.10" width="19.40" height="19.60" fill="#d8d8d8" opacity="0.45" filter="url(#sp3)"/>
<circle cx="282.90" cy="215.90" r="8.60" fill="url(#g53)"/>
<circle cx="282.90" cy="215.90" r="7.20" fill="url(#g54)"/>
<circle cx="282.90" cy="215.90" r="5.70" fill="url(#g47)" filter="url(#sp4)"/>
<text x="334.50" y="125.80" font-size="6.3" text-anchor="middle" fill="#111" >AOA</text>
<line x1="297.20" y1="129.40" x2="371.50" y2="129.40" stroke="#808080" stroke-width="1.0" />
<text x="304.70" y="138.40" font-size="6.4" text-anchor="middle" fill="#111" >0 min</text>
<rect x="295.00" y="143.10" width="19.40" height="19.60" fill="#160a08" />
<circle cx="304.90" cy="152.90" r="7.70" fill="url(#g83)"/>
<circle cx="304.90" cy="152.90" r="6.84" fill="url(#g84)" filter="url(#sp1)"/>
<circle cx="304.90" cy="152.90" r="6.48" fill="url(#g85)" filter="url(#sp2)"/>
<rect x="295.00" y="164.10" width="19.40" height="19.60" fill="#05061e" />
<circle cx="304.90" cy="173.90" r="8.10" fill="url(#g69)"/>
<circle cx="304.90" cy="173.90" r="6.48" fill="url(#g42)" filter="url(#sp3)"/>
<rect x="295.00" y="185.10" width="19.40" height="19.60" fill="#030503" />
<circle cx="304.90" cy="194.90" r="7.70" fill="url(#g86)"/>
<circle cx="304.90" cy="194.90" r="6.48" fill="url(#g44)" filter="url(#sp1)"/>
<rect x="295.00" y="206.10" width="19.40" height="19.60" fill="#b4b4b4" />
<rect x="295.00" y="206.10" width="19.40" height="19.60" fill="#d8d8d8" opacity="0.45" filter="url(#sp3)"/>
<circle cx="304.90" cy="215.90" r="9.10" fill="url(#g53)"/>
<circle cx="304.90" cy="215.90" r="7.70" fill="url(#g54)"/>
<circle cx="304.90" cy="215.90" r="6.12" fill="url(#g47)" filter="url(#sp4)"/>
<text x="325.70" y="138.40" font-size="6.4" text-anchor="middle" fill="#111" >5 min</text>
<rect x="316.00" y="143.10" width="19.40" height="19.60" fill="#160a08" />
<circle cx="325.90" cy="152.90" r="7.70" fill="url(#g87)"/>
<circle cx="325.90" cy="152.90" r="6.84" fill="url(#g88)" filter="url(#sp1)"/>
<circle cx="325.90" cy="152.90" r="6.48" fill="url(#g89)" filter="url(#sp2)"/>
<rect x="316.00" y="164.10" width="19.40" height="19.60" fill="#05061e" />
<circle cx="325.90" cy="173.90" r="8.10" fill="url(#g69)"/>
<circle cx="325.90" cy="173.90" r="6.48" fill="url(#g42)" filter="url(#sp3)"/>
<rect x="316.00" y="185.10" width="19.40" height="19.60" fill="#030503" />
<circle cx="325.90" cy="194.90" r="7.70" fill="url(#g86)"/>
<circle cx="325.90" cy="194.90" r="6.48" fill="url(#g44)" filter="url(#sp1)"/>
<rect x="316.00" y="206.10" width="19.40" height="19.60" fill="#b4b4b4" />
<rect x="316.00" y="206.10" width="19.40" height="19.60" fill="#d8d8d8" opacity="0.45" filter="url(#sp3)"/>
<circle cx="325.90" cy="215.90" r="9.10" fill="url(#g53)"/>
<circle cx="325.90" cy="215.90" r="7.70" fill="url(#g54)"/>
<circle cx="325.90" cy="215.90" r="6.12" fill="url(#g47)" filter="url(#sp4)"/>
<text x="346.70" y="138.40" font-size="6.4" text-anchor="middle" fill="#111" >10 min</text>
<rect x="337.00" y="143.10" width="19.40" height="19.60" fill="#160a08" />
<circle cx="346.90" cy="152.90" r="7.70" fill="url(#g90)"/>
<circle cx="346.90" cy="152.90" r="6.84" fill="url(#g91)" filter="url(#sp1)"/>
<circle cx="346.90" cy="152.90" r="6.48" fill="url(#g92)" filter="url(#sp2)"/>
<rect x="337.00" y="164.10" width="19.40" height="19.60" fill="#05061e" />
<circle cx="346.90" cy="173.90" r="8.10" fill="url(#g69)"/>
<circle cx="346.90" cy="173.90" r="6.48" fill="url(#g42)" filter="url(#sp3)"/>
<rect x="337.00" y="185.10" width="19.40" height="19.60" fill="#030503" />
<circle cx="346.90" cy="194.90" r="7.70" fill="url(#g93)"/>
<circle cx="346.90" cy="194.90" r="6.48" fill="url(#g44)" filter="url(#sp1)"/>
<rect x="337.00" y="206.10" width="19.40" height="19.60" fill="#b4b4b4" />
<rect x="337.00" y="206.10" width="19.40" height="19.60" fill="#d8d8d8" opacity="0.45" filter="url(#sp3)"/>
<circle cx="346.90" cy="215.90" r="9.10" fill="url(#g53)"/>
<circle cx="346.90" cy="215.90" r="7.70" fill="url(#g54)"/>
<circle cx="346.90" cy="215.90" r="6.12" fill="url(#g47)" filter="url(#sp4)"/>
<text x="367.70" y="138.40" font-size="6.4" text-anchor="middle" fill="#111" >15 min</text>
<rect x="358.00" y="143.10" width="19.40" height="19.60" fill="#160a08" />
<circle cx="367.90" cy="152.90" r="7.70" fill="url(#g94)"/>
<circle cx="367.90" cy="152.90" r="6.84" fill="url(#g95)" filter="url(#sp1)"/>
<circle cx="367.90" cy="152.90" r="6.48" fill="url(#g96)" filter="url(#sp2)"/>
<rect x="358.00" y="164.10" width="19.40" height="19.60" fill="#05061e" />
<circle cx="367.90" cy="173.90" r="8.10" fill="url(#g69)"/>
<circle cx="367.90" cy="173.90" r="6.48" fill="url(#g42)" filter="url(#sp3)"/>
<rect x="358.00" y="185.10" width="19.40" height="19.60" fill="#030503" />
<circle cx="367.90" cy="194.90" r="7.70" fill="url(#g97)"/>
<circle cx="367.90" cy="194.90" r="6.48" fill="url(#g44)" filter="url(#sp1)"/>
<rect x="358.00" y="206.10" width="19.40" height="19.60" fill="#b4b4b4" />
<rect x="358.00" y="206.10" width="19.40" height="19.60" fill="#d8d8d8" opacity="0.45" filter="url(#sp3)"/>
<circle cx="367.90" cy="215.90" r="9.10" fill="url(#g53)"/>
<circle cx="367.90" cy="215.90" r="7.70" fill="url(#g54)"/>
<circle cx="367.90" cy="215.90" r="6.12" fill="url(#g47)" filter="url(#sp4)"/>
<text x="419.50" y="125.80" font-size="6.3" text-anchor="middle" fill="#111" >Rotenone</text>
<line x1="382.20" y1="129.40" x2="456.50" y2="129.40" stroke="#808080" stroke-width="1.0" />
<text x="389.70" y="138.40" font-size="6.4" text-anchor="middle" fill="#111" >0 min</text>
<rect x="380.00" y="143.10" width="19.40" height="19.60" fill="#160a08" />
<circle cx="389.90" cy="152.90" r="7.80" fill="url(#g98)"/>
<circle cx="389.90" cy="152.90" r="6.93" fill="url(#g99)" filter="url(#sp1)"/>
<circle cx="389.90" cy="152.90" r="6.57" fill="url(#g100)" filter="url(#sp2)"/>
<rect x="380.00" y="164.10" width="19.40" height="19.60" fill="#05061e" />
<circle cx="389.90" cy="173.90" r="8.20" fill="url(#g69)"/>
<circle cx="389.90" cy="173.90" r="6.57" fill="url(#g42)" filter="url(#sp3)"/>
<rect x="380.00" y="185.10" width="19.40" height="19.60" fill="#030503" />
<circle cx="389.90" cy="194.90" r="7.80" fill="url(#g43)"/>
<circle cx="389.90" cy="194.90" r="6.57" fill="url(#g44)" filter="url(#sp1)"/>
<rect x="380.00" y="206.10" width="19.40" height="19.60" fill="#a0a0a0" />
<rect x="380.00" y="206.10" width="19.40" height="19.60" fill="#d8d8d8" opacity="0.45" filter="url(#sp3)"/>
<circle cx="389.90" cy="215.90" r="9.20" fill="url(#g53)"/>
<circle cx="389.90" cy="215.90" r="7.80" fill="url(#g54)"/>
<circle cx="389.90" cy="215.90" r="6.21" fill="url(#g47)" filter="url(#sp4)"/>
<text x="410.70" y="138.40" font-size="6.4" text-anchor="middle" fill="#111" >5 min</text>
<rect x="401.00" y="143.10" width="19.40" height="19.60" fill="#160a08" />
<circle cx="410.90" cy="152.90" r="7.80" fill="url(#g98)"/>
<circle cx="410.90" cy="152.90" r="6.93" fill="url(#g99)" filter="url(#sp1)"/>
<circle cx="410.90" cy="152.90" r="6.57" fill="url(#g100)" filter="url(#sp2)"/>
<rect x="401.00" y="164.10" width="19.40" height="19.60" fill="#05061e" />
<circle cx="410.90" cy="173.90" r="8.20" fill="url(#g69)"/>
<circle cx="410.90" cy="173.90" r="6.57" fill="url(#g42)" filter="url(#sp3)"/>
<rect x="401.00" y="185.10" width="19.40" height="19.60" fill="#030503" />
<circle cx="410.90" cy="194.90" r="7.80" fill="url(#g43)"/>
<circle cx="410.90" cy="194.90" r="6.57" fill="url(#g44)" filter="url(#sp1)"/>
<rect x="401.00" y="206.10" width="19.40" height="19.60" fill="#a0a0a0" />
<rect x="401.00" y="206.10" width="19.40" height="19.60" fill="#d8d8d8" opacity="0.45" filter="url(#sp3)"/>
<circle cx="410.90" cy="215.90" r="9.20" fill="url(#g53)"/>
<circle cx="410.90" cy="215.90" r="7.80" fill="url(#g54)"/>
<circle cx="410.90" cy="215.90" r="6.21" fill="url(#g47)" filter="url(#sp4)"/>
<text x="431.70" y="138.40" font-size="6.4" text-anchor="middle" fill="#111" >10 min</text>
<rect x="422.00" y="143.10" width="19.40" height="19.60" fill="#160a08" />
<circle cx="431.90" cy="152.90" r="7.80" fill="url(#g101)"/>
<circle cx="431.90" cy="152.90" r="6.93" fill="url(#g102)" filter="url(#sp1)"/>
<circle cx="431.90" cy="152.90" r="6.57" fill="url(#g103)" filter="url(#sp2)"/>
<rect x="422.00" y="164.10" width="19.40" height="19.60" fill="#05061e" />
<circle cx="431.90" cy="173.90" r="8.20" fill="url(#g69)"/>
<circle cx="431.90" cy="173.90" r="6.57" fill="url(#g42)" filter="url(#sp3)"/>
<rect x="422.00" y="185.10" width="19.40" height="19.60" fill="#030503" />
<circle cx="431.90" cy="194.90" r="7.80" fill="url(#g104)"/>
<circle cx="431.90" cy="194.90" r="6.57" fill="url(#g44)" filter="url(#sp1)"/>
<rect x="422.00" y="206.10" width="19.40" height="19.60" fill="#a0a0a0" />
<rect x="422.00" y="206.10" width="19.40" height="19.60" fill="#d8d8d8" opacity="0.45" filter="url(#sp3)"/>
<circle cx="431.90" cy="215.90" r="9.20" fill="url(#g53)"/>
<circle cx="431.90" cy="215.90" r="7.80" fill="url(#g54)"/>
<circle cx="431.90" cy="215.90" r="6.21" fill="url(#g47)" filter="url(#sp4)"/>
<text x="452.70" y="138.40" font-size="6.4" text-anchor="middle" fill="#111" >15 min</text>
<rect x="443.00" y="143.10" width="19.40" height="19.60" fill="#160a08" />
<circle cx="452.90" cy="152.90" r="7.80" fill="url(#g105)"/>
<circle cx="452.90" cy="152.90" r="6.93" fill="url(#g106)" filter="url(#sp1)"/>
<circle cx="452.90" cy="152.90" r="6.57" fill="url(#g17)" filter="url(#sp2)"/>
<rect x="443.00" y="164.10" width="19.40" height="19.60" fill="#05061e" />
<circle cx="452.90" cy="173.90" r="8.20" fill="url(#g69)"/>
<circle cx="452.90" cy="173.90" r="6.57" fill="url(#g42)" filter="url(#sp3)"/>
<rect x="443.00" y="185.10" width="19.40" height="19.60" fill="#030503" />
<circle cx="452.90" cy="194.90" r="7.80" fill="url(#g107)"/>
<circle cx="452.90" cy="194.90" r="6.57" fill="url(#g44)" filter="url(#sp1)"/>
<rect x="443.00" y="206.10" width="19.40" height="19.60" fill="#a0a0a0" />
<rect x="443.00" y="206.10" width="19.40" height="19.60" fill="#d8d8d8" opacity="0.45" filter="url(#sp3)"/>
<circle cx="452.90" cy="215.90" r="9.20" fill="url(#g53)"/>
<circle cx="452.90" cy="215.90" r="7.80" fill="url(#g54)"/>
<circle cx="452.90" cy="215.90" r="6.21" fill="url(#g47)" filter="url(#sp4)"/>
<line x1="444.80" y1="223.20" x2="458.40" y2="223.20" stroke="#fff" stroke-width="1.2" />
<line x1="105.00" y1="223.20" x2="117.50" y2="223.20" stroke="#fff" stroke-width="1.2" />
<line x1="360.40" y1="223.20" x2="374.60" y2="223.20" stroke="#f4f4f4" stroke-width="1.1" />
<rect x="475.00" y="144.20" width="2.00" height="50.20" fill="url(#cb108)" />
<text x="480.00" y="146.83" font-size="6.2" fill="#111" >2.0</text>
<text x="480.00" y="156.83" font-size="6.2" fill="#111" >1.6</text>
<text x="480.00" y="166.83" font-size="6.2" fill="#111" >1.2</text>
<text x="480.00" y="176.93" font-size="6.2" fill="#111" >0.8</text>
<text x="480.00" y="187.03" font-size="6.2" fill="#111" >0.4</text>
<text x="480.00" y="197.13" font-size="6.2" fill="#111" >0.0</text>
<text x="0" y="0" font-size="6.2" text-anchor="middle" fill="#111" textLength="57.5" lengthAdjust="spacingAndGlyphs" transform="translate(469.63,170.40) rotate(-90)">Ratio F405/F488 nm</text>
<text x="36.90" y="286.00" font-size="6.5" text-anchor="end" fill="#111" >Ratio</text>
<text x="36.90" y="306.50" font-size="6.5" text-anchor="end" fill="#111" >405 nm</text>
<text x="36.90" y="326.80" font-size="6.5" text-anchor="end" fill="#111" >488 nm</text>
<text x="49.10" y="268.90" font-size="6.6" text-anchor="middle" fill="#111" >0 min</text>
<rect x="39.60" y="273.90" width="19.00" height="19.10" fill="#100808" />
<circle cx="49.10" cy="283.45" r="8.50" fill="url(#g109)"/>
<circle cx="49.10" cy="283.45" r="8.00" fill="url(#g110)" filter="url(#sp1)"/>
<circle cx="49.10" cy="283.45" r="7.80" fill="url(#g111)" filter="url(#sp2)"/>
<rect x="39.60" y="295.00" width="19.00" height="19.10" fill="#04051a" />
<circle cx="49.10" cy="304.55" r="8.70" fill="url(#g112)"/>
<circle cx="49.10" cy="304.55" r="8.20" fill="url(#g113)" filter="url(#sp3)"/>
<rect x="39.60" y="316.10" width="19.00" height="19.10" fill="#030503" />
<circle cx="49.10" cy="325.65" r="8.60" fill="url(#g114)"/>
<circle cx="49.10" cy="325.65" r="8.00" fill="url(#g115)" filter="url(#sp1)"/>
<text x="70.17" y="268.90" font-size="6.6" text-anchor="middle" fill="#111" >5 min</text>
<rect x="60.67" y="273.90" width="19.00" height="19.10" fill="#100808" />
<circle cx="70.17" cy="283.45" r="8.50" fill="url(#g109)"/>
<circle cx="70.17" cy="283.45" r="8.00" fill="url(#g110)" filter="url(#sp1)"/>
<circle cx="70.17" cy="283.45" r="7.80" fill="url(#g111)" filter="url(#sp2)"/>
<rect x="60.67" y="295.00" width="19.00" height="19.10" fill="#04051a" />
<circle cx="70.17" cy="304.55" r="8.70" fill="url(#g112)"/>
<circle cx="70.17" cy="304.55" r="8.20" fill="url(#g113)" filter="url(#sp3)"/>
<rect x="60.67" y="316.10" width="19.00" height="19.10" fill="#030503" />
<circle cx="70.17" cy="325.65" r="8.60" fill="url(#g114)"/>
<circle cx="70.17" cy="325.65" r="8.00" fill="url(#g115)" filter="url(#sp1)"/>
<text x="91.24" y="268.90" font-size="6.6" text-anchor="middle" fill="#111" >10 min</text>
<rect x="81.74" y="273.90" width="19.00" height="19.10" fill="#100808" />
<circle cx="91.24" cy="283.45" r="8.50" fill="url(#g109)"/>
<circle cx="91.24" cy="283.45" r="8.00" fill="url(#g110)" filter="url(#sp1)"/>
<circle cx="91.24" cy="283.45" r="7.80" fill="url(#g111)" filter="url(#sp2)"/>
<rect x="81.74" y="295.00" width="19.00" height="19.10" fill="#04051a" />
<circle cx="91.24" cy="304.55" r="8.70" fill="url(#g112)"/>
<circle cx="91.24" cy="304.55" r="8.20" fill="url(#g113)" filter="url(#sp3)"/>
<rect x="81.74" y="316.10" width="19.00" height="19.10" fill="#030503" />
<circle cx="91.24" cy="325.65" r="8.60" fill="url(#g114)"/>
<circle cx="91.24" cy="325.65" r="8.00" fill="url(#g115)" filter="url(#sp1)"/>
<text x="112.31" y="268.90" font-size="6.6" text-anchor="middle" fill="#111" >15 min</text>
<rect x="102.81" y="273.90" width="19.00" height="19.10" fill="#100808" />
<circle cx="112.31" cy="283.45" r="8.50" fill="url(#g109)"/>
<circle cx="112.31" cy="283.45" r="8.00" fill="url(#g110)" filter="url(#sp1)"/>
<circle cx="112.31" cy="283.45" r="7.80" fill="url(#g111)" filter="url(#sp2)"/>
<rect x="102.81" y="295.00" width="19.00" height="19.10" fill="#04051a" />
<circle cx="112.31" cy="304.55" r="8.70" fill="url(#g112)"/>
<circle cx="112.31" cy="304.55" r="8.20" fill="url(#g113)" filter="url(#sp3)"/>
<rect x="102.81" y="316.10" width="19.00" height="19.10" fill="#030503" />
<circle cx="112.31" cy="325.65" r="8.60" fill="url(#g114)"/>
<circle cx="112.31" cy="325.65" r="8.00" fill="url(#g115)" filter="url(#sp1)"/>
<text x="133.38" y="268.90" font-size="6.6" text-anchor="middle" fill="#111" >16 min</text>
<rect x="123.88" y="273.90" width="19.00" height="19.10" fill="#100808" />
<circle cx="133.38" cy="283.45" r="8.50" fill="url(#g109)"/>
<circle cx="133.38" cy="283.45" r="8.00" fill="url(#g110)" filter="url(#sp1)"/>
<circle cx="133.38" cy="283.45" r="7.80" fill="url(#g111)" filter="url(#sp2)"/>
<rect x="123.88" y="295.00" width="19.00" height="19.10" fill="#04051a" />
<circle cx="133.38" cy="304.55" r="8.70" fill="url(#g112)"/>
<circle cx="133.38" cy="304.55" r="8.20" fill="url(#g113)" filter="url(#sp3)"/>
<rect x="123.88" y="316.10" width="19.00" height="19.10" fill="#030503" />
<circle cx="133.38" cy="325.65" r="8.60" fill="url(#g114)"/>
<circle cx="133.38" cy="325.65" r="8.00" fill="url(#g115)" filter="url(#sp1)"/>
<text x="154.45" y="268.90" font-size="6.6" text-anchor="middle" fill="#111" >20 min</text>
<rect x="144.95" y="273.90" width="19.00" height="19.10" fill="#100808" />
<circle cx="154.45" cy="283.45" r="8.50" fill="url(#g116)"/>
<circle cx="154.45" cy="283.45" r="8.00" fill="url(#g117)" filter="url(#sp1)"/>
<circle cx="154.45" cy="283.45" r="7.80" fill="url(#g118)" filter="url(#sp2)"/>
<rect x="144.95" y="295.00" width="19.00" height="19.10" fill="#04051a" />
<circle cx="154.45" cy="304.55" r="8.70" fill="url(#g119)"/>
<circle cx="154.45" cy="304.55" r="8.20" fill="url(#g113)" filter="url(#sp3)"/>
<rect x="144.95" y="316.10" width="19.00" height="19.10" fill="#030503" />
<circle cx="154.45" cy="325.65" r="8.60" fill="url(#g120)"/>
<circle cx="154.45" cy="325.65" r="8.00" fill="url(#g121)" filter="url(#sp1)"/>
<text x="175.52" y="268.90" font-size="6.6" text-anchor="middle" fill="#111" >25 min</text>
<rect x="166.02" y="273.90" width="19.00" height="19.10" fill="#100808" />
<circle cx="175.52" cy="283.45" r="8.50" fill="url(#g122)"/>
<circle cx="175.52" cy="283.45" r="8.00" fill="url(#g123)" filter="url(#sp1)"/>
<circle cx="175.52" cy="283.45" r="7.80" fill="url(#g124)" filter="url(#sp2)"/>
<rect x="166.02" y="295.00" width="19.00" height="19.10" fill="#04051a" />
<circle cx="175.52" cy="304.55" r="8.70" fill="url(#g125)"/>
<circle cx="175.52" cy="304.55" r="8.20" fill="url(#g113)" filter="url(#sp3)"/>
<rect x="166.02" y="316.10" width="19.00" height="19.10" fill="#030503" />
<circle cx="175.52" cy="325.65" r="8.60" fill="url(#g120)"/>
<circle cx="175.52" cy="325.65" r="8.00" fill="url(#g121)" filter="url(#sp1)"/>
<text x="196.59" y="268.90" font-size="6.6" text-anchor="middle" fill="#111" >30 min</text>
<rect x="187.09" y="273.90" width="19.00" height="19.10" fill="#100808" />
<circle cx="196.59" cy="283.45" r="8.50" fill="url(#g126)"/>
<circle cx="196.59" cy="283.45" r="8.00" fill="url(#g117)" filter="url(#sp1)"/>
<circle cx="196.59" cy="283.45" r="7.80" fill="url(#g124)" filter="url(#sp2)"/>
<rect x="187.09" y="295.00" width="19.00" height="19.10" fill="#04051a" />
<circle cx="196.59" cy="304.55" r="8.70" fill="url(#g127)"/>
<circle cx="196.59" cy="304.55" r="8.20" fill="url(#g113)" filter="url(#sp3)"/>
<rect x="187.09" y="316.10" width="19.00" height="19.10" fill="#030503" />
<circle cx="196.59" cy="325.65" r="8.60" fill="url(#g128)"/>
<circle cx="196.59" cy="325.65" r="8.00" fill="url(#g129)" filter="url(#sp1)"/>
<text x="217.66" y="268.90" font-size="6.6" text-anchor="middle" fill="#111" >31 min</text>
<rect x="208.16" y="273.90" width="19.00" height="19.10" fill="#100808" />
<circle cx="217.66" cy="283.45" r="8.50" fill="url(#g130)"/>
<circle cx="217.66" cy="283.45" r="8.00" fill="url(#g131)" filter="url(#sp1)"/>
<circle cx="217.66" cy="283.45" r="7.80" fill="url(#g132)" filter="url(#sp2)"/>
<rect x="208.16" y="295.00" width="19.00" height="19.10" fill="#04051a" />
<circle cx="217.66" cy="304.55" r="8.70" fill="url(#g133)"/>
<circle cx="217.66" cy="304.55" r="8.20" fill="url(#g113)" filter="url(#sp3)"/>
<rect x="208.16" y="316.10" width="19.00" height="19.10" fill="#030503" />
<circle cx="217.66" cy="325.65" r="8.60" fill="url(#g134)"/>
<circle cx="217.66" cy="325.65" r="8.00" fill="url(#g135)" filter="url(#sp1)"/>
<text x="238.73" y="268.90" font-size="6.6" text-anchor="middle" fill="#111" >35 min</text>
<rect x="229.23" y="273.90" width="19.00" height="19.10" fill="#100808" />
<circle cx="238.73" cy="283.45" r="8.50" fill="url(#g136)"/>
<circle cx="238.73" cy="283.45" r="8.00" fill="url(#g137)" filter="url(#sp1)"/>
<circle cx="238.73" cy="283.45" r="7.80" fill="url(#g100)" filter="url(#sp2)"/>
<rect x="229.23" y="295.00" width="19.00" height="19.10" fill="#04051a" />
<circle cx="238.73" cy="304.55" r="8.70" fill="url(#g133)"/>
<circle cx="238.73" cy="304.55" r="8.20" fill="url(#g113)" filter="url(#sp3)"/>
<rect x="229.23" y="316.10" width="19.00" height="19.10" fill="#030503" />
<circle cx="238.73" cy="325.65" r="8.60" fill="url(#g138)"/>
<circle cx="238.73" cy="325.65" r="8.00" fill="url(#g139)" filter="url(#sp1)"/>
<text x="259.80" y="268.90" font-size="6.6" text-anchor="middle" fill="#111" >40 min</text>
<rect x="250.30" y="273.90" width="19.00" height="19.10" fill="#100808" />
<circle cx="259.80" cy="283.45" r="8.50" fill="url(#g140)"/>
<circle cx="259.80" cy="283.45" r="8.00" fill="url(#g141)" filter="url(#sp1)"/>
<circle cx="259.80" cy="283.45" r="7.80" fill="url(#g142)" filter="url(#sp2)"/>
<rect x="250.30" y="295.00" width="19.00" height="19.10" fill="#04051a" />
<circle cx="259.80" cy="304.55" r="8.70" fill="url(#g143)"/>
<circle cx="259.80" cy="304.55" r="8.20" fill="url(#g113)" filter="url(#sp3)"/>
<rect x="250.30" y="316.10" width="19.00" height="19.10" fill="#030503" />
<circle cx="259.80" cy="325.65" r="8.60" fill="url(#g144)"/>
<circle cx="259.80" cy="325.65" r="8.00" fill="url(#g145)" filter="url(#sp1)"/>
<text x="280.87" y="268.90" font-size="6.6" text-anchor="middle" fill="#111" >45 min</text>
<rect x="271.37" y="273.90" width="19.00" height="19.10" fill="#100808" />
<circle cx="280.87" cy="283.45" r="8.50" fill="url(#g146)"/>
<circle cx="280.87" cy="283.45" r="8.00" fill="url(#g147)" filter="url(#sp1)"/>
<circle cx="280.87" cy="283.45" r="7.80" fill="url(#g148)" filter="url(#sp2)"/>
<rect x="271.37" y="295.00" width="19.00" height="19.10" fill="#04051a" />
<circle cx="280.87" cy="304.55" r="8.70" fill="url(#g149)"/>
<circle cx="280.87" cy="304.55" r="8.20" fill="url(#g113)" filter="url(#sp3)"/>
<rect x="271.37" y="316.10" width="19.00" height="19.10" fill="#030503" />
<circle cx="280.87" cy="325.65" r="8.60" fill="url(#g150)"/>
<circle cx="280.87" cy="325.65" r="8.00" fill="url(#g145)" filter="url(#sp1)"/>
<line x1="274.40" y1="332.00" x2="287.00" y2="332.00" stroke="#fff" stroke-width="1.2" />
<text x="62.60" y="261.40" font-size="6.4" fill="#111" >PBS</text>
<text x="127.70" y="261.40" font-size="6.4" fill="#111" >Pyruvate</text>
<text x="210.60" y="261.40" font-size="6.4" fill="#111" >Oxamate</text>
<line x1="59.80" y1="258.40" x2="59.80" y2="270.00" stroke="#d83a30" stroke-width="0.9" />
<polygon points="58.20,269.0 61.40,269.0 59.80,273.0" fill="#d83a30"/>
<line x1="124.40" y1="258.40" x2="124.40" y2="270.00" stroke="#d83a30" stroke-width="0.9" />
<polygon points="122.80,269.0 126.00,269.0 124.40,273.0" fill="#d83a30"/>
<line x1="207.40" y1="258.40" x2="207.40" y2="270.00" stroke="#d83a30" stroke-width="0.9" />
<polygon points="205.80,269.0 209.00,269.0 207.40,273.0" fill="#d83a30"/>
<rect x="306.20" y="274.90" width="1.80" height="52.30" fill="url(#cb151)" />
<text x="309.40" y="277.46" font-size="6.0" fill="#111" >2.0</text>
<text x="309.40" y="287.66" font-size="6.0" fill="#111" >1.6</text>
<text x="309.40" y="297.76" font-size="6.0" fill="#111" >1.2</text>
<text x="309.40" y="307.96" font-size="6.0" fill="#111" >0.8</text>
<text x="309.40" y="318.16" font-size="6.0" fill="#111" >0.4</text>
<text x="309.40" y="328.26" font-size="6.0" fill="#111" >0.0</text>
<text x="0" y="0" font-size="6.0" text-anchor="middle" fill="#111" textLength="53.0" lengthAdjust="spacingAndGlyphs" transform="translate(301.76,302.70) rotate(-90)">Ratio F405/F488 nm</text>
<line x1="380.20" y1="267.40" x2="380.20" y2="319.30" stroke="#000" stroke-width="1.0" />
<line x1="379.80" y1="318.90" x2="498.00" y2="318.90" stroke="#000" stroke-width="1.0" />
<line x1="377.80" y1="318.40" x2="380.20" y2="318.40" stroke="#000" stroke-width="0.9" />
<text x="374.6" y="320.60" font-size="6.2" text-anchor="end" fill="#111">0.0</text>
<line x1="377.80" y1="310.38" x2="380.20" y2="310.38" stroke="#000" stroke-width="0.9" />
<text x="374.6" y="312.57" font-size="6.2" text-anchor="end" fill="#111">0.5</text>
<line x1="377.80" y1="302.35" x2="380.20" y2="302.35" stroke="#000" stroke-width="0.9" />
<text x="374.6" y="304.55" font-size="6.2" text-anchor="end" fill="#111">1.0</text>
<line x1="377.80" y1="294.32" x2="380.20" y2="294.32" stroke="#000" stroke-width="0.9" />
<text x="374.6" y="296.52" font-size="6.2" text-anchor="end" fill="#111">1.5</text>
<line x1="377.80" y1="286.30" x2="380.20" y2="286.30" stroke="#000" stroke-width="0.9" />
<text x="374.6" y="288.50" font-size="6.2" text-anchor="end" fill="#111">2.0</text>
<line x1="377.80" y1="278.27" x2="380.20" y2="278.27" stroke="#000" stroke-width="0.9" />
<text x="374.6" y="280.47" font-size="6.2" text-anchor="end" fill="#111">2.5</text>
<line x1="377.80" y1="270.25" x2="380.20" y2="270.25" stroke="#000" stroke-width="0.9" />
<text x="374.6" y="272.45" font-size="6.2" text-anchor="end" fill="#111">3.0</text>
<line x1="380.20" y1="318.90" x2="380.20" y2="321.20" stroke="#000" stroke-width="0.9" />
<text x="380.20" y="329.5" font-size="6.8" text-anchor="middle" fill="#111">0</text>
<line x1="418.63" y1="318.90" x2="418.63" y2="321.20" stroke="#000" stroke-width="0.9" />
<text x="418.63" y="329.5" font-size="6.8" text-anchor="middle" fill="#111">15</text>
<line x1="457.06" y1="318.90" x2="457.06" y2="321.20" stroke="#000" stroke-width="0.9" />
<text x="457.06" y="329.5" font-size="6.8" text-anchor="middle" fill="#111">30</text>
<line x1="495.49" y1="318.90" x2="495.49" y2="321.20" stroke="#000" stroke-width="0.9" />
<text x="495.49" y="329.5" font-size="6.8" text-anchor="middle" fill="#111">45</text>
<text x="439.5" y="341.2" font-size="8.2" text-anchor="middle" fill="#111" textLength="35" lengthAdjust="spacingAndGlyphs" style="stroke-width:0.05">Time (mins)</text>
<text x="0" y="0" font-size="7.4" text-anchor="middle" fill="#111" textLength="34.2" lengthAdjust="spacingAndGlyphs" style="stroke-width:0.05" transform="translate(349.5,292.6) rotate(-90)">Normalized</text>
<text x="0" y="0" font-size="6.6" text-anchor="middle" fill="#111" textLength="43.9" lengthAdjust="spacingAndGlyphs" style="stroke-width:0.05" transform="translate(358.6,293.25) rotate(-90)">F405/F488 nm</text>
<polyline points="380.20,302.35 381.74,302.29 383.27,302.23 384.81,302.18 386.35,302.12 387.89,302.06 389.42,302.00 390.96,301.95 392.50,301.89 394.03,301.79 395.57,301.68 397.11,301.57 398.65,301.46 400.18,301.34 401.72,301.23 403.26,301.12 404.80,301.01 406.33,300.89 407.87,300.78 409.41,300.75 410.94,300.75 412.48,300.75 414.02,300.75 415.56,300.75 417.09,300.75 418.63,301.23 420.17,302.19 421.70,303.15 423.24,304.26 424.78,305.50 426.32,306.74 427.85,307.99 429.39,308.58 430.93,308.52 432.46,308.45 434.00,308.39 435.54,308.33 437.08,308.24 438.61,308.11 440.15,307.97 441.69,307.83 443.23,307.69 444.76,307.55 446.30,307.42 447.84,307.28 449.37,307.14 450.91,307.00 452.45,306.40 453.99,305.79 455.52,305.19 457.06,304.58 458.60,303.92 460.13,303.22 461.67,302.52 463.21,301.82 464.75,301.11 466.28,300.41 467.82,299.43 469.36,297.87 470.89,296.32 472.43,294.28 473.97,291.25 475.51,288.23 477.04,287.26 478.58,286.94 480.12,286.94 481.66,286.94 483.19,286.94 484.73,286.94 486.27,286.94 487.80,286.94 489.34,286.94 490.88,286.94 492.42,286.94 493.95,286.94 495.49,286.94" fill="none" stroke="#6a80c0" stroke-width="0.3"/>
<path d="M379.65 301.80h1.1v1.1h-1.1zM381.19 301.74h1.1v1.1h-1.1zM382.72 301.68h1.1v1.1h-1.1zM384.26 301.63h1.1v1.1h-1.1zM385.80 301.57h1.1v1.1h-1.1zM387.34 301.51h1.1v1.1h-1.1zM388.87 301.45h1.1v1.1h-1.1zM390.41 301.40h1.1v1.1h-1.1zM391.95 301.34h1.1v1.1h-1.1zM393.48 301.24h1.1v1.1h-1.1zM395.02 301.13h1.1v1.1h-1.1zM396.56 301.02h1.1v1.1h-1.1zM398.10 300.91h1.1v1.1h-1.1zM399.63 300.79h1.1v1.1h-1.1zM401.17 300.68h1.1v1.1h-1.1zM402.71 300.57h1.1v1.1h-1.1zM404.25 300.46h1.1v1.1h-1.1zM405.78 300.34h1.1v1.1h-1.1zM407.32 300.23h1.1v1.1h-1.1zM408.86 300.19h1.1v1.1h-1.1zM410.39 300.19h1.1v1.1h-1.1zM411.93 300.19h1.1v1.1h-1.1zM413.47 300.19h1.1v1.1h-1.1zM415.01 300.19h1.1v1.1h-1.1zM416.54 300.19h1.1v1.1h-1.1zM418.08 300.68h1.1v1.1h-1.1zM419.62 301.64h1.1v1.1h-1.1zM421.15 302.60h1.1v1.1h-1.1zM422.69 303.71h1.1v1.1h-1.1zM424.23 304.95h1.1v1.1h-1.1zM425.77 306.19h1.1v1.1h-1.1zM427.30 307.44h1.1v1.1h-1.1zM428.84 308.03h1.1v1.1h-1.1zM430.38 307.97h1.1v1.1h-1.1zM431.91 307.90h1.1v1.1h-1.1zM433.45 307.84h1.1v1.1h-1.1zM434.99 307.78h1.1v1.1h-1.1zM436.53 307.69h1.1v1.1h-1.1zM438.06 307.56h1.1v1.1h-1.1zM439.60 307.42h1.1v1.1h-1.1zM441.14 307.28h1.1v1.1h-1.1zM442.68 307.14h1.1v1.1h-1.1zM444.21 307.00h1.1v1.1h-1.1zM445.75 306.87h1.1v1.1h-1.1zM447.29 306.73h1.1v1.1h-1.1zM448.82 306.59h1.1v1.1h-1.1zM450.36 306.45h1.1v1.1h-1.1zM451.90 305.85h1.1v1.1h-1.1zM453.44 305.24h1.1v1.1h-1.1zM454.97 304.64h1.1v1.1h-1.1zM456.51 304.03h1.1v1.1h-1.1zM458.05 303.37h1.1v1.1h-1.1zM459.58 302.67h1.1v1.1h-1.1zM461.12 301.97h1.1v1.1h-1.1zM462.66 301.27h1.1v1.1h-1.1zM464.20 300.56h1.1v1.1h-1.1zM465.73 299.86h1.1v1.1h-1.1zM467.27 298.88h1.1v1.1h-1.1zM468.81 297.32h1.1v1.1h-1.1zM470.34 295.77h1.1v1.1h-1.1zM471.88 293.73h1.1v1.1h-1.1zM473.42 290.70h1.1v1.1h-1.1zM474.96 287.68h1.1v1.1h-1.1zM476.49 286.71h1.1v1.1h-1.1zM476.84 285.56h0.4v3.4h-0.4zM478.03 286.39h1.1v1.1h-1.1zM478.38 285.24h0.4v3.4h-0.4zM479.57 286.39h1.1v1.1h-1.1zM479.92 285.24h0.4v3.4h-0.4zM481.11 286.39h1.1v1.1h-1.1zM481.46 285.24h0.4v3.4h-0.4zM482.64 286.39h1.1v1.1h-1.1zM482.99 285.24h0.4v3.4h-0.4zM484.18 286.39h1.1v1.1h-1.1zM484.53 285.24h0.4v3.4h-0.4zM485.72 286.39h1.1v1.1h-1.1zM486.07 285.24h0.4v3.4h-0.4zM487.25 286.39h1.1v1.1h-1.1zM487.60 285.24h0.4v3.4h-0.4zM488.79 286.39h1.1v1.1h-1.1zM489.14 285.24h0.4v3.4h-0.4zM490.33 286.39h1.1v1.1h-1.1zM490.68 285.24h0.4v3.4h-0.4zM491.87 286.39h1.1v1.1h-1.1zM492.22 285.24h0.4v3.4h-0.4zM493.40 286.39h1.1v1.1h-1.1zM493.75 285.24h0.4v3.4h-0.4zM494.94 286.39h1.1v1.1h-1.1zM495.29 285.24h0.4v3.4h-0.4z" fill="#1f3c8c"/>
<text x="381.00" y="292.40" font-size="5.6" fill="#111" >PBS</text>
<text x="418.50" y="289.60" font-size="5.6" text-anchor="middle" fill="#111" >Pyruvate</text>
<text x="457.00" y="292.40" font-size="5.6" text-anchor="middle" fill="#111" >Oxamate</text>
<line x1="380.80" y1="294.00" x2="380.80" y2="298.20" stroke="#c8283a" stroke-width="0.8" />
<polygon points="379.40,297.40 382.20,297.40 380.80,300.20" fill="#c8283a"/>
<line x1="418.60" y1="291.80" x2="418.60" y2="297.00" stroke="#c8283a" stroke-width="0.8" />
<polygon points="417.20,296.20 420.00,296.20 418.60,299.00" fill="#c8283a"/>
<line x1="457.10" y1="294.80" x2="457.10" y2="300.40" stroke="#c8283a" stroke-width="0.8" />
<polygon points="455.70,299.60 458.50,299.60 457.10,302.40" fill="#c8283a"/>
<text x="63.70" y="381.80" font-size="6.5" text-anchor="middle" fill="#111" >PBS</text>
<rect x="35.40" y="386.20" width="56.60" height="56.60" fill="#fff"/>
<g clip-path="url(#gc152)">
<ellipse cx="0" cy="0" rx="31.20" ry="9.12" fill="url(#g153)" transform="translate(64.20,415.00) rotate(-45)"/>
<ellipse cx="0" cy="0" rx="19.50" ry="4.75" fill="url(#g154)" transform="translate(64.20,415.00) rotate(-45)"/>
<ellipse cx="0" cy="0" rx="11.05" ry="2.85" fill="url(#g155)" transform="translate(64.20,415.00) rotate(-45)"/>
<path d="M45.6 428.6h.8v.8h-.8zM53.0 436.5h.8v.8h-.8zM52.7 416.3h.8v.8h-.8zM72.7 415.3h.8v.8h-.8zM45.7 435.4h.8v.8h-.8zM47.6 426.7h.8v.8h-.8zM77.0 400.0h.8v.8h-.8zM82.6 408.6h.8v.8h-.8zM49.4 428.4h.8v.8h-.8zM76.4 399.4h.8v.8h-.8zM53.3 440.8h.8v.8h-.8zM50.5 422.9h.8v.8h-.8zM77.8 397.8h.8v.8h-.8zM45.3 426.3h.8v.8h-.8zM47.0 435.9h.8v.8h-.8zM77.7 412.2h.8v.8h-.8zM46.8 422.9h.8v.8h-.8zM79.7 402.2h.8v.8h-.8zM80.8 404.5h.8v.8h-.8zM80.1 406.6h.8v.8h-.8zM72.6 401.6h.8v.8h-.8zM82.6 394.6h.8v.8h-.8zM89.5 404.8h.8v.8h-.8zM86.6 390.5h.8v.8h-.8zM77.4 408.7h.8v.8h-.8zM68.1 402.3h.8v.8h-.8zM48.8 432.5h.8v.8h-.8zM82.7 412.4h.8v.8h-.8zM79.0 408.8h.8v.8h-.8zM75.2 412.8h.8v.8h-.8zM58.8 411.3h.8v.8h-.8zM53.9 434.2h.8v.8h-.8zM58.6 429.3h.8v.8h-.8zM74.2 400.6h.8v.8h-.8zM81.2 403.6h.8v.8h-.8zM66.9 402.9h.8v.8h-.8zM51.0 419.0h.8v.8h-.8zM41.0 429.9h.8v.8h-.8zM81.7 403.6h.8v.8h-.8zM70.8 399.6h.8v.8h-.8zM78.8 401.5h.8v.8h-.8zM78.7 402.0h.8v.8h-.8zM43.2 438.3h.8v.8h-.8zM43.9 430.5h.8v.8h-.8zM73.8 395.8h.8v.8h-.8zM49.3 436.3h.8v.8h-.8zM42.1 430.8h.8v.8h-.8zM81.4 397.6h.8v.8h-.8zM50.1 432.7h.8v.8h-.8zM51.0 432.0h.8v.8h-.8zM49.8 430.1h.8v.8h-.8zM40.5 436.8h.8v.8h-.8zM63.7 426.9h.8v.8h-.8zM45.3 439.1h.8v.8h-.8zM75.1 400.2h.8v.8h-.8zM74.7 416.8h.8v.8h-.8zM69.0 402.5h.8v.8h-.8zM88.1 401.5h.8v.8h-.8zM61.6 403.3h.8v.8h-.8zM82.8 397.1h.8v.8h-.8zM78.0 416.5h.8v.8h-.8zM79.2 397.5h.8v.8h-.8zM42.4 430.7h.8v.8h-.8zM71.6 396.9h.8v.8h-.8zM52.6 430.5h.8v.8h-.8zM81.6 391.5h.8v.8h-.8zM56.6 430.5h.8v.8h-.8zM77.7 395.6h.8v.8h-.8zM79.4 395.0h.8v.8h-.8zM45.6 438.1h.8v.8h-.8zM45.7 433.1h.8v.8h-.8zM61.5 433.2h.8v.8h-.8zM49.5 420.4h.8v.8h-.8zM64.6 422.7h.8v.8h-.8zM76.4 398.6h.8v.8h-.8zM77.3 396.2h.8v.8h-.8zM77.3 408.3h.8v.8h-.8zM54.6 409.5h.8v.8h-.8zM57.4 406.5h.8v.8h-.8zM68.6 419.3h.8v.8h-.8zM65.9 425.1h.8v.8h-.8zM66.1 421.4h.8v.8h-.8zM80.3 395.8h.8v.8h-.8zM77.4 407.1h.8v.8h-.8zM67.8 422.2h.8v.8h-.8zM46.0 433.5h.8v.8h-.8zM75.5 414.1h.8v.8h-.8zM49.7 435.8h.8v.8h-.8zM62.3 425.2h.8v.8h-.8zM75.3 397.1h.8v.8h-.8zM53.0 429.2h.8v.8h-.8zM57.1 428.4h.8v.8h-.8zM73.6 415.0h.8v.8h-.8zM70.6 424.7h.8v.8h-.8zM49.1 428.9h.8v.8h-.8zM69.7 417.6h.8v.8h-.8zM61.2 426.0h.8v.8h-.8zM87.6 393.5h.8v.8h-.8zM82.0 411.2h.8v.8h-.8zM63.1 402.3h.8v.8h-.8zM78.6 406.6h.8v.8h-.8zM60.3 406.3h.8v.8h-.8zM51.6 417.3h.8v.8h-.8zM80.2 398.9h.8v.8h-.8zM79.9 403.4h.8v.8h-.8zM75.6 397.0h.8v.8h-.8zM52.4 413.3h.8v.8h-.8zM42.0 426.6h.8v.8h-.8zM81.0 405.4h.8v.8h-.8zM54.5 434.3h.8v.8h-.8zM68.7 419.0h.8v.8h-.8zM54.9 415.0h.8v.8h-.8zM63.5 403.3h.8v.8h-.8zM48.5 435.9h.8v.8h-.8zM83.8 398.7h.8v.8h-.8zM78.1 399.2h.8v.8h-.8zM42.8 427.9h.8v.8h-.8zM78.1 411.5h.8v.8h-.8zM50.4 430.1h.8v.8h-.8zM80.3 402.3h.8v.8h-.8zM58.3 428.9h.8v.8h-.8zM79.3 397.4h.8v.8h-.8zM60.0 406.0h.8v.8h-.8zM57.9 428.3h.8v.8h-.8zM78.7 402.7h.8v.8h-.8zM79.9 401.5h.8v.8h-.8zM49.7 429.4h.8v.8h-.8zM59.1 431.7h.8v.8h-.8zM73.4 415.0h.8v.8h-.8zM62.2 407.2h.8v.8h-.8zM50.6 414.6h.8v.8h-.8zM58.5 433.1h.8v.8h-.8zM62.4 401.2h.8v.8h-.8zM83.9 402.6h.8v.8h-.8zM70.8 428.8h.8v.8h-.8zM66.8 399.7h.8v.8h-.8zM48.8 421.8h.8v.8h-.8zM44.3 425.3h.8v.8h-.8zM46.4 427.1h.8v.8h-.8zM70.2 421.7h.8v.8h-.8zM58.3 411.5h.8v.8h-.8zM80.3 398.7h.8v.8h-.8zM78.1 405.3h.8v.8h-.8zM89.2 393.9h.8v.8h-.8zM73.9 414.5h.8v.8h-.8zM76.1 412.2h.8v.8h-.8zM64.8 405.1h.8v.8h-.8zM44.4 420.0h.8v.8h-.8zM56.7 428.6h.8v.8h-.8zM69.7 421.0h.8v.8h-.8zM70.6 398.5h.8v.8h-.8zM73.3 414.0h.8v.8h-.8zM45.7 431.8h.8v.8h-.8zM81.3 409.0h.8v.8h-.8zM58.0 410.9h.8v.8h-.8zM55.5 428.4h.8v.8h-.8zM59.8 411.4h.8v.8h-.8zM68.0 403.4h.8v.8h-.8zM48.9 416.6h.8v.8h-.8zM84.7 394.0h.8v.8h-.8zM45.8 428.3h.8v.8h-.8zM44.2 428.2h.8v.8h-.8zM55.8 433.4h.8v.8h-.8zM73.4 401.4h.8v.8h-.8zM43.3 437.7h.8v.8h-.8zM80.0 413.8h.8v.8h-.8zM77.6 406.3h.8v.8h-.8zM45.6 427.2h.8v.8h-.8zM67.2 424.5h.8v.8h-.8zM49.6 425.7h.8v.8h-.8zM70.8 418.7h.8v.8h-.8zM67.6 421.8h.8v.8h-.8zM67.6 422.4h.8v.8h-.8zM65.8 397.7h.8v.8h-.8zM39.7 438.8h.8v.8h-.8zM76.2 416.3h.8v.8h-.8zM42.6 436.8h.8v.8h-.8zM70.3 397.1h.8v.8h-.8zM61.1 429.4h.8v.8h-.8zM67.9 402.2h.8v.8h-.8zM49.6 435.5h.8v.8h-.8zM49.8 421.6h.8v.8h-.8zM52.9 439.3h.8v.8h-.8zM54.2 429.5h.8v.8h-.8zM44.2 436.0h.8v.8h-.8zM74.0 394.8h.8v.8h-.8zM73.2 401.3h.8v.8h-.8zM79.6 407.1h.8v.8h-.8zM77.7 400.8h.8v.8h-.8zM80.5 402.4h.8v.8h-.8zM58.0 408.4h.8v.8h-.8zM78.0 397.5h.8v.8h-.8zM64.5 407.0h.8v.8h-.8zM50.6 429.0h.8v.8h-.8zM81.7 393.8h.8v.8h-.8zM71.9 416.4h.8v.8h-.8zM82.6 396.2h.8v.8h-.8zM51.8 419.0h.8v.8h-.8zM63.3 426.7h.8v.8h-.8zM58.7 412.1h.8v.8h-.8zM70.4 423.0h.8v.8h-.8zM59.2 407.1h.8v.8h-.8zM57.4 428.4h.8v.8h-.8zM57.7 435.7h.8v.8h-.8zM45.0 432.1h.8v.8h-.8zM63.6 426.7h.8v.8h-.8zM48.1 427.5h.8v.8h-.8zM63.4 407.8h.8v.8h-.8zM79.9 393.2h.8v.8h-.8zM77.4 393.4h.8v.8h-.8zM63.3 423.7h.8v.8h-.8zM63.6 424.7h.8v.8h-.8zM48.4 422.5h.8v.8h-.8zM78.4 412.0h.8v.8h-.8zM79.6 394.8h.8v.8h-.8zM87.8 398.7h.8v.8h-.8zM78.8 409.3h.8v.8h-.8zM56.3 431.1h.8v.8h-.8zM56.5 413.5h.8v.8h-.8zM75.5 410.3h.8v.8h-.8zM46.9 428.3h.8v.8h-.8zM51.8 419.8h.8v.8h-.8zM74.4 421.1h.8v.8h-.8zM46.7 431.9h.8v.8h-.8zM49.2 420.9h.8v.8h-.8zM55.6 409.5h.8v.8h-.8zM72.1 401.7h.8v.8h-.8zM76.5 397.6h.8v.8h-.8zM63.6 425.4h.8v.8h-.8zM45.4 425.3h.8v.8h-.8zM49.3 431.8h.8v.8h-.8zM68.7 419.0h.8v.8h-.8zM69.9 399.9h.8v.8h-.8zM60.0 427.5h.8v.8h-.8zM64.3 425.8h.8v.8h-.8zM80.3 400.3h.8v.8h-.8zM79.5 390.6h.8v.8h-.8zM81.8 398.4h.8v.8h-.8zM64.8 406.5h.8v.8h-.8zM47.3 425.7h.8v.8h-.8zM48.4 425.4h.8v.8h-.8zM52.1 431.6h.8v.8h-.8zM66.7 424.4h.8v.8h-.8zM71.0 417.3h.8v.8h-.8zM76.5 409.8h.8v.8h-.8zM55.1 416.4h.8v.8h-.8zM71.9 416.5h.8v.8h-.8zM60.2 431.2h.8v.8h-.8zM66.0 405.3h.8v.8h-.8zM37.6 440.6h.8v.8h-.8zM68.8 401.7h.8v.8h-.8zM50.6 431.0h.8v.8h-.8zM50.8 429.1h.8v.8h-.8zM40.5 431.0h.8v.8h-.8zM63.5 407.0h.8v.8h-.8zM48.3 424.6h.8v.8h-.8zM78.3 389.0h.8v.8h-.8zM48.9 425.9h.8v.8h-.8zM61.9 407.7h.8v.8h-.8zM62.4 406.4h.8v.8h-.8zM72.0 399.8h.8v.8h-.8zM73.1 413.9h.8v.8h-.8zM60.4 403.7h.8v.8h-.8zM52.5 420.0h.8v.8h-.8zM76.6 412.5h.8v.8h-.8zM79.6 399.5h.8v.8h-.8zM50.0 425.6h.8v.8h-.8zM83.8 400.4h.8v.8h-.8zM79.2 396.1h.8v.8h-.8zM81.1 403.9h.8v.8h-.8zM71.5 399.1h.8v.8h-.8zM87.4 390.8h.8v.8h-.8zM60.8 408.2h.8v.8h-.8zM81.3 403.9h.8v.8h-.8zM68.8 399.6h.8v.8h-.8zM54.4 431.3h.8v.8h-.8zM59.6 430.5h.8v.8h-.8zM74.1 416.1h.8v.8h-.8zM64.7 405.9h.8v.8h-.8zM49.5 431.5h.8v.8h-.8zM43.4 431.2h.8v.8h-.8zM47.0 435.1h.8v.8h-.8zM82.5 396.3h.8v.8h-.8zM59.7 429.3h.8v.8h-.8zM58.4 427.1h.8v.8h-.8zM61.3 430.4h.8v.8h-.8zM43.7 420.9h.8v.8h-.8zM65.6 421.7h.8v.8h-.8zM49.1 420.2h.8v.8h-.8zM48.7 432.2h.8v.8h-.8zM58.9 429.0h.8v.8h-.8zM56.9 430.1h.8v.8h-.8zM78.0 398.8h.8v.8h-.8zM59.3 428.7h.8v.8h-.8zM56.9 427.8h.8v.8h-.8zM74.0 418.2h.8v.8h-.8zM76.3 412.2h.8v.8h-.8zM55.4 434.5h.8v.8h-.8zM49.0 437.9h.8v.8h-.8zM78.7 400.2h.8v.8h-.8zM77.0 391.5h.8v.8h-.8zM77.6 395.3h.8v.8h-.8zM78.4 397.6h.8v.8h-.8zM65.6 425.0h.8v.8h-.8zM57.1 428.8h.8v.8h-.8zM40.8 435.0h.8v.8h-.8zM55.9 408.0h.8v.8h-.8zM77.7 400.7h.8v.8h-.8zM53.9 416.4h.8v.8h-.8zM68.8 400.3h.8v.8h-.8zM49.1 426.8h.8v.8h-.8zM70.6 400.3h.8v.8h-.8zM51.9 420.9h.8v.8h-.8zM48.0 424.4h.8v.8h-.8zM81.9 400.8h.8v.8h-.8zM85.4 387.8h.8v.8h-.8zM64.3 425.5h.8v.8h-.8zM54.2 418.0h.8v.8h-.8zM83.0 397.8h.8v.8h-.8zM43.3 430.5h.8v.8h-.8zM50.6 422.3h.8v.8h-.8zM51.5 435.2h.8v.8h-.8zM78.0 412.5h.8v.8h-.8zM80.4 395.9h.8v.8h-.8zM77.0 413.2h.8v.8h-.8zM78.9 408.9h.8v.8h-.8zM61.7 429.5h.8v.8h-.8zM49.7 433.0h.8v.8h-.8zM64.4 405.4h.8v.8h-.8zM55.6 429.1h.8v.8h-.8zM58.8 410.6h.8v.8h-.8zM76.3 397.3h.8v.8h-.8zM49.2 436.1h.8v.8h-.8zM66.4 404.5h.8v.8h-.8zM72.3 401.7h.8v.8h-.8zM81.4 401.1h.8v.8h-.8zM81.5 411.5h.8v.8h-.8zM48.0 435.4h.8v.8h-.8zM39.7 435.8h.8v.8h-.8zM76.9 392.1h.8v.8h-.8zM54.6 436.0h.8v.8h-.8zM85.0 401.5h.8v.8h-.8zM72.2 416.1h.8v.8h-.8zM54.1 438.8h.8v.8h-.8zM71.9 421.3h.8v.8h-.8zM53.3 431.4h.8v.8h-.8zM84.2 391.9h.8v.8h-.8zM61.6 404.1h.8v.8h-.8zM82.3 406.1h.8v.8h-.8zM78.5 392.9h.8v.8h-.8zM75.1 411.0h.8v.8h-.8zM71.5 398.3h.8v.8h-.8zM49.7 417.8h.8v.8h-.8zM79.0 389.4h.8v.8h-.8zM81.2 393.6h.8v.8h-.8zM37.9 427.7h.8v.8h-.8zM86.3 393.1h.8v.8h-.8zM66.6 403.4h.8v.8h-.8zM55.7 429.5h.8v.8h-.8zM79.7 409.4h.8v.8h-.8zM66.2 402.7h.8v.8h-.8zM72.1 400.7h.8v.8h-.8zM77.5 412.6h.8v.8h-.8zM53.4 417.4h.8v.8h-.8zM49.0 423.5h.8v.8h-.8zM80.1 394.6h.8v.8h-.8zM58.7 409.6h.8v.8h-.8zM78.1 408.0h.8v.8h-.8zM51.3 434.3h.8v.8h-.8zM80.8 410.7h.8v.8h-.8zM41.7 428.9h.8v.8h-.8zM77.5 414.0h.8v.8h-.8zM76.9 412.8h.8v.8h-.8zM87.7 395.1h.8v.8h-.8zM81.6 399.6h.8v.8h-.8zM78.4 404.0h.8v.8h-.8zM77.2 413.4h.8v.8h-.8zM44.8 437.9h.8v.8h-.8zM55.4 415.7h.8v.8h-.8zM74.7 411.3h.8v.8h-.8zM53.4 429.5h.8v.8h-.8zM64.4 406.0h.8v.8h-.8zM49.5 412.7h.8v.8h-.8zM54.6 414.8h.8v.8h-.8zM47.8 427.9h.8v.8h-.8zM80.7 400.9h.8v.8h-.8zM52.0 420.1h.8v.8h-.8zM54.0 432.8h.8v.8h-.8zM67.9 421.0h.8v.8h-.8zM72.0 416.2h.8v.8h-.8zM39.3 439.7h.8v.8h-.8zM74.2 416.8h.8v.8h-.8zM74.1 416.3h.8v.8h-.8zM79.1 409.5h.8v.8h-.8zM42.3 431.1h.8v.8h-.8zM81.2 402.9h.8v.8h-.8zM44.5 423.1h.8v.8h-.8zM49.2 435.5h.8v.8h-.8zM47.8 433.5h.8v.8h-.8zM82.8 397.9h.8v.8h-.8zM78.6 406.1h.8v.8h-.8zM84.9 410.5h.8v.8h-.8zM38.1 426.1h.8v.8h-.8zM47.0 426.7h.8v.8h-.8zM54.8 415.9h.8v.8h-.8zM58.6 412.2h.8v.8h-.8zM47.2 433.6h.8v.8h-.8zM54.4 431.8h.8v.8h-.8zM77.4 394.3h.8v.8h-.8zM81.2 393.8h.8v.8h-.8zM46.7 439.9h.8v.8h-.8zM83.8 400.2h.8v.8h-.8zM50.2 417.4h.8v.8h-.8zM49.1 439.1h.8v.8h-.8zM40.4 438.4h.8v.8h-.8zM51.4 416.5h.8v.8h-.8zM46.6 431.5h.8v.8h-.8zM73.2 398.2h.8v.8h-.8zM68.8 402.7h.8v.8h-.8zM45.0 430.2h.8v.8h-.8zM51.1 420.5h.8v.8h-.8zM41.6 427.2h.8v.8h-.8zM63.4 401.8h.8v.8h-.8zM57.0 412.1h.8v.8h-.8zM50.7 422.7h.8v.8h-.8zM67.4 401.5h.8v.8h-.8zM54.1 417.2h.8v.8h-.8zM71.6 400.9h.8v.8h-.8zM81.0 403.7h.8v.8h-.8zM82.4 404.7h.8v.8h-.8zM77.7 399.9h.8v.8h-.8zM49.9 424.8h.8v.8h-.8zM75.8 394.7h.8v.8h-.8zM67.3 421.2h.8v.8h-.8zM49.0 426.7h.8v.8h-.8zM77.1 411.0h.8v.8h-.8zM73.9 398.5h.8v.8h-.8zM63.2 403.3h.8v.8h-.8zM69.5 420.8h.8v.8h-.8zM79.5 403.5h.8v.8h-.8zM68.5 421.8h.8v.8h-.8zM76.7 399.4h.8v.8h-.8zM64.2 425.2h.8v.8h-.8zM78.5 402.3h.8v.8h-.8zM64.6 423.1h.8v.8h-.8zM52.2 415.3h.8v.8h-.8zM50.6 419.2h.8v.8h-.8zM50.1 432.1h.8v.8h-.8zM67.3 404.2h.8v.8h-.8zM71.6 418.7h.8v.8h-.8zM64.8 405.8h.8v.8h-.8zM80.5 399.2h.8v.8h-.8zM75.1 399.4h.8v.8h-.8zM78.4 404.9h.8v.8h-.8zM53.5 435.7h.8v.8h-.8zM79.7 397.7h.8v.8h-.8zM65.7 405.7h.8v.8h-.8zM82.3 408.1h.8v.8h-.8zM68.0 402.2h.8v.8h-.8zM76.2 411.6h.8v.8h-.8zM47.7 423.3h.8v.8h-.8zM53.5 429.1h.8v.8h-.8zM74.8 412.8h.8v.8h-.8zM87.4 399.8h.8v.8h-.8zM37.5 436.2h.8v.8h-.8zM79.3 409.6h.8v.8h-.8zM57.0 413.7h.8v.8h-.8zM59.9 428.9h.8v.8h-.8zM86.1 395.4h.8v.8h-.8zM87.5 403.7h.8v.8h-.8zM61.9 424.5h.8v.8h-.8zM48.0 421.0h.8v.8h-.8zM74.2 400.6h.8v.8h-.8zM75.0 396.6h.8v.8h-.8zM44.1 430.7h.8v.8h-.8zM51.1 431.0h.8v.8h-.8zM79.9 399.9h.8v.8h-.8zM75.4 397.1h.8v.8h-.8zM77.1 407.4h.8v.8h-.8zM84.1 401.0h.8v.8h-.8zM67.8 402.9h.8v.8h-.8zM51.1 419.7h.8v.8h-.8zM61.6 427.6h.8v.8h-.8zM69.5 424.0h.8v.8h-.8zM49.2 433.2h.8v.8h-.8zM76.5 393.9h.8v.8h-.8zM74.1 398.3h.8v.8h-.8zM56.2 414.3h.8v.8h-.8zM62.7 426.5h.8v.8h-.8zM44.7 434.7h.8v.8h-.8zM66.6 402.7h.8v.8h-.8zM62.4 404.6h.8v.8h-.8zM41.7 440.1h.8v.8h-.8zM50.7 432.3h.8v.8h-.8zM79.4 407.1h.8v.8h-.8zM58.1 427.3h.8v.8h-.8zM75.5 415.3h.8v.8h-.8zM79.4 403.2h.8v.8h-.8zM54.0 415.7h.8v.8h-.8zM43.5 419.9h.8v.8h-.8zM83.4 395.2h.8v.8h-.8zM49.8 421.4h.8v.8h-.8zM44.1 429.9h.8v.8h-.8zM52.4 433.9h.8v.8h-.8zM69.2 425.1h.8v.8h-.8zM77.0 413.4h.8v.8h-.8zM77.0 408.2h.8v.8h-.8zM52.4 418.1h.8v.8h-.8z" fill="#93a8d6" opacity="0.55"/>
<path d="M73.7 403.0h.8v.8h-.8zM73.5 404.3h.8v.8h-.8zM66.0 406.1h.8v.8h-.8zM62.7 422.1h.8v.8h-.8zM55.6 416.4h.8v.8h-.8zM60.8 410.7h.8v.8h-.8zM67.9 405.7h.8v.8h-.8zM69.2 417.7h.8v.8h-.8zM63.6 423.1h.8v.8h-.8zM56.4 425.9h.8v.8h-.8zM74.4 403.9h.8v.8h-.8zM71.9 404.2h.8v.8h-.8zM59.4 413.8h.8v.8h-.8zM62.0 410.5h.8v.8h-.8zM52.9 420.7h.8v.8h-.8zM51.3 428.7h.8v.8h-.8zM52.6 425.1h.8v.8h-.8zM62.4 409.8h.8v.8h-.8zM75.2 405.7h.8v.8h-.8zM73.0 411.9h.8v.8h-.8zM67.6 418.4h.8v.8h-.8zM54.0 419.2h.8v.8h-.8zM61.0 410.3h.8v.8h-.8zM60.5 412.5h.8v.8h-.8zM55.1 418.9h.8v.8h-.8zM52.3 426.9h.8v.8h-.8zM66.4 406.9h.8v.8h-.8zM66.0 420.6h.8v.8h-.8zM55.7 417.2h.8v.8h-.8zM71.6 402.9h.8v.8h-.8zM69.3 416.9h.8v.8h-.8zM74.8 407.8h.8v.8h-.8zM57.8 426.0h.8v.8h-.8zM51.7 425.3h.8v.8h-.8zM69.5 405.3h.8v.8h-.8zM53.2 421.9h.8v.8h-.8zM66.9 406.9h.8v.8h-.8zM55.5 425.9h.8v.8h-.8zM58.5 425.7h.8v.8h-.8zM63.2 421.7h.8v.8h-.8zM66.6 420.0h.8v.8h-.8zM65.2 407.8h.8v.8h-.8zM71.4 413.5h.8v.8h-.8zM53.0 421.8h.8v.8h-.8zM58.2 414.7h.8v.8h-.8zM67.3 406.6h.8v.8h-.8zM76.8 403.7h.8v.8h-.8zM52.4 425.7h.8v.8h-.8zM64.3 408.2h.8v.8h-.8zM55.9 427.0h.8v.8h-.8zM69.0 404.7h.8v.8h-.8zM52.3 427.0h.8v.8h-.8zM53.8 426.1h.8v.8h-.8zM74.5 404.0h.8v.8h-.8zM63.5 408.1h.8v.8h-.8zM68.8 404.8h.8v.8h-.8zM72.3 413.3h.8v.8h-.8zM75.3 403.7h.8v.8h-.8zM77.1 402.2h.8v.8h-.8zM55.3 419.1h.8v.8h-.8zM76.9 405.0h.8v.8h-.8zM66.2 419.4h.8v.8h-.8zM67.2 418.1h.8v.8h-.8zM52.3 423.2h.8v.8h-.8zM50.7 428.7h.8v.8h-.8zM53.8 421.6h.8v.8h-.8zM74.9 408.4h.8v.8h-.8zM51.4 425.8h.8v.8h-.8zM52.2 428.2h.8v.8h-.8zM57.7 415.3h.8v.8h-.8zM74.6 409.1h.8v.8h-.8zM56.3 417.7h.8v.8h-.8zM62.8 410.3h.8v.8h-.8zM71.5 413.3h.8v.8h-.8zM73.6 403.6h.8v.8h-.8zM78.2 403.2h.8v.8h-.8zM62.0 410.6h.8v.8h-.8zM52.5 423.7h.8v.8h-.8zM75.4 402.2h.8v.8h-.8zM71.5 403.7h.8v.8h-.8zM64.7 420.7h.8v.8h-.8zM62.1 411.0h.8v.8h-.8zM77.4 403.1h.8v.8h-.8zM73.6 410.4h.8v.8h-.8zM71.2 415.2h.8v.8h-.8zM52.3 422.4h.8v.8h-.8zM55.9 416.2h.8v.8h-.8zM55.6 418.8h.8v.8h-.8zM76.0 402.5h.8v.8h-.8zM53.8 420.3h.8v.8h-.8zM70.7 404.1h.8v.8h-.8zM63.2 410.1h.8v.8h-.8zM75.2 402.0h.8v.8h-.8zM56.5 427.1h.8v.8h-.8zM51.1 424.3h.8v.8h-.8zM53.4 423.8h.8v.8h-.8zM76.9 401.1h.8v.8h-.8zM69.0 405.6h.8v.8h-.8zM71.2 404.5h.8v.8h-.8zM70.7 403.7h.8v.8h-.8zM75.5 409.1h.8v.8h-.8zM77.1 402.6h.8v.8h-.8zM58.6 424.8h.8v.8h-.8zM62.4 409.1h.8v.8h-.8zM58.8 425.2h.8v.8h-.8zM60.4 423.9h.8v.8h-.8zM74.6 402.6h.8v.8h-.8zM76.1 402.5h.8v.8h-.8zM67.2 418.6h.8v.8h-.8zM66.9 418.8h.8v.8h-.8zM55.5 425.8h.8v.8h-.8zM70.5 415.7h.8v.8h-.8zM74.4 401.6h.8v.8h-.8zM57.1 416.5h.8v.8h-.8zM76.1 404.7h.8v.8h-.8zM75.3 403.7h.8v.8h-.8zM65.5 407.3h.8v.8h-.8zM64.0 421.8h.8v.8h-.8zM75.5 407.8h.8v.8h-.8zM62.0 410.6h.8v.8h-.8zM66.4 407.2h.8v.8h-.8zM69.9 417.0h.8v.8h-.8zM69.4 405.1h.8v.8h-.8zM66.3 419.2h.8v.8h-.8zM63.5 422.2h.8v.8h-.8zM59.4 424.7h.8v.8h-.8zM69.3 403.6h.8v.8h-.8zM74.5 408.1h.8v.8h-.8zM60.0 424.2h.8v.8h-.8zM70.6 405.0h.8v.8h-.8zM53.3 422.9h.8v.8h-.8zM59.1 424.3h.8v.8h-.8zM75.1 402.4h.8v.8h-.8zM76.4 405.4h.8v.8h-.8zM72.1 402.5h.8v.8h-.8zM72.9 412.6h.8v.8h-.8zM59.8 413.5h.8v.8h-.8zM76.5 405.4h.8v.8h-.8zM51.3 426.4h.8v.8h-.8zM57.5 415.3h.8v.8h-.8zM52.7 426.1h.8v.8h-.8zM51.3 426.4h.8v.8h-.8zM54.9 419.9h.8v.8h-.8zM76.5 401.2h.8v.8h-.8zM53.3 426.3h.8v.8h-.8zM54.4 419.8h.8v.8h-.8zM63.7 409.4h.8v.8h-.8zM51.6 424.1h.8v.8h-.8zM71.5 413.0h.8v.8h-.8zM56.6 415.2h.8v.8h-.8zM75.8 408.3h.8v.8h-.8zM77.8 405.3h.8v.8h-.8zM77.6 406.0h.8v.8h-.8zM63.7 423.1h.8v.8h-.8zM61.7 423.2h.8v.8h-.8zM58.0 415.3h.8v.8h-.8zM57.1 416.4h.8v.8h-.8zM74.7 401.9h.8v.8h-.8zM72.5 413.9h.8v.8h-.8zM74.9 407.4h.8v.8h-.8zM75.5 404.5h.8v.8h-.8zM52.8 420.6h.8v.8h-.8zM59.6 424.1h.8v.8h-.8zM51.0 424.5h.8v.8h-.8zM70.1 415.4h.8v.8h-.8zM75.4 408.6h.8v.8h-.8zM50.9 427.2h.8v.8h-.8zM53.2 420.2h.8v.8h-.8zM52.6 422.5h.8v.8h-.8zM74.2 410.1h.8v.8h-.8zM69.1 416.2h.8v.8h-.8zM59.8 411.8h.8v.8h-.8zM68.4 405.8h.8v.8h-.8zM72.1 413.1h.8v.8h-.8zM65.1 421.4h.8v.8h-.8zM60.1 413.0h.8v.8h-.8zM66.8 406.5h.8v.8h-.8zM73.2 412.3h.8v.8h-.8zM65.3 408.0h.8v.8h-.8zM57.6 425.9h.8v.8h-.8zM72.6 413.8h.8v.8h-.8zM66.1 419.1h.8v.8h-.8zM75.3 407.5h.8v.8h-.8zM52.4 421.1h.8v.8h-.8zM75.8 403.2h.8v.8h-.8zM52.1 424.8h.8v.8h-.8zM76.0 405.2h.8v.8h-.8zM52.7 427.1h.8v.8h-.8zM76.7 401.6h.8v.8h-.8zM55.4 427.1h.8v.8h-.8zM52.7 426.2h.8v.8h-.8zM68.7 404.3h.8v.8h-.8zM54.5 420.7h.8v.8h-.8zM73.5 411.8h.8v.8h-.8zM74.0 402.8h.8v.8h-.8zM61.1 411.9h.8v.8h-.8zM52.3 424.0h.8v.8h-.8zM54.4 425.6h.8v.8h-.8zM70.9 402.8h.8v.8h-.8zM76.3 404.8h.8v.8h-.8zM59.7 413.0h.8v.8h-.8zM58.6 414.8h.8v.8h-.8zM72.6 402.7h.8v.8h-.8zM51.5 425.9h.8v.8h-.8zM58.1 425.4h.8v.8h-.8zM62.8 409.5h.8v.8h-.8zM52.1 421.9h.8v.8h-.8zM54.9 426.7h.8v.8h-.8zM73.7 410.1h.8v.8h-.8zM72.5 413.2h.8v.8h-.8zM68.2 417.7h.8v.8h-.8zM69.4 417.6h.8v.8h-.8zM56.5 425.4h.8v.8h-.8zM53.0 424.2h.8v.8h-.8zM52.3 422.1h.8v.8h-.8zM53.7 425.4h.8v.8h-.8zM68.9 404.2h.8v.8h-.8zM55.2 426.8h.8v.8h-.8zM53.0 427.0h.8v.8h-.8zM53.0 420.0h.8v.8h-.8zM62.2 423.5h.8v.8h-.8zM51.9 422.9h.8v.8h-.8zM75.8 404.9h.8v.8h-.8zM50.1 426.0h.8v.8h-.8zM73.9 409.3h.8v.8h-.8zM53.0 426.7h.8v.8h-.8zM58.2 426.9h.8v.8h-.8zM74.5 411.3h.8v.8h-.8zM51.9 427.2h.8v.8h-.8zM50.2 426.0h.8v.8h-.8zM76.9 406.9h.8v.8h-.8zM52.5 427.3h.8v.8h-.8zM71.4 403.0h.8v.8h-.8zM54.2 419.7h.8v.8h-.8zM59.3 414.0h.8v.8h-.8zM74.1 411.6h.8v.8h-.8zM75.4 410.2h.8v.8h-.8zM74.8 406.5h.8v.8h-.8zM59.2 424.7h.8v.8h-.8zM52.3 423.9h.8v.8h-.8zM59.6 412.1h.8v.8h-.8zM54.1 425.7h.8v.8h-.8zM69.0 404.2h.8v.8h-.8zM57.4 425.6h.8v.8h-.8zM56.3 416.9h.8v.8h-.8zM77.0 403.1h.8v.8h-.8zM70.7 404.2h.8v.8h-.8zM53.2 420.5h.8v.8h-.8zM52.7 426.2h.8v.8h-.8zM69.6 415.7h.8v.8h-.8zM54.4 425.3h.8v.8h-.8zM56.0 417.8h.8v.8h-.8zM58.2 414.9h.8v.8h-.8zM56.5 416.9h.8v.8h-.8zM78.2 402.9h.8v.8h-.8zM56.9 415.0h.8v.8h-.8zM75.8 405.4h.8v.8h-.8zM62.5 422.5h.8v.8h-.8zM52.6 421.0h.8v.8h-.8zM52.1 423.4h.8v.8h-.8zM75.9 408.0h.8v.8h-.8zM51.7 427.0h.8v.8h-.8zM62.2 409.3h.8v.8h-.8zM70.7 403.9h.8v.8h-.8zM77.2 403.9h.8v.8h-.8zM76.7 401.7h.8v.8h-.8zM64.5 420.7h.8v.8h-.8zM75.6 409.1h.8v.8h-.8zM64.9 408.3h.8v.8h-.8zM74.2 411.6h.8v.8h-.8zM65.6 406.7h.8v.8h-.8zM75.3 409.1h.8v.8h-.8zM76.4 408.6h.8v.8h-.8zM51.0 426.6h.8v.8h-.8zM76.7 402.2h.8v.8h-.8zM59.1 413.2h.8v.8h-.8zM59.4 412.1h.8v.8h-.8zM67.0 419.3h.8v.8h-.8zM53.2 424.1h.8v.8h-.8zM66.1 420.5h.8v.8h-.8zM77.3 405.6h.8v.8h-.8zM72.9 403.5h.8v.8h-.8zM65.3 407.1h.8v.8h-.8zM60.8 423.3h.8v.8h-.8zM76.0 400.8h.8v.8h-.8z" fill="#5a84c4" opacity="0.8"/>
<rect x="35.40" y="386.20" width="56.60" height="56.60" fill="#fff" opacity="0.35" filter="url(#sp1)"/>
</g>
<rect x="35.40" y="386.20" width="56.60" height="56.60" fill="none" stroke="#000" stroke-width="1.2"/>
<line x1="41.90" y1="438.00" x2="87.70" y2="393.30" stroke="#333" stroke-width="0.7" />
<text x="63.70" y="394.60" font-size="5.6" text-anchor="middle" font-weight="bold" fill="#000" >0.56</text>
<line x1="32.80" y1="392.50" x2="35.40" y2="392.50" stroke="#000" stroke-width="0.9" />
<text x="31.80" y="394.70" font-size="6.6" text-anchor="end" fill="#111">10<tspan font-size="4.6" dy="-2.8">4</tspan></text>
<line x1="32.80" y1="424.60" x2="35.40" y2="424.60" stroke="#000" stroke-width="0.9" />
<text x="31.80" y="426.80" font-size="6.6" text-anchor="end" fill="#111">10<tspan font-size="4.6" dy="-2.8">3</tspan></text>
<line x1="51.40" y1="442.80" x2="51.40" y2="445.40" stroke="#000" stroke-width="0.9" />
<text x="51.40" y="453.4" font-size="6.6" text-anchor="middle" fill="#111">10<tspan font-size="4.6" dy="-2.8">3</tspan></text>
<line x1="77.80" y1="442.80" x2="77.80" y2="445.40" stroke="#000" stroke-width="0.9" />
<text x="77.80" y="453.4" font-size="6.6" text-anchor="middle" fill="#111">10<tspan font-size="4.6" dy="-2.8">4</tspan></text>
<line x1="59.35" y1="442.80" x2="59.35" y2="444.20" stroke="#000" stroke-width="0.5" />
<line x1="85.75" y1="442.80" x2="85.75" y2="444.20" stroke="#000" stroke-width="0.5" />
<line x1="34.00" y1="414.94" x2="35.40" y2="414.94" stroke="#000" stroke-width="0.5" />
<line x1="37.60" y1="442.80" x2="37.60" y2="444.20" stroke="#000" stroke-width="0.5" />
<line x1="64.00" y1="442.80" x2="64.00" y2="444.20" stroke="#000" stroke-width="0.5" />
<line x1="90.40" y1="442.80" x2="90.40" y2="444.20" stroke="#000" stroke-width="0.5" />
<line x1="34.00" y1="441.38" x2="35.40" y2="441.38" stroke="#000" stroke-width="0.5" />
<line x1="34.00" y1="409.28" x2="35.40" y2="409.28" stroke="#000" stroke-width="0.5" />
<line x1="40.89" y1="442.80" x2="40.89" y2="444.20" stroke="#000" stroke-width="0.5" />
<line x1="67.29" y1="442.80" x2="67.29" y2="444.20" stroke="#000" stroke-width="0.5" />
<line x1="34.00" y1="437.37" x2="35.40" y2="437.37" stroke="#000" stroke-width="0.5" />
<line x1="34.00" y1="405.27" x2="35.40" y2="405.27" stroke="#000" stroke-width="0.5" />
<line x1="43.45" y1="442.80" x2="43.45" y2="444.20" stroke="#000" stroke-width="0.5" />
<line x1="69.85" y1="442.80" x2="69.85" y2="444.20" stroke="#000" stroke-width="0.5" />
<line x1="34.00" y1="434.26" x2="35.40" y2="434.26" stroke="#000" stroke-width="0.5" />
<line x1="34.00" y1="402.16" x2="35.40" y2="402.16" stroke="#000" stroke-width="0.5" />
<line x1="45.54" y1="442.80" x2="45.54" y2="444.20" stroke="#000" stroke-width="0.5" />
<line x1="71.94" y1="442.80" x2="71.94" y2="444.20" stroke="#000" stroke-width="0.5" />
<line x1="34.00" y1="431.72" x2="35.40" y2="431.72" stroke="#000" stroke-width="0.5" />
<line x1="34.00" y1="399.62" x2="35.40" y2="399.62" stroke="#000" stroke-width="0.5" />
<line x1="47.31" y1="442.80" x2="47.31" y2="444.20" stroke="#000" stroke-width="0.5" />
<line x1="73.71" y1="442.80" x2="73.71" y2="444.20" stroke="#000" stroke-width="0.5" />
<line x1="34.00" y1="429.57" x2="35.40" y2="429.57" stroke="#000" stroke-width="0.5" />
<line x1="34.00" y1="397.47" x2="35.40" y2="397.47" stroke="#000" stroke-width="0.5" />
<line x1="48.84" y1="442.80" x2="48.84" y2="444.20" stroke="#000" stroke-width="0.5" />
<line x1="75.24" y1="442.80" x2="75.24" y2="444.20" stroke="#000" stroke-width="0.5" />
<line x1="34.00" y1="427.71" x2="35.40" y2="427.71" stroke="#000" stroke-width="0.5" />
<line x1="34.00" y1="395.61" x2="35.40" y2="395.61" stroke="#000" stroke-width="0.5" />
<line x1="50.19" y1="442.80" x2="50.19" y2="444.20" stroke="#000" stroke-width="0.5" />
<line x1="76.59" y1="442.80" x2="76.59" y2="444.20" stroke="#000" stroke-width="0.5" />
<line x1="34.00" y1="426.07" x2="35.40" y2="426.07" stroke="#000" stroke-width="0.5" />
<line x1="34.00" y1="393.97" x2="35.40" y2="393.97" stroke="#000" stroke-width="0.5" />
<text x="139.30" y="381.80" font-size="6.5" text-anchor="middle" fill="#111" >Pyruvate</text>
<rect x="111.00" y="386.20" width="56.60" height="56.60" fill="#fff"/>
<g clip-path="url(#gc156)">
<ellipse cx="0" cy="0" rx="30.00" ry="8.16" fill="url(#g153)" transform="translate(140.80,419.60) rotate(-44)"/>
<ellipse cx="0" cy="0" rx="18.75" ry="4.25" fill="url(#g157)" transform="translate(140.80,419.60) rotate(-44)"/>
<ellipse cx="0" cy="0" rx="10.62" ry="2.55" fill="url(#g158)" transform="translate(140.80,419.60) rotate(-44)"/>
<path d="M132.1 433.5h.8v.8h-.8zM129.1 433.5h.8v.8h-.8zM141.2 427.7h.8v.8h-.8zM151.6 423.4h.8v.8h-.8zM126.6 432.2h.8v.8h-.8zM145.0 427.2h.8v.8h-.8zM126.6 423.2h.8v.8h-.8zM150.1 405.3h.8v.8h-.8zM151.8 406.0h.8v.8h-.8zM122.4 431.4h.8v.8h-.8zM119.8 433.6h.8v.8h-.8zM145.3 422.7h.8v.8h-.8zM123.7 420.1h.8v.8h-.8zM146.9 405.1h.8v.8h-.8zM145.8 424.4h.8v.8h-.8zM120.5 438.2h.8v.8h-.8zM145.0 408.9h.8v.8h-.8zM126.2 438.9h.8v.8h-.8zM140.5 409.5h.8v.8h-.8zM126.8 426.1h.8v.8h-.8zM155.8 396.0h.8v.8h-.8zM161.2 399.2h.8v.8h-.8zM146.4 407.3h.8v.8h-.8zM124.6 425.4h.8v.8h-.8zM142.0 429.0h.8v.8h-.8zM137.8 413.3h.8v.8h-.8zM128.1 422.1h.8v.8h-.8zM143.4 409.9h.8v.8h-.8zM146.6 407.1h.8v.8h-.8zM139.5 407.5h.8v.8h-.8zM155.0 411.5h.8v.8h-.8zM139.1 428.3h.8v.8h-.8zM137.8 436.2h.8v.8h-.8zM154.3 412.4h.8v.8h-.8zM115.2 437.5h.8v.8h-.8zM127.7 439.7h.8v.8h-.8zM136.9 416.3h.8v.8h-.8zM153.7 414.7h.8v.8h-.8zM124.3 422.8h.8v.8h-.8zM156.4 404.5h.8v.8h-.8zM138.5 414.6h.8v.8h-.8zM139.4 413.8h.8v.8h-.8zM133.2 415.6h.8v.8h-.8zM125.2 433.3h.8v.8h-.8zM144.8 407.2h.8v.8h-.8zM126.8 431.3h.8v.8h-.8zM155.0 415.6h.8v.8h-.8zM124.4 428.8h.8v.8h-.8zM123.4 435.1h.8v.8h-.8zM132.4 435.5h.8v.8h-.8zM147.7 419.9h.8v.8h-.8zM127.3 428.5h.8v.8h-.8zM156.2 406.2h.8v.8h-.8zM128.3 426.1h.8v.8h-.8zM156.3 409.7h.8v.8h-.8zM120.3 437.6h.8v.8h-.8zM123.6 436.9h.8v.8h-.8zM137.1 430.7h.8v.8h-.8zM147.2 422.3h.8v.8h-.8zM154.0 402.4h.8v.8h-.8zM152.9 405.3h.8v.8h-.8zM153.1 405.1h.8v.8h-.8zM158.3 402.9h.8v.8h-.8zM155.7 412.2h.8v.8h-.8zM133.7 417.3h.8v.8h-.8zM133.0 419.2h.8v.8h-.8zM117.9 438.3h.8v.8h-.8zM120.8 435.3h.8v.8h-.8zM137.7 429.5h.8v.8h-.8zM152.0 421.3h.8v.8h-.8zM126.9 429.1h.8v.8h-.8zM134.2 414.7h.8v.8h-.8zM153.1 405.0h.8v.8h-.8zM156.9 401.5h.8v.8h-.8zM155.8 419.0h.8v.8h-.8zM128.4 426.5h.8v.8h-.8zM121.5 437.2h.8v.8h-.8zM132.7 416.5h.8v.8h-.8zM122.9 426.5h.8v.8h-.8zM136.8 414.9h.8v.8h-.8zM143.9 408.4h.8v.8h-.8zM126.5 436.3h.8v.8h-.8zM149.8 406.6h.8v.8h-.8zM146.3 403.5h.8v.8h-.8zM127.5 423.7h.8v.8h-.8zM136.8 413.0h.8v.8h-.8zM121.0 438.8h.8v.8h-.8zM162.7 397.2h.8v.8h-.8zM123.8 435.3h.8v.8h-.8zM129.5 434.0h.8v.8h-.8zM138.6 413.2h.8v.8h-.8zM129.7 435.4h.8v.8h-.8zM137.6 415.6h.8v.8h-.8zM132.8 432.7h.8v.8h-.8zM137.1 414.7h.8v.8h-.8zM122.0 425.3h.8v.8h-.8zM157.6 403.5h.8v.8h-.8zM150.2 421.7h.8v.8h-.8zM144.6 423.3h.8v.8h-.8zM141.5 412.0h.8v.8h-.8zM154.0 414.4h.8v.8h-.8zM151.1 405.1h.8v.8h-.8zM155.4 407.1h.8v.8h-.8zM156.7 415.0h.8v.8h-.8zM156.1 409.7h.8v.8h-.8zM153.3 415.7h.8v.8h-.8zM152.4 416.5h.8v.8h-.8zM158.0 404.8h.8v.8h-.8zM135.6 414.7h.8v.8h-.8zM119.9 439.2h.8v.8h-.8zM138.7 429.2h.8v.8h-.8zM125.1 429.1h.8v.8h-.8zM148.5 419.8h.8v.8h-.8zM159.0 405.5h.8v.8h-.8zM134.5 433.8h.8v.8h-.8zM153.4 415.3h.8v.8h-.8zM125.8 426.1h.8v.8h-.8zM135.7 432.5h.8v.8h-.8zM148.5 406.8h.8v.8h-.8zM156.5 401.9h.8v.8h-.8zM138.6 410.9h.8v.8h-.8zM128.9 438.1h.8v.8h-.8zM145.5 403.9h.8v.8h-.8zM123.0 434.1h.8v.8h-.8zM121.1 430.2h.8v.8h-.8zM154.2 411.5h.8v.8h-.8zM150.9 406.5h.8v.8h-.8zM116.2 438.8h.8v.8h-.8zM128.9 425.2h.8v.8h-.8zM127.3 433.7h.8v.8h-.8zM118.5 430.4h.8v.8h-.8zM155.9 401.6h.8v.8h-.8zM124.5 432.5h.8v.8h-.8zM155.3 410.9h.8v.8h-.8zM161.4 402.9h.8v.8h-.8zM125.9 428.6h.8v.8h-.8zM154.8 407.1h.8v.8h-.8zM149.3 418.8h.8v.8h-.8zM118.5 432.0h.8v.8h-.8zM141.0 427.1h.8v.8h-.8zM127.3 437.1h.8v.8h-.8zM165.8 398.2h.8v.8h-.8zM141.2 408.3h.8v.8h-.8zM122.2 434.6h.8v.8h-.8zM133.5 433.5h.8v.8h-.8zM129.1 433.7h.8v.8h-.8zM122.7 428.3h.8v.8h-.8zM122.3 427.6h.8v.8h-.8zM145.0 423.3h.8v.8h-.8zM123.7 431.2h.8v.8h-.8zM131.0 439.8h.8v.8h-.8zM134.1 432.0h.8v.8h-.8zM156.8 407.2h.8v.8h-.8zM143.5 407.3h.8v.8h-.8zM135.8 434.2h.8v.8h-.8zM122.4 437.5h.8v.8h-.8zM133.1 417.1h.8v.8h-.8zM149.9 420.4h.8v.8h-.8zM145.8 408.4h.8v.8h-.8zM160.3 407.4h.8v.8h-.8zM144.8 425.3h.8v.8h-.8zM133.6 435.2h.8v.8h-.8zM147.8 406.9h.8v.8h-.8zM140.5 426.7h.8v.8h-.8zM129.7 436.2h.8v.8h-.8zM135.6 437.2h.8v.8h-.8zM126.3 436.8h.8v.8h-.8zM156.8 401.8h.8v.8h-.8zM139.6 411.7h.8v.8h-.8zM140.6 410.2h.8v.8h-.8zM156.0 403.2h.8v.8h-.8zM133.5 432.8h.8v.8h-.8zM138.5 411.5h.8v.8h-.8zM158.0 403.3h.8v.8h-.8zM126.0 431.7h.8v.8h-.8zM142.1 410.4h.8v.8h-.8zM141.7 411.0h.8v.8h-.8zM128.7 434.3h.8v.8h-.8zM157.0 405.4h.8v.8h-.8zM162.8 402.1h.8v.8h-.8zM142.3 426.3h.8v.8h-.8zM159.2 401.0h.8v.8h-.8zM142.1 425.6h.8v.8h-.8zM144.5 409.7h.8v.8h-.8zM124.0 427.0h.8v.8h-.8zM146.4 406.8h.8v.8h-.8zM157.5 408.3h.8v.8h-.8zM122.7 435.6h.8v.8h-.8zM160.5 399.0h.8v.8h-.8zM141.2 431.3h.8v.8h-.8zM152.3 417.7h.8v.8h-.8zM152.8 416.0h.8v.8h-.8zM130.7 437.0h.8v.8h-.8zM127.0 432.2h.8v.8h-.8zM134.2 432.1h.8v.8h-.8zM137.5 430.1h.8v.8h-.8zM137.9 414.9h.8v.8h-.8zM149.4 402.5h.8v.8h-.8zM135.2 409.8h.8v.8h-.8zM149.7 420.4h.8v.8h-.8zM133.6 432.9h.8v.8h-.8zM158.3 404.1h.8v.8h-.8zM136.1 412.1h.8v.8h-.8zM139.7 413.1h.8v.8h-.8zM154.6 409.4h.8v.8h-.8zM156.1 406.2h.8v.8h-.8zM143.1 408.7h.8v.8h-.8zM151.0 404.1h.8v.8h-.8zM160.7 407.8h.8v.8h-.8zM159.2 401.7h.8v.8h-.8zM126.0 437.2h.8v.8h-.8zM129.4 435.8h.8v.8h-.8zM153.2 415.9h.8v.8h-.8zM143.5 427.0h.8v.8h-.8zM132.9 436.5h.8v.8h-.8zM143.6 426.1h.8v.8h-.8zM158.7 407.4h.8v.8h-.8zM137.7 431.8h.8v.8h-.8zM121.0 434.2h.8v.8h-.8zM144.8 404.5h.8v.8h-.8zM125.5 431.4h.8v.8h-.8zM154.9 406.9h.8v.8h-.8zM157.2 407.4h.8v.8h-.8zM163.7 411.8h.8v.8h-.8zM160.7 408.1h.8v.8h-.8zM129.2 423.0h.8v.8h-.8zM149.3 422.2h.8v.8h-.8zM151.8 403.1h.8v.8h-.8zM132.3 421.1h.8v.8h-.8zM128.1 433.3h.8v.8h-.8zM120.2 433.2h.8v.8h-.8zM138.0 435.0h.8v.8h-.8zM130.5 418.5h.8v.8h-.8zM142.4 433.4h.8v.8h-.8zM138.9 428.8h.8v.8h-.8zM144.7 424.5h.8v.8h-.8zM154.4 405.1h.8v.8h-.8zM154.8 407.7h.8v.8h-.8zM131.3 432.9h.8v.8h-.8zM131.2 433.5h.8v.8h-.8zM155.7 406.7h.8v.8h-.8zM134.0 417.3h.8v.8h-.8zM154.9 413.4h.8v.8h-.8zM158.7 401.3h.8v.8h-.8zM152.5 398.5h.8v.8h-.8zM127.8 425.9h.8v.8h-.8zM148.0 405.6h.8v.8h-.8zM136.3 414.6h.8v.8h-.8zM135.8 432.9h.8v.8h-.8zM125.4 432.5h.8v.8h-.8zM162.2 408.6h.8v.8h-.8zM141.0 412.1h.8v.8h-.8zM132.3 432.5h.8v.8h-.8zM147.5 405.7h.8v.8h-.8zM156.8 407.0h.8v.8h-.8zM139.2 414.2h.8v.8h-.8zM142.4 410.0h.8v.8h-.8zM126.9 428.5h.8v.8h-.8zM163.2 397.0h.8v.8h-.8zM137.8 409.4h.8v.8h-.8zM129.8 423.8h.8v.8h-.8zM145.9 406.3h.8v.8h-.8zM128.6 434.5h.8v.8h-.8zM153.7 398.1h.8v.8h-.8zM121.2 432.6h.8v.8h-.8zM135.3 433.7h.8v.8h-.8zM158.8 398.5h.8v.8h-.8zM160.6 402.7h.8v.8h-.8zM154.6 413.9h.8v.8h-.8zM152.4 418.9h.8v.8h-.8zM156.1 399.7h.8v.8h-.8zM127.3 433.8h.8v.8h-.8zM152.8 404.2h.8v.8h-.8zM137.0 431.5h.8v.8h-.8zM138.0 429.7h.8v.8h-.8zM158.0 405.4h.8v.8h-.8zM116.9 435.5h.8v.8h-.8zM136.2 431.6h.8v.8h-.8zM128.5 425.1h.8v.8h-.8zM119.4 430.5h.8v.8h-.8zM147.6 422.9h.8v.8h-.8zM135.3 430.7h.8v.8h-.8zM140.4 433.0h.8v.8h-.8zM141.9 410.1h.8v.8h-.8zM156.4 413.1h.8v.8h-.8zM144.0 409.4h.8v.8h-.8zM135.3 416.7h.8v.8h-.8zM153.4 399.4h.8v.8h-.8zM133.2 432.5h.8v.8h-.8zM134.9 416.2h.8v.8h-.8zM150.2 419.4h.8v.8h-.8zM142.3 410.5h.8v.8h-.8zM150.7 418.7h.8v.8h-.8zM126.8 434.8h.8v.8h-.8zM154.9 404.4h.8v.8h-.8zM134.6 431.7h.8v.8h-.8zM129.2 438.2h.8v.8h-.8zM148.0 422.3h.8v.8h-.8zM142.2 431.1h.8v.8h-.8zM131.0 421.5h.8v.8h-.8zM160.6 404.9h.8v.8h-.8zM141.3 427.8h.8v.8h-.8zM163.2 403.3h.8v.8h-.8zM126.9 431.0h.8v.8h-.8zM162.0 400.4h.8v.8h-.8zM153.3 403.9h.8v.8h-.8zM157.3 396.3h.8v.8h-.8zM144.3 408.4h.8v.8h-.8zM135.6 416.1h.8v.8h-.8zM160.2 407.9h.8v.8h-.8zM116.4 440.9h.8v.8h-.8zM125.3 432.8h.8v.8h-.8zM142.9 405.3h.8v.8h-.8zM151.4 403.5h.8v.8h-.8zM144.3 408.6h.8v.8h-.8zM123.2 431.9h.8v.8h-.8zM156.5 403.9h.8v.8h-.8zM128.4 438.5h.8v.8h-.8zM154.8 413.9h.8v.8h-.8zM138.1 410.9h.8v.8h-.8zM127.5 428.5h.8v.8h-.8zM155.7 410.9h.8v.8h-.8zM135.7 412.8h.8v.8h-.8zM157.9 418.0h.8v.8h-.8zM142.9 426.2h.8v.8h-.8zM155.2 414.1h.8v.8h-.8zM156.9 407.3h.8v.8h-.8zM138.1 429.0h.8v.8h-.8zM157.5 400.4h.8v.8h-.8zM128.2 424.1h.8v.8h-.8zM149.8 421.2h.8v.8h-.8zM154.5 418.6h.8v.8h-.8zM132.5 420.8h.8v.8h-.8zM155.7 410.2h.8v.8h-.8zM128.7 421.5h.8v.8h-.8zM128.2 436.9h.8v.8h-.8zM121.3 433.1h.8v.8h-.8zM155.9 407.1h.8v.8h-.8zM151.5 401.1h.8v.8h-.8zM125.4 431.0h.8v.8h-.8zM124.2 437.0h.8v.8h-.8zM139.3 412.6h.8v.8h-.8zM141.2 430.8h.8v.8h-.8zM129.8 422.8h.8v.8h-.8zM126.8 433.2h.8v.8h-.8zM150.4 400.1h.8v.8h-.8zM147.2 423.9h.8v.8h-.8zM122.5 428.3h.8v.8h-.8zM120.7 439.2h.8v.8h-.8zM163.6 405.1h.8v.8h-.8zM119.3 441.2h.8v.8h-.8zM132.7 434.3h.8v.8h-.8zM141.8 427.1h.8v.8h-.8zM127.9 438.9h.8v.8h-.8zM142.2 426.8h.8v.8h-.8zM141.3 427.1h.8v.8h-.8zM133.3 417.0h.8v.8h-.8zM148.7 419.5h.8v.8h-.8zM128.7 423.7h.8v.8h-.8zM114.6 439.7h.8v.8h-.8zM117.6 440.9h.8v.8h-.8zM139.8 433.5h.8v.8h-.8zM147.4 404.7h.8v.8h-.8zM153.1 414.5h.8v.8h-.8zM129.8 424.4h.8v.8h-.8zM129.0 433.6h.8v.8h-.8zM145.0 428.2h.8v.8h-.8zM154.4 413.8h.8v.8h-.8zM130.9 433.3h.8v.8h-.8zM123.3 425.9h.8v.8h-.8zM157.2 409.4h.8v.8h-.8zM123.5 427.9h.8v.8h-.8zM154.6 409.5h.8v.8h-.8zM122.9 428.2h.8v.8h-.8zM127.9 423.6h.8v.8h-.8zM145.2 408.7h.8v.8h-.8zM155.0 402.5h.8v.8h-.8zM143.4 425.4h.8v.8h-.8zM163.5 404.4h.8v.8h-.8zM122.4 441.1h.8v.8h-.8zM155.8 398.8h.8v.8h-.8zM145.7 425.1h.8v.8h-.8zM154.9 412.2h.8v.8h-.8zM140.9 426.6h.8v.8h-.8zM143.0 411.0h.8v.8h-.8zM135.2 437.2h.8v.8h-.8zM118.4 430.1h.8v.8h-.8zM128.2 424.9h.8v.8h-.8zM123.6 432.8h.8v.8h-.8zM160.1 404.5h.8v.8h-.8zM127.4 427.2h.8v.8h-.8zM157.7 403.1h.8v.8h-.8zM157.5 403.1h.8v.8h-.8zM126.8 429.2h.8v.8h-.8zM128.8 434.8h.8v.8h-.8zM117.1 435.3h.8v.8h-.8zM163.3 401.2h.8v.8h-.8zM157.2 409.0h.8v.8h-.8zM149.6 420.4h.8v.8h-.8zM155.4 405.9h.8v.8h-.8zM130.2 421.9h.8v.8h-.8zM136.2 416.9h.8v.8h-.8zM146.6 405.3h.8v.8h-.8zM157.0 407.6h.8v.8h-.8zM146.7 406.8h.8v.8h-.8zM124.9 440.0h.8v.8h-.8zM142.8 425.1h.8v.8h-.8zM122.0 429.3h.8v.8h-.8zM150.6 418.3h.8v.8h-.8zM121.3 435.7h.8v.8h-.8zM118.3 433.9h.8v.8h-.8zM136.1 414.6h.8v.8h-.8zM153.9 401.7h.8v.8h-.8zM141.9 426.7h.8v.8h-.8zM123.6 426.1h.8v.8h-.8zM157.6 405.0h.8v.8h-.8zM154.5 399.7h.8v.8h-.8zM149.4 418.7h.8v.8h-.8zM122.6 435.0h.8v.8h-.8zM163.0 401.0h.8v.8h-.8zM145.1 408.8h.8v.8h-.8zM127.2 435.7h.8v.8h-.8zM155.7 407.8h.8v.8h-.8zM121.0 429.0h.8v.8h-.8zM152.9 413.8h.8v.8h-.8zM126.5 420.3h.8v.8h-.8zM134.7 411.5h.8v.8h-.8zM151.4 416.0h.8v.8h-.8zM137.6 433.6h.8v.8h-.8zM155.2 406.1h.8v.8h-.8zM120.4 433.6h.8v.8h-.8zM128.5 436.7h.8v.8h-.8zM144.0 407.6h.8v.8h-.8zM154.8 398.9h.8v.8h-.8zM133.3 416.1h.8v.8h-.8zM160.1 413.8h.8v.8h-.8zM150.1 405.1h.8v.8h-.8zM128.8 425.4h.8v.8h-.8zM123.7 427.5h.8v.8h-.8zM128.9 436.1h.8v.8h-.8zM136.5 432.4h.8v.8h-.8zM150.4 406.4h.8v.8h-.8zM155.5 409.8h.8v.8h-.8zM151.7 415.2h.8v.8h-.8zM145.1 409.4h.8v.8h-.8zM144.2 424.6h.8v.8h-.8zM136.9 438.7h.8v.8h-.8zM126.8 428.5h.8v.8h-.8zM162.3 399.5h.8v.8h-.8zM158.6 406.3h.8v.8h-.8zM138.8 429.0h.8v.8h-.8zM154.0 404.5h.8v.8h-.8zM129.8 434.4h.8v.8h-.8zM129.1 424.3h.8v.8h-.8zM127.8 426.1h.8v.8h-.8zM129.3 416.5h.8v.8h-.8zM151.3 404.9h.8v.8h-.8zM152.4 413.9h.8v.8h-.8zM147.2 404.7h.8v.8h-.8zM127.9 426.8h.8v.8h-.8zM124.9 426.5h.8v.8h-.8zM157.2 408.7h.8v.8h-.8zM154.8 407.5h.8v.8h-.8zM146.7 422.0h.8v.8h-.8zM135.0 413.3h.8v.8h-.8zM141.0 428.7h.8v.8h-.8zM125.1 433.8h.8v.8h-.8zM127.4 425.8h.8v.8h-.8zM138.0 413.3h.8v.8h-.8zM136.0 430.7h.8v.8h-.8zM134.2 432.0h.8v.8h-.8zM134.9 437.2h.8v.8h-.8zM149.2 419.6h.8v.8h-.8zM141.4 429.7h.8v.8h-.8zM156.1 413.3h.8v.8h-.8zM124.3 422.6h.8v.8h-.8zM130.9 417.6h.8v.8h-.8zM157.0 412.7h.8v.8h-.8zM151.9 401.2h.8v.8h-.8zM126.6 427.0h.8v.8h-.8zM130.3 422.9h.8v.8h-.8zM154.3 405.5h.8v.8h-.8zM141.7 409.0h.8v.8h-.8zM131.3 422.1h.8v.8h-.8zM123.3 428.0h.8v.8h-.8zM156.4 394.4h.8v.8h-.8zM136.8 413.2h.8v.8h-.8zM150.3 419.5h.8v.8h-.8zM134.4 416.9h.8v.8h-.8zM139.0 414.1h.8v.8h-.8zM148.9 421.6h.8v.8h-.8zM135.5 416.1h.8v.8h-.8zM124.1 428.3h.8v.8h-.8zM140.5 409.6h.8v.8h-.8zM148.7 407.0h.8v.8h-.8zM127.8 423.4h.8v.8h-.8zM136.8 430.0h.8v.8h-.8zM138.0 413.1h.8v.8h-.8zM122.3 434.9h.8v.8h-.8zM127.0 427.0h.8v.8h-.8zM155.6 407.2h.8v.8h-.8zM143.8 410.1h.8v.8h-.8zM131.6 434.5h.8v.8h-.8zM122.4 433.9h.8v.8h-.8zM128.1 435.4h.8v.8h-.8zM158.9 403.9h.8v.8h-.8zM160.0 400.0h.8v.8h-.8zM122.5 433.7h.8v.8h-.8zM131.2 417.3h.8v.8h-.8zM159.5 407.4h.8v.8h-.8zM158.3 406.9h.8v.8h-.8zM155.6 398.9h.8v.8h-.8zM142.4 405.7h.8v.8h-.8zM133.6 418.2h.8v.8h-.8zM155.7 403.8h.8v.8h-.8zM145.5 425.7h.8v.8h-.8zM128.5 424.5h.8v.8h-.8zM124.4 435.8h.8v.8h-.8zM141.7 410.8h.8v.8h-.8zM126.6 425.8h.8v.8h-.8zM157.6 403.2h.8v.8h-.8zM135.5 415.0h.8v.8h-.8zM155.1 412.8h.8v.8h-.8zM137.5 431.4h.8v.8h-.8zM126.3 430.6h.8v.8h-.8zM139.1 411.0h.8v.8h-.8zM122.9 437.1h.8v.8h-.8zM161.8 398.0h.8v.8h-.8z" fill="#93a8d6" opacity="0.55"/>
<path d="M132.6 422.3h.8v.8h-.8zM153.2 410.7h.8v.8h-.8zM147.2 418.5h.8v.8h-.8zM129.4 432.3h.8v.8h-.8zM150.0 408.4h.8v.8h-.8zM152.2 409.3h.8v.8h-.8zM146.8 419.3h.8v.8h-.8zM150.9 407.4h.8v.8h-.8zM154.5 408.8h.8v.8h-.8zM137.3 417.5h.8v.8h-.8zM140.1 413.7h.8v.8h-.8zM134.0 429.5h.8v.8h-.8zM146.7 409.8h.8v.8h-.8zM145.3 411.1h.8v.8h-.8zM131.7 423.6h.8v.8h-.8zM150.8 408.3h.8v.8h-.8zM128.9 427.5h.8v.8h-.8zM130.2 431.6h.8v.8h-.8zM136.2 429.3h.8v.8h-.8zM150.1 415.6h.8v.8h-.8zM141.1 424.4h.8v.8h-.8zM128.6 432.6h.8v.8h-.8zM135.0 429.9h.8v.8h-.8zM130.6 430.3h.8v.8h-.8zM152.6 411.0h.8v.8h-.8zM129.8 431.1h.8v.8h-.8zM147.5 419.1h.8v.8h-.8zM140.0 425.7h.8v.8h-.8zM141.3 412.7h.8v.8h-.8zM141.2 414.0h.8v.8h-.8zM129.2 426.3h.8v.8h-.8zM130.4 430.7h.8v.8h-.8zM152.7 407.0h.8v.8h-.8zM129.9 428.8h.8v.8h-.8zM148.3 416.9h.8v.8h-.8zM129.5 428.3h.8v.8h-.8zM138.7 427.6h.8v.8h-.8zM144.4 422.8h.8v.8h-.8zM141.1 425.1h.8v.8h-.8zM128.2 428.3h.8v.8h-.8zM132.3 422.4h.8v.8h-.8zM151.0 414.9h.8v.8h-.8zM131.2 429.3h.8v.8h-.8zM129.5 429.2h.8v.8h-.8zM152.9 411.1h.8v.8h-.8zM148.2 419.1h.8v.8h-.8zM149.2 409.5h.8v.8h-.8zM153.1 410.9h.8v.8h-.8zM147.2 419.2h.8v.8h-.8zM139.6 414.4h.8v.8h-.8zM148.0 409.5h.8v.8h-.8zM142.2 423.7h.8v.8h-.8zM152.7 410.5h.8v.8h-.8zM143.9 422.7h.8v.8h-.8zM133.0 430.8h.8v.8h-.8zM133.2 422.0h.8v.8h-.8zM133.8 429.7h.8v.8h-.8zM151.2 408.2h.8v.8h-.8zM146.7 408.9h.8v.8h-.8zM150.5 414.5h.8v.8h-.8zM129.0 430.8h.8v.8h-.8zM146.7 410.0h.8v.8h-.8zM144.1 410.9h.8v.8h-.8zM141.4 414.0h.8v.8h-.8zM147.4 418.6h.8v.8h-.8zM129.4 429.8h.8v.8h-.8zM133.8 429.4h.8v.8h-.8zM152.9 409.5h.8v.8h-.8zM131.1 423.1h.8v.8h-.8zM151.7 409.0h.8v.8h-.8zM147.1 418.6h.8v.8h-.8zM134.3 429.4h.8v.8h-.8zM140.4 425.3h.8v.8h-.8zM130.2 426.1h.8v.8h-.8zM152.4 410.1h.8v.8h-.8zM148.5 408.3h.8v.8h-.8zM150.5 415.0h.8v.8h-.8zM151.7 412.4h.8v.8h-.8zM138.9 427.5h.8v.8h-.8zM145.8 409.3h.8v.8h-.8zM132.1 429.5h.8v.8h-.8zM145.6 410.1h.8v.8h-.8zM133.9 421.2h.8v.8h-.8zM144.2 422.2h.8v.8h-.8zM149.4 417.2h.8v.8h-.8zM150.2 407.7h.8v.8h-.8zM144.8 420.9h.8v.8h-.8zM130.2 431.1h.8v.8h-.8zM137.6 428.6h.8v.8h-.8zM128.7 427.4h.8v.8h-.8zM144.1 422.5h.8v.8h-.8zM154.0 406.7h.8v.8h-.8zM149.3 409.3h.8v.8h-.8zM131.9 422.3h.8v.8h-.8zM148.0 418.6h.8v.8h-.8zM151.3 408.4h.8v.8h-.8zM128.5 432.0h.8v.8h-.8zM140.9 425.1h.8v.8h-.8zM131.0 429.6h.8v.8h-.8zM147.0 419.0h.8v.8h-.8zM131.6 430.9h.8v.8h-.8zM151.2 410.3h.8v.8h-.8zM140.2 413.4h.8v.8h-.8zM151.8 413.1h.8v.8h-.8zM148.7 407.7h.8v.8h-.8zM127.8 430.3h.8v.8h-.8zM139.7 426.1h.8v.8h-.8zM139.5 415.7h.8v.8h-.8zM144.0 411.2h.8v.8h-.8zM127.7 432.3h.8v.8h-.8zM153.0 408.8h.8v.8h-.8zM139.6 427.4h.8v.8h-.8zM130.8 429.9h.8v.8h-.8zM128.0 428.0h.8v.8h-.8zM147.7 409.8h.8v.8h-.8zM138.1 416.8h.8v.8h-.8zM147.1 419.7h.8v.8h-.8zM130.5 424.7h.8v.8h-.8zM142.8 412.6h.8v.8h-.8zM147.2 409.5h.8v.8h-.8zM135.1 420.1h.8v.8h-.8zM139.6 426.0h.8v.8h-.8zM136.9 429.2h.8v.8h-.8zM136.5 429.3h.8v.8h-.8zM136.4 428.5h.8v.8h-.8zM139.2 415.5h.8v.8h-.8zM131.7 423.9h.8v.8h-.8zM153.2 410.2h.8v.8h-.8zM143.7 423.5h.8v.8h-.8zM152.7 410.3h.8v.8h-.8zM151.5 412.0h.8v.8h-.8zM151.9 409.5h.8v.8h-.8zM136.9 428.5h.8v.8h-.8zM150.9 409.0h.8v.8h-.8zM143.3 423.6h.8v.8h-.8zM138.9 415.4h.8v.8h-.8zM139.0 415.5h.8v.8h-.8zM151.2 409.5h.8v.8h-.8zM134.2 421.2h.8v.8h-.8zM153.7 407.1h.8v.8h-.8zM137.4 417.1h.8v.8h-.8zM128.9 432.0h.8v.8h-.8zM133.4 429.7h.8v.8h-.8zM129.1 427.8h.8v.8h-.8zM136.9 428.5h.8v.8h-.8zM136.8 429.2h.8v.8h-.8zM135.3 429.1h.8v.8h-.8zM151.3 409.1h.8v.8h-.8zM139.1 415.7h.8v.8h-.8zM131.1 426.0h.8v.8h-.8zM150.2 407.3h.8v.8h-.8zM153.6 409.7h.8v.8h-.8zM149.5 417.5h.8v.8h-.8zM152.1 408.1h.8v.8h-.8zM132.2 422.5h.8v.8h-.8zM134.2 421.1h.8v.8h-.8zM153.2 410.5h.8v.8h-.8zM149.3 407.6h.8v.8h-.8zM137.4 428.7h.8v.8h-.8zM137.5 417.3h.8v.8h-.8zM151.7 406.6h.8v.8h-.8zM146.9 409.5h.8v.8h-.8zM141.5 425.2h.8v.8h-.8zM133.6 421.1h.8v.8h-.8zM131.6 424.4h.8v.8h-.8zM146.0 410.4h.8v.8h-.8zM144.9 421.2h.8v.8h-.8zM144.0 411.0h.8v.8h-.8zM137.5 416.9h.8v.8h-.8zM151.4 414.5h.8v.8h-.8zM131.7 430.1h.8v.8h-.8zM151.0 413.4h.8v.8h-.8zM130.4 430.4h.8v.8h-.8zM152.4 406.9h.8v.8h-.8zM142.4 412.0h.8v.8h-.8zM152.9 407.9h.8v.8h-.8zM152.7 411.7h.8v.8h-.8zM127.8 428.9h.8v.8h-.8zM129.4 427.6h.8v.8h-.8zM141.2 412.6h.8v.8h-.8zM151.4 411.3h.8v.8h-.8zM145.1 410.9h.8v.8h-.8zM143.7 412.3h.8v.8h-.8zM133.5 421.0h.8v.8h-.8zM142.5 412.6h.8v.8h-.8zM129.5 429.8h.8v.8h-.8zM131.4 423.5h.8v.8h-.8zM128.7 426.7h.8v.8h-.8zM150.5 408.0h.8v.8h-.8zM132.9 429.8h.8v.8h-.8zM152.6 413.0h.8v.8h-.8zM152.9 411.3h.8v.8h-.8zM146.4 420.3h.8v.8h-.8zM133.7 429.3h.8v.8h-.8zM149.9 414.9h.8v.8h-.8zM148.1 409.1h.8v.8h-.8zM128.3 428.7h.8v.8h-.8zM152.8 408.5h.8v.8h-.8zM150.7 408.8h.8v.8h-.8zM129.8 428.9h.8v.8h-.8zM142.3 412.5h.8v.8h-.8zM151.7 411.6h.8v.8h-.8zM153.6 411.2h.8v.8h-.8zM135.2 429.7h.8v.8h-.8zM149.3 415.9h.8v.8h-.8zM129.4 429.5h.8v.8h-.8zM146.1 409.2h.8v.8h-.8zM134.9 430.2h.8v.8h-.8zM135.4 429.7h.8v.8h-.8zM129.9 424.7h.8v.8h-.8zM149.4 409.6h.8v.8h-.8zM154.1 407.0h.8v.8h-.8zM142.3 424.7h.8v.8h-.8zM144.2 411.1h.8v.8h-.8zM131.5 431.6h.8v.8h-.8zM129.0 427.6h.8v.8h-.8zM148.2 409.2h.8v.8h-.8zM129.2 429.0h.8v.8h-.8zM153.8 410.3h.8v.8h-.8zM150.2 408.3h.8v.8h-.8zM138.4 426.8h.8v.8h-.8zM139.8 415.4h.8v.8h-.8zM150.1 407.8h.8v.8h-.8zM148.0 409.0h.8v.8h-.8zM138.1 427.5h.8v.8h-.8zM151.7 414.2h.8v.8h-.8zM153.4 409.6h.8v.8h-.8zM141.6 412.9h.8v.8h-.8zM130.7 425.0h.8v.8h-.8zM135.9 418.3h.8v.8h-.8zM146.1 420.7h.8v.8h-.8zM135.8 419.3h.8v.8h-.8zM140.4 414.4h.8v.8h-.8zM152.7 409.6h.8v.8h-.8zM136.5 417.8h.8v.8h-.8zM130.6 427.4h.8v.8h-.8zM132.0 431.6h.8v.8h-.8zM133.6 430.3h.8v.8h-.8zM134.6 420.6h.8v.8h-.8zM137.9 415.5h.8v.8h-.8zM148.1 409.4h.8v.8h-.8zM131.9 424.1h.8v.8h-.8zM140.4 426.0h.8v.8h-.8zM130.0 430.4h.8v.8h-.8zM133.9 430.7h.8v.8h-.8zM133.3 422.2h.8v.8h-.8zM138.5 427.2h.8v.8h-.8zM127.4 431.8h.8v.8h-.8zM138.6 427.6h.8v.8h-.8zM131.9 423.9h.8v.8h-.8zM149.0 417.3h.8v.8h-.8zM139.4 426.9h.8v.8h-.8zM151.1 410.0h.8v.8h-.8zM129.6 432.7h.8v.8h-.8zM140.3 425.6h.8v.8h-.8zM145.9 420.2h.8v.8h-.8zM140.0 425.2h.8v.8h-.8zM129.9 430.5h.8v.8h-.8zM137.8 427.0h.8v.8h-.8zM151.5 412.1h.8v.8h-.8zM135.9 428.8h.8v.8h-.8zM129.5 425.7h.8v.8h-.8zM140.1 414.8h.8v.8h-.8zM129.8 432.5h.8v.8h-.8zM147.1 410.4h.8v.8h-.8zM142.8 411.5h.8v.8h-.8zM142.0 412.9h.8v.8h-.8zM131.6 429.8h.8v.8h-.8zM145.5 421.8h.8v.8h-.8z" fill="#5a84c4" opacity="0.8"/>
<rect x="111.00" y="386.20" width="56.60" height="56.60" fill="#fff" opacity="0.4" filter="url(#sp1)"/>
</g>
<rect x="111.00" y="386.20" width="56.60" height="56.60" fill="none" stroke="#000" stroke-width="1.2"/>
<line x1="117.50" y1="438.00" x2="163.30" y2="393.30" stroke="#333" stroke-width="0.7" />
<text x="139.30" y="394.60" font-size="5.6" text-anchor="middle" font-weight="bold" fill="#000" >0.37</text>
<line x1="108.40" y1="392.50" x2="111.00" y2="392.50" stroke="#000" stroke-width="0.9" />
<text x="107.40" y="394.70" font-size="6.6" text-anchor="end" fill="#111">10<tspan font-size="4.6" dy="-2.8">4</tspan></text>
<line x1="108.40" y1="424.60" x2="111.00" y2="424.60" stroke="#000" stroke-width="0.9" />
<text x="107.40" y="426.80" font-size="6.6" text-anchor="end" fill="#111">10<tspan font-size="4.6" dy="-2.8">3</tspan></text>
<line x1="127.00" y1="442.80" x2="127.00" y2="445.40" stroke="#000" stroke-width="0.9" />
<text x="127.00" y="453.4" font-size="6.6" text-anchor="middle" fill="#111">10<tspan font-size="4.6" dy="-2.8">3</tspan></text>
<line x1="153.40" y1="442.80" x2="153.40" y2="445.40" stroke="#000" stroke-width="0.9" />
<text x="153.40" y="453.4" font-size="6.6" text-anchor="middle" fill="#111">10<tspan font-size="4.6" dy="-2.8">4</tspan></text>
<line x1="134.95" y1="442.80" x2="134.95" y2="444.20" stroke="#000" stroke-width="0.5" />
<line x1="161.35" y1="442.80" x2="161.35" y2="444.20" stroke="#000" stroke-width="0.5" />
<line x1="109.60" y1="414.94" x2="111.00" y2="414.94" stroke="#000" stroke-width="0.5" />
<line x1="113.20" y1="442.80" x2="113.20" y2="444.20" stroke="#000" stroke-width="0.5" />
<line x1="139.60" y1="442.80" x2="139.60" y2="444.20" stroke="#000" stroke-width="0.5" />
<line x1="166.00" y1="442.80" x2="166.00" y2="444.20" stroke="#000" stroke-width="0.5" />
<line x1="109.60" y1="441.38" x2="111.00" y2="441.38" stroke="#000" stroke-width="0.5" />
<line x1="109.60" y1="409.28" x2="111.00" y2="409.28" stroke="#000" stroke-width="0.5" />
<line x1="116.49" y1="442.80" x2="116.49" y2="444.20" stroke="#000" stroke-width="0.5" />
<line x1="142.89" y1="442.80" x2="142.89" y2="444.20" stroke="#000" stroke-width="0.5" />
<line x1="109.60" y1="437.37" x2="111.00" y2="437.37" stroke="#000" stroke-width="0.5" />
<line x1="109.60" y1="405.27" x2="111.00" y2="405.27" stroke="#000" stroke-width="0.5" />
<line x1="119.05" y1="442.80" x2="119.05" y2="444.20" stroke="#000" stroke-width="0.5" />
<line x1="145.45" y1="442.80" x2="145.45" y2="444.20" stroke="#000" stroke-width="0.5" />
<line x1="109.60" y1="434.26" x2="111.00" y2="434.26" stroke="#000" stroke-width="0.5" />
<line x1="109.60" y1="402.16" x2="111.00" y2="402.16" stroke="#000" stroke-width="0.5" />
<line x1="121.14" y1="442.80" x2="121.14" y2="444.20" stroke="#000" stroke-width="0.5" />
<line x1="147.54" y1="442.80" x2="147.54" y2="444.20" stroke="#000" stroke-width="0.5" />
<line x1="109.60" y1="431.72" x2="111.00" y2="431.72" stroke="#000" stroke-width="0.5" />
<line x1="109.60" y1="399.62" x2="111.00" y2="399.62" stroke="#000" stroke-width="0.5" />
<line x1="122.91" y1="442.80" x2="122.91" y2="444.20" stroke="#000" stroke-width="0.5" />
<line x1="149.31" y1="442.80" x2="149.31" y2="444.20" stroke="#000" stroke-width="0.5" />
<line x1="109.60" y1="429.57" x2="111.00" y2="429.57" stroke="#000" stroke-width="0.5" />
<line x1="109.60" y1="397.47" x2="111.00" y2="397.47" stroke="#000" stroke-width="0.5" />
<line x1="124.44" y1="442.80" x2="124.44" y2="444.20" stroke="#000" stroke-width="0.5" />
<line x1="150.84" y1="442.80" x2="150.84" y2="444.20" stroke="#000" stroke-width="0.5" />
<line x1="109.60" y1="427.71" x2="111.00" y2="427.71" stroke="#000" stroke-width="0.5" />
<line x1="109.60" y1="395.61" x2="111.00" y2="395.61" stroke="#000" stroke-width="0.5" />
<line x1="125.79" y1="442.80" x2="125.79" y2="444.20" stroke="#000" stroke-width="0.5" />
<line x1="152.19" y1="442.80" x2="152.19" y2="444.20" stroke="#000" stroke-width="0.5" />
<line x1="109.60" y1="426.07" x2="111.00" y2="426.07" stroke="#000" stroke-width="0.5" />
<line x1="109.60" y1="393.97" x2="111.00" y2="393.97" stroke="#000" stroke-width="0.5" />
<text x="214.70" y="381.80" font-size="6.5" text-anchor="middle" fill="#111" >Oxamate</text>
<rect x="186.40" y="386.20" width="56.60" height="56.60" fill="#fff"/>
<g clip-path="url(#gc159)">
<ellipse cx="0" cy="0" rx="32.40" ry="15.60" fill="url(#g160)" transform="translate(208.90,409.70) rotate(-58)"/>
<ellipse cx="0" cy="0" rx="20.25" ry="8.12" fill="url(#g161)" transform="translate(208.90,409.70) rotate(-58)"/>
<ellipse cx="0" cy="0" rx="11.47" ry="4.88" fill="url(#g162)" transform="translate(208.90,409.70) rotate(-58)"/>
<path d="M203.0 427.7h.8v.8h-.8zM215.3 391.7h.8v.8h-.8zM200.4 430.2h.8v.8h-.8zM192.0 419.5h.8v.8h-.8zM214.6 422.8h.8v.8h-.8zM218.9 388.6h.8v.8h-.8zM193.0 426.2h.8v.8h-.8zM189.2 420.8h.8v.8h-.8zM207.6 425.4h.8v.8h-.8zM215.6 420.2h.8v.8h-.8zM203.6 399.6h.8v.8h-.8zM210.2 424.1h.8v.8h-.8zM198.9 432.6h.8v.8h-.8zM211.5 391.1h.8v.8h-.8zM219.3 389.7h.8v.8h-.8zM209.4 429.2h.8v.8h-.8zM192.7 421.5h.8v.8h-.8zM193.3 426.3h.8v.8h-.8zM228.6 389.0h.8v.8h-.8zM188.6 431.9h.8v.8h-.8zM196.0 410.1h.8v.8h-.8zM203.6 433.7h.8v.8h-.8zM198.6 407.0h.8v.8h-.8zM214.9 387.7h.8v.8h-.8zM197.2 429.0h.8v.8h-.8zM197.2 403.7h.8v.8h-.8zM219.9 392.4h.8v.8h-.8zM195.1 426.8h.8v.8h-.8zM212.9 392.0h.8v.8h-.8zM209.6 425.2h.8v.8h-.8zM214.2 422.1h.8v.8h-.8zM202.2 390.0h.8v.8h-.8zM223.9 390.8h.8v.8h-.8zM218.0 416.6h.8v.8h-.8zM226.4 391.3h.8v.8h-.8zM224.4 409.7h.8v.8h-.8zM222.6 404.3h.8v.8h-.8zM207.7 394.0h.8v.8h-.8zM199.7 398.6h.8v.8h-.8zM191.6 414.4h.8v.8h-.8zM212.9 390.9h.8v.8h-.8zM210.9 388.0h.8v.8h-.8zM219.4 390.1h.8v.8h-.8zM221.8 408.4h.8v.8h-.8zM199.2 432.8h.8v.8h-.8zM204.3 397.3h.8v.8h-.8zM201.9 431.3h.8v.8h-.8zM226.2 393.6h.8v.8h-.8zM217.7 425.7h.8v.8h-.8zM209.2 424.9h.8v.8h-.8zM225.0 393.0h.8v.8h-.8zM211.6 393.5h.8v.8h-.8zM214.2 427.3h.8v.8h-.8zM192.7 427.6h.8v.8h-.8zM190.3 425.9h.8v.8h-.8zM196.9 412.3h.8v.8h-.8zM190.9 426.6h.8v.8h-.8zM217.5 429.1h.8v.8h-.8zM212.8 390.4h.8v.8h-.8zM237.0 393.4h.8v.8h-.8zM223.1 400.7h.8v.8h-.8zM192.7 405.8h.8v.8h-.8zM227.7 405.1h.8v.8h-.8zM218.0 413.8h.8v.8h-.8zM221.8 424.2h.8v.8h-.8zM217.9 426.7h.8v.8h-.8zM209.6 428.0h.8v.8h-.8zM201.3 401.1h.8v.8h-.8zM224.4 391.5h.8v.8h-.8zM192.2 416.4h.8v.8h-.8zM225.6 414.2h.8v.8h-.8zM190.7 437.5h.8v.8h-.8zM206.4 391.5h.8v.8h-.8zM211.1 389.4h.8v.8h-.8zM225.0 406.5h.8v.8h-.8zM198.5 395.0h.8v.8h-.8zM220.6 414.1h.8v.8h-.8zM208.0 430.2h.8v.8h-.8zM229.2 403.4h.8v.8h-.8zM196.0 411.5h.8v.8h-.8zM213.8 425.8h.8v.8h-.8zM209.7 388.3h.8v.8h-.8zM213.8 420.9h.8v.8h-.8zM211.0 390.1h.8v.8h-.8zM215.6 388.9h.8v.8h-.8zM213.4 391.7h.8v.8h-.8zM211.6 428.9h.8v.8h-.8zM198.9 402.0h.8v.8h-.8zM216.3 420.9h.8v.8h-.8zM199.3 429.1h.8v.8h-.8zM222.5 402.5h.8v.8h-.8zM231.4 388.9h.8v.8h-.8zM196.2 430.3h.8v.8h-.8zM190.5 421.8h.8v.8h-.8zM210.5 393.7h.8v.8h-.8zM221.6 419.9h.8v.8h-.8zM229.7 391.8h.8v.8h-.8zM222.5 397.2h.8v.8h-.8zM226.1 402.6h.8v.8h-.8zM190.9 420.5h.8v.8h-.8zM201.9 399.0h.8v.8h-.8zM203.1 396.2h.8v.8h-.8zM200.8 435.8h.8v.8h-.8zM221.8 395.5h.8v.8h-.8zM204.6 388.4h.8v.8h-.8zM192.7 416.1h.8v.8h-.8zM211.3 423.8h.8v.8h-.8zM187.3 423.6h.8v.8h-.8zM218.8 389.2h.8v.8h-.8zM221.5 392.9h.8v.8h-.8zM200.2 427.6h.8v.8h-.8zM199.1 399.7h.8v.8h-.8zM225.6 400.3h.8v.8h-.8zM200.8 401.7h.8v.8h-.8zM196.0 409.7h.8v.8h-.8zM193.1 416.5h.8v.8h-.8zM201.5 432.6h.8v.8h-.8zM202.1 397.8h.8v.8h-.8zM200.1 430.9h.8v.8h-.8zM199.3 405.1h.8v.8h-.8zM218.4 413.5h.8v.8h-.8zM194.0 425.8h.8v.8h-.8zM205.9 395.2h.8v.8h-.8zM211.4 390.6h.8v.8h-.8zM194.5 405.0h.8v.8h-.8zM218.2 415.6h.8v.8h-.8zM188.9 429.5h.8v.8h-.8zM220.3 412.8h.8v.8h-.8zM188.3 417.6h.8v.8h-.8zM209.9 387.2h.8v.8h-.8zM228.6 390.9h.8v.8h-.8zM218.3 390.2h.8v.8h-.8zM197.7 427.4h.8v.8h-.8zM204.7 398.7h.8v.8h-.8zM204.6 397.0h.8v.8h-.8zM206.6 432.1h.8v.8h-.8zM195.8 439.7h.8v.8h-.8zM211.8 387.5h.8v.8h-.8zM220.8 412.9h.8v.8h-.8zM220.9 411.6h.8v.8h-.8zM195.8 412.0h.8v.8h-.8zM192.9 423.3h.8v.8h-.8zM191.5 421.4h.8v.8h-.8zM193.4 430.1h.8v.8h-.8zM214.8 421.1h.8v.8h-.8zM203.8 431.9h.8v.8h-.8zM221.5 390.2h.8v.8h-.8zM223.2 398.8h.8v.8h-.8zM223.8 404.3h.8v.8h-.8zM217.6 390.3h.8v.8h-.8zM196.2 425.1h.8v.8h-.8zM200.0 435.9h.8v.8h-.8zM223.8 400.3h.8v.8h-.8zM217.4 418.6h.8v.8h-.8zM195.7 410.1h.8v.8h-.8zM204.1 430.6h.8v.8h-.8zM224.8 406.0h.8v.8h-.8zM216.8 419.2h.8v.8h-.8zM209.6 427.5h.8v.8h-.8zM222.6 397.0h.8v.8h-.8zM195.9 429.7h.8v.8h-.8zM219.8 389.9h.8v.8h-.8zM231.6 396.1h.8v.8h-.8zM227.3 396.3h.8v.8h-.8zM214.9 423.0h.8v.8h-.8zM199.5 400.7h.8v.8h-.8zM227.7 399.8h.8v.8h-.8zM221.6 391.3h.8v.8h-.8zM216.6 389.3h.8v.8h-.8zM231.3 393.6h.8v.8h-.8zM195.0 400.9h.8v.8h-.8zM192.0 427.6h.8v.8h-.8zM205.1 396.2h.8v.8h-.8zM187.4 415.8h.8v.8h-.8zM195.5 421.1h.8v.8h-.8zM197.4 410.5h.8v.8h-.8zM196.3 406.5h.8v.8h-.8zM188.7 430.9h.8v.8h-.8zM224.3 413.9h.8v.8h-.8zM187.6 430.0h.8v.8h-.8zM192.1 399.4h.8v.8h-.8zM199.1 428.6h.8v.8h-.8zM209.8 387.3h.8v.8h-.8zM194.3 417.0h.8v.8h-.8zM195.2 414.2h.8v.8h-.8zM201.3 397.5h.8v.8h-.8zM222.6 410.8h.8v.8h-.8zM215.8 425.2h.8v.8h-.8zM222.5 390.4h.8v.8h-.8zM231.8 408.1h.8v.8h-.8zM209.0 425.5h.8v.8h-.8zM187.4 431.8h.8v.8h-.8zM207.8 425.8h.8v.8h-.8zM200.7 430.0h.8v.8h-.8zM193.5 409.0h.8v.8h-.8zM213.6 424.2h.8v.8h-.8zM188.1 415.4h.8v.8h-.8zM230.3 398.3h.8v.8h-.8zM215.6 422.1h.8v.8h-.8zM225.3 410.1h.8v.8h-.8zM219.0 414.2h.8v.8h-.8zM207.6 390.9h.8v.8h-.8zM192.9 429.3h.8v.8h-.8zM197.3 430.0h.8v.8h-.8zM224.9 401.5h.8v.8h-.8zM194.1 405.6h.8v.8h-.8zM211.5 422.5h.8v.8h-.8zM221.7 408.7h.8v.8h-.8zM198.3 431.2h.8v.8h-.8zM224.9 397.2h.8v.8h-.8zM190.4 405.5h.8v.8h-.8zM220.2 411.6h.8v.8h-.8zM195.6 410.4h.8v.8h-.8zM194.6 430.6h.8v.8h-.8zM189.3 420.1h.8v.8h-.8zM200.6 432.4h.8v.8h-.8zM194.5 414.5h.8v.8h-.8zM220.1 392.5h.8v.8h-.8zM227.2 394.3h.8v.8h-.8zM197.5 410.8h.8v.8h-.8zM223.2 392.7h.8v.8h-.8zM224.1 387.6h.8v.8h-.8zM217.0 417.2h.8v.8h-.8zM228.3 399.9h.8v.8h-.8zM226.2 401.8h.8v.8h-.8zM197.4 406.2h.8v.8h-.8zM212.3 387.3h.8v.8h-.8zM189.0 416.5h.8v.8h-.8zM203.1 432.5h.8v.8h-.8zM223.9 424.2h.8v.8h-.8zM193.8 441.2h.8v.8h-.8zM200.0 438.6h.8v.8h-.8zM227.5 389.0h.8v.8h-.8zM197.1 403.6h.8v.8h-.8zM200.4 402.2h.8v.8h-.8zM222.5 388.2h.8v.8h-.8zM193.2 428.7h.8v.8h-.8zM216.5 417.5h.8v.8h-.8zM199.6 434.1h.8v.8h-.8zM202.2 395.1h.8v.8h-.8zM197.4 403.6h.8v.8h-.8zM228.5 399.7h.8v.8h-.8zM217.4 414.4h.8v.8h-.8zM212.3 393.0h.8v.8h-.8zM188.9 433.0h.8v.8h-.8zM212.6 390.1h.8v.8h-.8zM196.1 426.7h.8v.8h-.8zM197.7 436.5h.8v.8h-.8zM207.8 427.7h.8v.8h-.8zM199.8 403.6h.8v.8h-.8zM210.2 429.8h.8v.8h-.8zM217.1 415.6h.8v.8h-.8zM222.9 395.9h.8v.8h-.8zM197.3 404.8h.8v.8h-.8zM190.9 413.3h.8v.8h-.8zM197.9 409.7h.8v.8h-.8zM230.2 390.3h.8v.8h-.8zM217.2 417.2h.8v.8h-.8zM222.3 405.9h.8v.8h-.8zM193.5 404.1h.8v.8h-.8zM226.6 395.6h.8v.8h-.8zM211.8 391.0h.8v.8h-.8zM223.7 408.2h.8v.8h-.8zM226.2 403.3h.8v.8h-.8zM221.5 413.6h.8v.8h-.8zM225.2 414.0h.8v.8h-.8zM193.1 423.5h.8v.8h-.8zM216.4 424.6h.8v.8h-.8zM192.6 411.3h.8v.8h-.8zM217.4 389.7h.8v.8h-.8zM216.0 416.8h.8v.8h-.8zM202.9 398.6h.8v.8h-.8zM221.2 406.7h.8v.8h-.8zM208.1 389.3h.8v.8h-.8zM207.5 435.0h.8v.8h-.8zM191.0 434.9h.8v.8h-.8zM203.5 427.4h.8v.8h-.8zM203.0 431.2h.8v.8h-.8zM223.4 389.4h.8v.8h-.8zM202.1 401.2h.8v.8h-.8zM202.0 396.8h.8v.8h-.8zM206.8 426.8h.8v.8h-.8zM207.8 425.1h.8v.8h-.8zM229.5 398.6h.8v.8h-.8zM215.6 388.4h.8v.8h-.8zM202.0 395.2h.8v.8h-.8zM225.3 406.6h.8v.8h-.8zM208.8 424.8h.8v.8h-.8zM196.2 434.1h.8v.8h-.8zM223.0 400.0h.8v.8h-.8zM215.2 388.4h.8v.8h-.8zM236.0 400.2h.8v.8h-.8zM215.1 418.5h.8v.8h-.8zM199.9 400.7h.8v.8h-.8zM201.6 400.4h.8v.8h-.8zM215.0 420.8h.8v.8h-.8zM194.6 412.4h.8v.8h-.8zM195.1 430.8h.8v.8h-.8zM216.2 389.0h.8v.8h-.8zM195.1 417.9h.8v.8h-.8zM192.1 407.1h.8v.8h-.8zM201.7 397.9h.8v.8h-.8zM220.7 411.6h.8v.8h-.8zM206.2 390.5h.8v.8h-.8zM200.9 434.5h.8v.8h-.8zM193.8 403.5h.8v.8h-.8zM205.0 432.9h.8v.8h-.8zM193.0 411.3h.8v.8h-.8zM229.8 387.7h.8v.8h-.8zM198.4 404.3h.8v.8h-.8zM197.0 431.4h.8v.8h-.8zM222.6 405.9h.8v.8h-.8zM208.0 437.9h.8v.8h-.8zM226.0 387.6h.8v.8h-.8zM210.8 389.9h.8v.8h-.8zM206.8 431.8h.8v.8h-.8zM195.4 404.3h.8v.8h-.8zM212.2 389.1h.8v.8h-.8zM200.1 434.4h.8v.8h-.8zM195.6 427.4h.8v.8h-.8zM228.5 403.2h.8v.8h-.8zM214.8 392.1h.8v.8h-.8zM195.0 424.6h.8v.8h-.8zM220.4 411.1h.8v.8h-.8zM217.7 391.8h.8v.8h-.8zM199.7 438.0h.8v.8h-.8zM197.6 437.9h.8v.8h-.8zM204.3 399.3h.8v.8h-.8zM224.9 394.3h.8v.8h-.8zM206.8 395.0h.8v.8h-.8zM227.8 391.7h.8v.8h-.8zM209.3 428.5h.8v.8h-.8zM208.7 388.8h.8v.8h-.8zM210.2 423.8h.8v.8h-.8zM225.4 396.4h.8v.8h-.8zM195.7 439.2h.8v.8h-.8zM195.9 412.9h.8v.8h-.8zM190.2 404.0h.8v.8h-.8zM197.1 405.4h.8v.8h-.8zM192.7 433.2h.8v.8h-.8zM214.0 419.6h.8v.8h-.8zM196.9 426.7h.8v.8h-.8zM192.5 411.4h.8v.8h-.8zM222.9 398.1h.8v.8h-.8zM207.0 390.6h.8v.8h-.8zM195.4 407.5h.8v.8h-.8zM221.1 415.9h.8v.8h-.8zM223.5 400.8h.8v.8h-.8zM194.5 416.7h.8v.8h-.8zM228.9 388.9h.8v.8h-.8zM190.2 439.9h.8v.8h-.8zM192.2 405.6h.8v.8h-.8zM221.9 394.8h.8v.8h-.8zM229.2 398.4h.8v.8h-.8zM219.5 412.0h.8v.8h-.8zM201.2 430.3h.8v.8h-.8zM207.3 393.2h.8v.8h-.8zM224.9 389.0h.8v.8h-.8zM227.7 411.2h.8v.8h-.8zM224.8 406.0h.8v.8h-.8zM207.7 426.1h.8v.8h-.8zM191.4 413.9h.8v.8h-.8zM209.5 387.5h.8v.8h-.8zM216.9 391.4h.8v.8h-.8zM193.0 424.5h.8v.8h-.8zM190.6 406.2h.8v.8h-.8zM215.4 418.5h.8v.8h-.8zM208.7 394.0h.8v.8h-.8zM221.5 408.3h.8v.8h-.8zM223.1 413.6h.8v.8h-.8zM232.0 395.8h.8v.8h-.8zM222.2 401.8h.8v.8h-.8zM200.8 435.1h.8v.8h-.8zM195.3 406.5h.8v.8h-.8zM203.2 400.0h.8v.8h-.8zM196.8 432.7h.8v.8h-.8zM194.0 410.7h.8v.8h-.8zM201.5 402.5h.8v.8h-.8zM202.6 390.8h.8v.8h-.8zM209.9 423.4h.8v.8h-.8zM220.4 392.4h.8v.8h-.8zM201.9 400.3h.8v.8h-.8zM206.0 396.1h.8v.8h-.8zM206.6 427.7h.8v.8h-.8zM226.9 396.4h.8v.8h-.8zM217.9 413.4h.8v.8h-.8zM194.5 403.3h.8v.8h-.8zM192.0 415.5h.8v.8h-.8zM213.2 426.2h.8v.8h-.8zM191.7 422.5h.8v.8h-.8zM218.3 415.0h.8v.8h-.8zM196.4 440.4h.8v.8h-.8zM215.8 427.6h.8v.8h-.8zM228.2 397.3h.8v.8h-.8zM204.8 395.8h.8v.8h-.8zM192.5 410.3h.8v.8h-.8zM207.6 390.2h.8v.8h-.8zM201.8 402.9h.8v.8h-.8zM216.9 415.5h.8v.8h-.8zM215.6 422.6h.8v.8h-.8zM218.7 416.9h.8v.8h-.8zM198.8 407.4h.8v.8h-.8zM199.7 428.3h.8v.8h-.8zM205.8 392.1h.8v.8h-.8zM235.9 398.3h.8v.8h-.8zM193.7 415.8h.8v.8h-.8zM188.7 440.4h.8v.8h-.8zM229.1 391.5h.8v.8h-.8zM224.6 399.6h.8v.8h-.8zM222.3 398.4h.8v.8h-.8zM217.0 422.7h.8v.8h-.8zM221.3 409.3h.8v.8h-.8zM190.3 433.3h.8v.8h-.8zM235.3 408.5h.8v.8h-.8zM216.8 417.0h.8v.8h-.8zM196.2 404.0h.8v.8h-.8zM223.2 404.0h.8v.8h-.8zM202.9 428.2h.8v.8h-.8zM197.2 403.3h.8v.8h-.8zM219.8 387.2h.8v.8h-.8zM225.0 409.8h.8v.8h-.8zM194.1 402.2h.8v.8h-.8zM213.0 387.7h.8v.8h-.8zM193.7 400.1h.8v.8h-.8zM224.7 405.0h.8v.8h-.8zM203.4 428.6h.8v.8h-.8zM194.4 413.1h.8v.8h-.8zM219.6 416.5h.8v.8h-.8zM192.7 402.1h.8v.8h-.8zM196.5 411.7h.8v.8h-.8zM223.6 400.0h.8v.8h-.8zM204.3 430.8h.8v.8h-.8zM219.7 412.3h.8v.8h-.8zM199.4 406.5h.8v.8h-.8zM212.3 387.1h.8v.8h-.8zM188.4 420.0h.8v.8h-.8zM235.2 395.8h.8v.8h-.8zM213.1 388.4h.8v.8h-.8zM224.8 408.8h.8v.8h-.8zM198.6 396.6h.8v.8h-.8zM213.0 392.3h.8v.8h-.8zM208.5 394.4h.8v.8h-.8zM222.4 401.9h.8v.8h-.8zM213.0 420.7h.8v.8h-.8zM195.4 434.8h.8v.8h-.8zM198.0 428.4h.8v.8h-.8z" fill="#93a8d6" opacity="0.55"/>
<path d="M198.0 416.1h.8v.8h-.8zM199.9 409.8h.8v.8h-.8zM201.3 422.9h.8v.8h-.8zM219.1 406.8h.8v.8h-.8zM206.7 400.9h.8v.8h-.8zM210.4 422.0h.8v.8h-.8zM197.5 423.8h.8v.8h-.8zM201.5 404.4h.8v.8h-.8zM219.3 405.8h.8v.8h-.8zM216.0 396.3h.8v.8h-.8zM197.0 412.5h.8v.8h-.8zM197.5 418.2h.8v.8h-.8zM215.1 396.0h.8v.8h-.8zM201.8 422.7h.8v.8h-.8zM201.9 403.7h.8v.8h-.8zM198.0 410.1h.8v.8h-.8zM209.9 397.1h.8v.8h-.8zM218.0 407.9h.8v.8h-.8zM213.0 420.0h.8v.8h-.8zM210.8 396.0h.8v.8h-.8zM199.0 415.6h.8v.8h-.8zM219.6 408.6h.8v.8h-.8zM211.5 396.3h.8v.8h-.8zM209.4 420.0h.8v.8h-.8zM203.8 424.7h.8v.8h-.8zM217.6 396.5h.8v.8h-.8zM217.6 410.7h.8v.8h-.8zM204.7 424.3h.8v.8h-.8zM208.0 397.3h.8v.8h-.8zM202.1 407.1h.8v.8h-.8zM207.8 424.7h.8v.8h-.8zM198.8 420.9h.8v.8h-.8zM213.2 396.1h.8v.8h-.8zM216.7 395.5h.8v.8h-.8zM218.7 411.7h.8v.8h-.8zM209.2 422.0h.8v.8h-.8zM221.0 405.7h.8v.8h-.8zM219.8 409.5h.8v.8h-.8zM211.0 394.2h.8v.8h-.8zM201.1 404.5h.8v.8h-.8zM197.7 413.0h.8v.8h-.8zM221.1 397.8h.8v.8h-.8zM221.3 398.9h.8v.8h-.8zM197.8 423.3h.8v.8h-.8zM207.6 422.5h.8v.8h-.8zM208.3 423.1h.8v.8h-.8zM200.3 426.8h.8v.8h-.8zM197.2 412.5h.8v.8h-.8zM206.4 398.4h.8v.8h-.8zM196.7 418.9h.8v.8h-.8zM213.5 419.3h.8v.8h-.8zM201.2 405.1h.8v.8h-.8zM216.8 412.1h.8v.8h-.8zM198.4 418.5h.8v.8h-.8zM197.2 423.0h.8v.8h-.8zM208.0 399.3h.8v.8h-.8zM217.9 396.2h.8v.8h-.8zM198.7 421.0h.8v.8h-.8zM219.7 399.4h.8v.8h-.8zM218.8 403.9h.8v.8h-.8zM199.0 415.7h.8v.8h-.8zM214.1 394.6h.8v.8h-.8zM205.1 423.1h.8v.8h-.8zM199.2 413.9h.8v.8h-.8zM205.1 424.9h.8v.8h-.8zM198.9 411.3h.8v.8h-.8zM216.9 411.3h.8v.8h-.8zM201.6 425.2h.8v.8h-.8zM214.5 393.8h.8v.8h-.8zM215.3 395.1h.8v.8h-.8zM218.3 408.2h.8v.8h-.8zM220.1 408.8h.8v.8h-.8zM216.5 396.4h.8v.8h-.8zM200.8 426.7h.8v.8h-.8zM215.5 416.7h.8v.8h-.8zM201.5 405.3h.8v.8h-.8zM204.8 423.2h.8v.8h-.8zM198.8 410.3h.8v.8h-.8zM218.9 410.4h.8v.8h-.8zM202.1 403.9h.8v.8h-.8zM216.5 412.7h.8v.8h-.8zM198.7 410.0h.8v.8h-.8zM216.4 395.2h.8v.8h-.8zM211.1 418.9h.8v.8h-.8zM219.1 400.1h.8v.8h-.8zM199.9 423.5h.8v.8h-.8zM208.7 397.3h.8v.8h-.8zM218.9 403.5h.8v.8h-.8zM200.4 424.4h.8v.8h-.8zM219.8 399.6h.8v.8h-.8zM204.1 400.9h.8v.8h-.8zM200.1 425.6h.8v.8h-.8zM210.0 422.8h.8v.8h-.8zM199.0 419.2h.8v.8h-.8zM196.9 421.7h.8v.8h-.8zM198.4 417.5h.8v.8h-.8zM200.4 408.6h.8v.8h-.8zM211.1 394.2h.8v.8h-.8zM210.5 420.3h.8v.8h-.8zM205.6 422.5h.8v.8h-.8zM220.5 400.6h.8v.8h-.8zM200.6 405.1h.8v.8h-.8zM215.5 412.8h.8v.8h-.8zM198.2 422.8h.8v.8h-.8zM213.2 416.7h.8v.8h-.8zM201.0 405.8h.8v.8h-.8zM220.5 407.2h.8v.8h-.8zM216.6 392.4h.8v.8h-.8zM201.0 423.7h.8v.8h-.8zM219.7 401.7h.8v.8h-.8zM208.8 395.5h.8v.8h-.8zM196.7 418.0h.8v.8h-.8zM217.3 412.9h.8v.8h-.8zM218.9 410.8h.8v.8h-.8zM200.0 411.6h.8v.8h-.8zM212.0 417.6h.8v.8h-.8zM219.2 408.6h.8v.8h-.8zM202.6 425.4h.8v.8h-.8zM196.7 420.1h.8v.8h-.8zM207.8 397.7h.8v.8h-.8zM197.9 418.1h.8v.8h-.8zM211.7 418.8h.8v.8h-.8zM213.8 417.1h.8v.8h-.8zM213.9 393.6h.8v.8h-.8zM203.7 423.3h.8v.8h-.8zM209.9 398.0h.8v.8h-.8zM211.4 421.1h.8v.8h-.8zM213.7 416.9h.8v.8h-.8zM215.4 395.6h.8v.8h-.8zM196.3 415.0h.8v.8h-.8zM214.6 394.0h.8v.8h-.8zM196.3 416.7h.8v.8h-.8zM218.3 406.1h.8v.8h-.8zM217.0 394.2h.8v.8h-.8zM219.1 400.2h.8v.8h-.8zM206.2 401.2h.8v.8h-.8zM205.7 422.6h.8v.8h-.8zM203.8 403.5h.8v.8h-.8zM199.2 411.2h.8v.8h-.8zM207.6 400.0h.8v.8h-.8zM210.0 394.5h.8v.8h-.8zM216.2 413.3h.8v.8h-.8zM206.8 422.0h.8v.8h-.8zM205.9 400.6h.8v.8h-.8zM218.7 394.5h.8v.8h-.8zM218.8 399.3h.8v.8h-.8zM199.5 410.4h.8v.8h-.8zM215.2 396.3h.8v.8h-.8zM216.7 394.4h.8v.8h-.8zM218.6 405.1h.8v.8h-.8zM207.2 423.9h.8v.8h-.8zM202.1 422.7h.8v.8h-.8zM217.8 395.7h.8v.8h-.8zM213.2 418.4h.8v.8h-.8zM216.0 415.9h.8v.8h-.8zM196.5 420.1h.8v.8h-.8zM202.5 402.7h.8v.8h-.8zM198.7 410.1h.8v.8h-.8zM199.8 411.8h.8v.8h-.8zM215.3 415.1h.8v.8h-.8zM219.6 401.4h.8v.8h-.8zM199.3 425.2h.8v.8h-.8zM200.4 405.8h.8v.8h-.8zM205.2 424.6h.8v.8h-.8zM202.9 426.7h.8v.8h-.8zM201.4 403.7h.8v.8h-.8zM197.1 420.8h.8v.8h-.8zM217.5 412.5h.8v.8h-.8zM204.3 423.2h.8v.8h-.8zM200.6 422.1h.8v.8h-.8zM210.8 420.4h.8v.8h-.8zM218.9 399.0h.8v.8h-.8zM198.4 423.4h.8v.8h-.8zM207.0 399.9h.8v.8h-.8zM198.0 414.2h.8v.8h-.8zM218.2 397.9h.8v.8h-.8zM208.9 423.8h.8v.8h-.8zM200.9 426.3h.8v.8h-.8zM200.8 407.2h.8v.8h-.8zM213.0 396.8h.8v.8h-.8zM218.5 408.3h.8v.8h-.8zM219.9 401.8h.8v.8h-.8zM208.3 398.2h.8v.8h-.8zM214.6 416.5h.8v.8h-.8zM220.9 395.7h.8v.8h-.8zM209.3 396.9h.8v.8h-.8zM205.0 423.4h.8v.8h-.8zM214.4 417.3h.8v.8h-.8zM198.3 417.1h.8v.8h-.8zM219.5 402.3h.8v.8h-.8zM211.4 396.6h.8v.8h-.8zM215.3 413.6h.8v.8h-.8zM200.3 425.1h.8v.8h-.8zM212.4 393.9h.8v.8h-.8zM216.4 412.9h.8v.8h-.8zM219.3 393.6h.8v.8h-.8zM209.9 394.6h.8v.8h-.8zM221.3 400.3h.8v.8h-.8zM206.0 425.9h.8v.8h-.8zM217.3 412.3h.8v.8h-.8zM218.9 409.9h.8v.8h-.8zM198.7 415.4h.8v.8h-.8zM216.9 394.9h.8v.8h-.8zM197.4 411.4h.8v.8h-.8zM218.7 407.7h.8v.8h-.8zM201.3 405.7h.8v.8h-.8zM216.8 412.8h.8v.8h-.8zM198.6 423.0h.8v.8h-.8zM200.6 408.2h.8v.8h-.8zM219.6 398.6h.8v.8h-.8zM200.8 423.6h.8v.8h-.8zM213.6 419.5h.8v.8h-.8zM209.7 421.5h.8v.8h-.8zM215.4 395.9h.8v.8h-.8zM221.2 405.8h.8v.8h-.8zM221.0 399.9h.8v.8h-.8zM212.5 396.1h.8v.8h-.8zM214.7 393.7h.8v.8h-.8zM221.3 395.2h.8v.8h-.8zM219.0 395.3h.8v.8h-.8zM220.1 400.8h.8v.8h-.8zM213.3 417.1h.8v.8h-.8zM201.4 407.8h.8v.8h-.8zM207.8 398.5h.8v.8h-.8zM203.7 424.7h.8v.8h-.8zM213.6 417.5h.8v.8h-.8zM196.7 417.9h.8v.8h-.8zM209.7 423.4h.8v.8h-.8zM220.2 406.2h.8v.8h-.8zM202.4 406.2h.8v.8h-.8zM199.0 424.5h.8v.8h-.8zM201.8 424.4h.8v.8h-.8zM198.7 416.8h.8v.8h-.8zM206.4 424.0h.8v.8h-.8zM198.1 415.4h.8v.8h-.8zM214.4 417.5h.8v.8h-.8zM220.5 404.3h.8v.8h-.8zM208.2 421.5h.8v.8h-.8zM200.0 407.6h.8v.8h-.8zM208.6 397.5h.8v.8h-.8zM217.5 409.7h.8v.8h-.8zM199.2 419.6h.8v.8h-.8zM197.2 419.0h.8v.8h-.8zM210.6 419.1h.8v.8h-.8zM197.6 423.2h.8v.8h-.8zM196.0 422.3h.8v.8h-.8zM209.9 420.3h.8v.8h-.8zM212.1 419.4h.8v.8h-.8zM207.5 421.9h.8v.8h-.8zM198.6 409.2h.8v.8h-.8zM213.1 395.4h.8v.8h-.8zM213.5 417.6h.8v.8h-.8zM210.9 396.6h.8v.8h-.8zM203.8 422.8h.8v.8h-.8zM221.6 401.3h.8v.8h-.8zM205.9 424.8h.8v.8h-.8zM219.1 397.4h.8v.8h-.8zM219.2 406.4h.8v.8h-.8zM204.4 403.4h.8v.8h-.8zM214.1 393.3h.8v.8h-.8zM211.4 418.1h.8v.8h-.8zM217.9 409.4h.8v.8h-.8zM209.9 422.0h.8v.8h-.8zM216.7 396.0h.8v.8h-.8zM196.0 420.7h.8v.8h-.8zM199.9 424.9h.8v.8h-.8zM217.1 413.4h.8v.8h-.8zM212.6 394.6h.8v.8h-.8zM218.4 408.9h.8v.8h-.8zM198.0 413.2h.8v.8h-.8zM214.3 415.7h.8v.8h-.8zM198.8 417.0h.8v.8h-.8zM203.5 403.1h.8v.8h-.8zM210.3 420.8h.8v.8h-.8zM199.3 408.7h.8v.8h-.8zM200.5 407.2h.8v.8h-.8zM219.3 401.3h.8v.8h-.8zM211.0 395.7h.8v.8h-.8zM222.0 398.6h.8v.8h-.8zM213.7 396.7h.8v.8h-.8zM200.5 408.3h.8v.8h-.8zM221.2 402.5h.8v.8h-.8zM198.0 416.3h.8v.8h-.8zM212.8 395.8h.8v.8h-.8zM203.4 425.0h.8v.8h-.8zM217.8 412.9h.8v.8h-.8zM219.9 405.2h.8v.8h-.8zM212.2 417.4h.8v.8h-.8zM215.0 417.5h.8v.8h-.8zM208.1 423.4h.8v.8h-.8zM199.4 422.6h.8v.8h-.8zM200.1 406.7h.8v.8h-.8zM201.0 424.2h.8v.8h-.8zM220.4 395.8h.8v.8h-.8zM197.6 418.5h.8v.8h-.8zM212.2 419.3h.8v.8h-.8zM216.7 396.5h.8v.8h-.8zM198.4 415.8h.8v.8h-.8zM220.2 396.8h.8v.8h-.8zM202.5 404.6h.8v.8h-.8zM198.2 411.4h.8v.8h-.8zM219.7 393.3h.8v.8h-.8zM200.1 410.6h.8v.8h-.8zM214.5 416.6h.8v.8h-.8zM214.2 395.4h.8v.8h-.8zM198.3 417.8h.8v.8h-.8zM201.1 426.5h.8v.8h-.8zM201.8 405.7h.8v.8h-.8zM217.7 411.5h.8v.8h-.8zM205.3 423.9h.8v.8h-.8zM216.7 413.9h.8v.8h-.8zM200.1 407.7h.8v.8h-.8zM199.4 425.8h.8v.8h-.8zM204.8 423.4h.8v.8h-.8zM220.5 402.2h.8v.8h-.8z" fill="#5a84c4" opacity="0.8"/>
<rect x="186.40" y="386.20" width="56.60" height="56.60" fill="#fff" opacity="0.6" filter="url(#sp1)"/>
</g>
<rect x="186.40" y="386.20" width="56.60" height="56.60" fill="none" stroke="#000" stroke-width="1.2"/>
<line x1="192.90" y1="438.00" x2="238.70" y2="393.30" stroke="#333" stroke-width="0.7" />
<text x="214.70" y="394.60" font-size="5.6" text-anchor="middle" font-weight="bold" fill="#000" >0.97</text>
<line x1="183.80" y1="392.50" x2="186.40" y2="392.50" stroke="#000" stroke-width="0.9" />
<text x="182.80" y="394.70" font-size="6.6" text-anchor="end" fill="#111">10<tspan font-size="4.6" dy="-2.8">4</tspan></text>
<line x1="183.80" y1="424.60" x2="186.40" y2="424.60" stroke="#000" stroke-width="0.9" />
<text x="182.80" y="426.80" font-size="6.6" text-anchor="end" fill="#111">10<tspan font-size="4.6" dy="-2.8">3</tspan></text>
<line x1="202.40" y1="442.80" x2="202.40" y2="445.40" stroke="#000" stroke-width="0.9" />
<text x="202.40" y="453.4" font-size="6.6" text-anchor="middle" fill="#111">10<tspan font-size="4.6" dy="-2.8">3</tspan></text>
<line x1="228.80" y1="442.80" x2="228.80" y2="445.40" stroke="#000" stroke-width="0.9" />
<text x="228.80" y="453.4" font-size="6.6" text-anchor="middle" fill="#111">10<tspan font-size="4.6" dy="-2.8">4</tspan></text>
<line x1="210.35" y1="442.80" x2="210.35" y2="444.20" stroke="#000" stroke-width="0.5" />
<line x1="236.75" y1="442.80" x2="236.75" y2="444.20" stroke="#000" stroke-width="0.5" />
<line x1="185.00" y1="414.94" x2="186.40" y2="414.94" stroke="#000" stroke-width="0.5" />
<line x1="188.60" y1="442.80" x2="188.60" y2="444.20" stroke="#000" stroke-width="0.5" />
<line x1="215.00" y1="442.80" x2="215.00" y2="444.20" stroke="#000" stroke-width="0.5" />
<line x1="241.40" y1="442.80" x2="241.40" y2="444.20" stroke="#000" stroke-width="0.5" />
<line x1="185.00" y1="441.38" x2="186.40" y2="441.38" stroke="#000" stroke-width="0.5" />
<line x1="185.00" y1="409.28" x2="186.40" y2="409.28" stroke="#000" stroke-width="0.5" />
<line x1="191.89" y1="442.80" x2="191.89" y2="444.20" stroke="#000" stroke-width="0.5" />
<line x1="218.29" y1="442.80" x2="218.29" y2="444.20" stroke="#000" stroke-width="0.5" />
<line x1="185.00" y1="437.37" x2="186.40" y2="437.37" stroke="#000" stroke-width="0.5" />
<line x1="185.00" y1="405.27" x2="186.40" y2="405.27" stroke="#000" stroke-width="0.5" />
<line x1="194.45" y1="442.80" x2="194.45" y2="444.20" stroke="#000" stroke-width="0.5" />
<line x1="220.85" y1="442.80" x2="220.85" y2="444.20" stroke="#000" stroke-width="0.5" />
<line x1="185.00" y1="434.26" x2="186.40" y2="434.26" stroke="#000" stroke-width="0.5" />
<line x1="185.00" y1="402.16" x2="186.40" y2="402.16" stroke="#000" stroke-width="0.5" />
<line x1="196.54" y1="442.80" x2="196.54" y2="444.20" stroke="#000" stroke-width="0.5" />
<line x1="222.94" y1="442.80" x2="222.94" y2="444.20" stroke="#000" stroke-width="0.5" />
<line x1="185.00" y1="431.72" x2="186.40" y2="431.72" stroke="#000" stroke-width="0.5" />
<line x1="185.00" y1="399.62" x2="186.40" y2="399.62" stroke="#000" stroke-width="0.5" />
<line x1="198.31" y1="442.80" x2="198.31" y2="444.20" stroke="#000" stroke-width="0.5" />
<line x1="224.71" y1="442.80" x2="224.71" y2="444.20" stroke="#000" stroke-width="0.5" />
<line x1="185.00" y1="429.57" x2="186.40" y2="429.57" stroke="#000" stroke-width="0.5" />
<line x1="185.00" y1="397.47" x2="186.40" y2="397.47" stroke="#000" stroke-width="0.5" />
<line x1="199.84" y1="442.80" x2="199.84" y2="444.20" stroke="#000" stroke-width="0.5" />
<line x1="226.24" y1="442.80" x2="226.24" y2="444.20" stroke="#000" stroke-width="0.5" />
<line x1="185.00" y1="427.71" x2="186.40" y2="427.71" stroke="#000" stroke-width="0.5" />
<line x1="185.00" y1="395.61" x2="186.40" y2="395.61" stroke="#000" stroke-width="0.5" />
<line x1="201.19" y1="442.80" x2="201.19" y2="444.20" stroke="#000" stroke-width="0.5" />
<line x1="227.59" y1="442.80" x2="227.59" y2="444.20" stroke="#000" stroke-width="0.5" />
<line x1="185.00" y1="426.07" x2="186.40" y2="426.07" stroke="#000" stroke-width="0.5" />
<line x1="185.00" y1="393.97" x2="186.40" y2="393.97" stroke="#000" stroke-width="0.5" />
<text x="290.10" y="381.80" font-size="6.5" text-anchor="middle" fill="#111" >AOA</text>
<rect x="261.80" y="386.20" width="56.60" height="56.60" fill="#fff"/>
<g clip-path="url(#gc163)">
<ellipse cx="0" cy="0" rx="33.60" ry="15.60" fill="url(#g164)" transform="translate(283.80,409.20) rotate(-50)"/>
<ellipse cx="0" cy="0" rx="21.00" ry="8.12" fill="url(#g165)" transform="translate(283.80,409.20) rotate(-50)"/>
<ellipse cx="0" cy="0" rx="11.90" ry="4.88" fill="url(#g166)" transform="translate(283.80,409.20) rotate(-50)"/>
<path d="M294.9 412.4h.8v.8h-.8zM299.3 391.0h.8v.8h-.8zM267.5 416.1h.8v.8h-.8zM277.4 437.2h.8v.8h-.8zM286.5 390.1h.8v.8h-.8zM266.9 425.2h.8v.8h-.8zM307.9 395.8h.8v.8h-.8zM287.2 393.2h.8v.8h-.8zM295.5 418.0h.8v.8h-.8zM298.9 394.6h.8v.8h-.8zM300.8 392.2h.8v.8h-.8zM298.2 409.1h.8v.8h-.8zM282.6 388.4h.8v.8h-.8zM299.4 404.6h.8v.8h-.8zM285.1 392.9h.8v.8h-.8zM273.8 402.3h.8v.8h-.8zM289.1 419.4h.8v.8h-.8zM281.0 425.7h.8v.8h-.8zM301.2 387.2h.8v.8h-.8zM271.1 426.2h.8v.8h-.8zM299.6 397.6h.8v.8h-.8zM268.6 429.2h.8v.8h-.8zM294.8 419.2h.8v.8h-.8zM263.4 427.8h.8v.8h-.8zM292.8 417.9h.8v.8h-.8zM283.4 425.6h.8v.8h-.8zM273.4 429.5h.8v.8h-.8zM288.1 421.3h.8v.8h-.8zM266.9 427.7h.8v.8h-.8zM279.9 432.7h.8v.8h-.8zM292.6 388.5h.8v.8h-.8zM267.6 420.5h.8v.8h-.8zM267.6 429.7h.8v.8h-.8zM290.3 426.7h.8v.8h-.8zM266.9 439.3h.8v.8h-.8zM267.8 421.0h.8v.8h-.8zM289.4 391.8h.8v.8h-.8zM265.4 440.1h.8v.8h-.8zM299.7 392.8h.8v.8h-.8zM268.3 428.3h.8v.8h-.8zM298.0 409.1h.8v.8h-.8zM267.0 417.3h.8v.8h-.8zM280.7 398.3h.8v.8h-.8zM277.1 431.2h.8v.8h-.8zM294.2 412.6h.8v.8h-.8zM277.7 427.0h.8v.8h-.8zM306.6 407.6h.8v.8h-.8zM306.9 395.8h.8v.8h-.8zM267.6 409.2h.8v.8h-.8zM294.7 392.0h.8v.8h-.8zM280.1 395.1h.8v.8h-.8zM267.0 427.5h.8v.8h-.8zM299.1 398.3h.8v.8h-.8zM279.2 433.9h.8v.8h-.8zM298.0 390.8h.8v.8h-.8zM265.1 413.4h.8v.8h-.8zM299.1 409.3h.8v.8h-.8zM308.3 387.1h.8v.8h-.8zM290.7 389.6h.8v.8h-.8zM272.4 403.2h.8v.8h-.8zM267.2 408.9h.8v.8h-.8zM290.2 391.6h.8v.8h-.8zM312.8 394.2h.8v.8h-.8zM281.4 397.5h.8v.8h-.8zM270.8 409.5h.8v.8h-.8zM298.2 406.1h.8v.8h-.8zM299.8 396.8h.8v.8h-.8zM298.5 402.5h.8v.8h-.8zM293.7 417.9h.8v.8h-.8zM298.5 414.4h.8v.8h-.8zM271.1 407.6h.8v.8h-.8zM286.0 424.2h.8v.8h-.8zM295.5 416.7h.8v.8h-.8zM293.3 392.0h.8v.8h-.8zM289.1 419.6h.8v.8h-.8zM268.7 432.3h.8v.8h-.8zM279.7 434.6h.8v.8h-.8zM286.1 428.9h.8v.8h-.8zM290.1 387.9h.8v.8h-.8zM263.6 410.6h.8v.8h-.8zM303.9 413.2h.8v.8h-.8zM268.9 429.8h.8v.8h-.8zM273.7 428.5h.8v.8h-.8zM286.1 428.4h.8v.8h-.8zM264.8 429.7h.8v.8h-.8zM268.1 417.8h.8v.8h-.8zM268.7 427.6h.8v.8h-.8zM269.9 412.0h.8v.8h-.8zM291.5 415.6h.8v.8h-.8zM291.7 391.6h.8v.8h-.8zM267.0 427.3h.8v.8h-.8zM286.3 420.9h.8v.8h-.8zM284.9 428.4h.8v.8h-.8zM267.2 415.5h.8v.8h-.8zM268.1 420.2h.8v.8h-.8zM306.0 398.2h.8v.8h-.8zM300.6 399.1h.8v.8h-.8zM292.1 419.0h.8v.8h-.8zM299.7 429.9h.8v.8h-.8zM266.8 411.6h.8v.8h-.8zM271.5 387.2h.8v.8h-.8zM270.0 409.1h.8v.8h-.8zM264.2 423.2h.8v.8h-.8zM301.1 392.0h.8v.8h-.8zM288.7 423.4h.8v.8h-.8zM310.8 390.4h.8v.8h-.8zM265.9 415.5h.8v.8h-.8zM284.5 423.1h.8v.8h-.8zM299.7 406.7h.8v.8h-.8zM291.4 418.3h.8v.8h-.8zM267.3 412.2h.8v.8h-.8zM268.0 416.3h.8v.8h-.8zM302.5 394.0h.8v.8h-.8zM299.1 391.3h.8v.8h-.8zM289.7 420.4h.8v.8h-.8zM304.5 402.5h.8v.8h-.8zM276.5 439.7h.8v.8h-.8zM281.2 429.0h.8v.8h-.8zM291.4 420.9h.8v.8h-.8zM262.6 423.1h.8v.8h-.8zM296.7 416.4h.8v.8h-.8zM298.2 404.8h.8v.8h-.8zM268.5 422.3h.8v.8h-.8zM292.1 417.7h.8v.8h-.8zM275.2 427.6h.8v.8h-.8zM267.8 435.6h.8v.8h-.8zM307.0 394.6h.8v.8h-.8zM272.5 432.0h.8v.8h-.8zM288.3 388.0h.8v.8h-.8zM294.8 391.2h.8v.8h-.8zM307.0 398.5h.8v.8h-.8zM291.9 415.4h.8v.8h-.8zM263.1 421.1h.8v.8h-.8zM286.1 432.4h.8v.8h-.8zM265.9 414.9h.8v.8h-.8zM281.7 425.0h.8v.8h-.8zM305.8 397.1h.8v.8h-.8zM280.0 393.5h.8v.8h-.8zM294.8 390.6h.8v.8h-.8zM267.8 430.1h.8v.8h-.8zM289.9 420.0h.8v.8h-.8zM301.1 395.4h.8v.8h-.8zM290.6 391.2h.8v.8h-.8zM265.5 427.3h.8v.8h-.8zM264.1 426.4h.8v.8h-.8zM288.7 423.1h.8v.8h-.8zM300.0 387.9h.8v.8h-.8zM291.8 417.8h.8v.8h-.8zM277.2 434.2h.8v.8h-.8zM284.1 395.3h.8v.8h-.8zM284.1 393.3h.8v.8h-.8zM291.6 391.8h.8v.8h-.8zM291.7 423.6h.8v.8h-.8zM304.9 397.1h.8v.8h-.8zM265.0 405.4h.8v.8h-.8zM269.9 405.2h.8v.8h-.8zM267.3 438.4h.8v.8h-.8zM286.6 422.7h.8v.8h-.8zM286.3 423.6h.8v.8h-.8zM275.9 432.4h.8v.8h-.8zM296.4 391.7h.8v.8h-.8zM285.9 421.6h.8v.8h-.8zM298.9 410.4h.8v.8h-.8zM278.6 430.0h.8v.8h-.8zM283.6 395.6h.8v.8h-.8zM264.0 408.2h.8v.8h-.8zM266.3 407.9h.8v.8h-.8zM306.1 390.3h.8v.8h-.8zM263.8 419.6h.8v.8h-.8zM299.9 405.5h.8v.8h-.8zM288.7 392.4h.8v.8h-.8zM280.4 395.7h.8v.8h-.8zM282.0 437.7h.8v.8h-.8zM305.4 406.9h.8v.8h-.8zM267.4 416.3h.8v.8h-.8zM280.4 425.0h.8v.8h-.8zM280.7 398.1h.8v.8h-.8zM297.1 406.6h.8v.8h-.8zM287.1 392.9h.8v.8h-.8zM266.7 416.2h.8v.8h-.8zM295.0 412.6h.8v.8h-.8zM270.0 413.1h.8v.8h-.8zM267.9 432.0h.8v.8h-.8zM268.9 409.9h.8v.8h-.8zM285.5 391.8h.8v.8h-.8zM296.5 421.1h.8v.8h-.8zM275.9 401.6h.8v.8h-.8zM305.1 387.8h.8v.8h-.8zM284.7 389.9h.8v.8h-.8zM268.0 416.5h.8v.8h-.8zM303.5 400.8h.8v.8h-.8zM299.9 400.5h.8v.8h-.8zM290.3 423.5h.8v.8h-.8zM268.3 405.4h.8v.8h-.8zM268.5 419.0h.8v.8h-.8zM269.8 410.6h.8v.8h-.8zM269.8 436.1h.8v.8h-.8zM287.5 427.4h.8v.8h-.8zM265.5 426.9h.8v.8h-.8zM289.3 392.6h.8v.8h-.8zM269.5 411.3h.8v.8h-.8zM273.3 404.0h.8v.8h-.8zM290.7 424.9h.8v.8h-.8zM277.1 398.9h.8v.8h-.8zM283.3 395.3h.8v.8h-.8zM275.4 426.2h.8v.8h-.8zM268.4 417.5h.8v.8h-.8zM295.0 391.8h.8v.8h-.8zM300.6 397.0h.8v.8h-.8zM300.5 396.5h.8v.8h-.8zM297.3 407.0h.8v.8h-.8zM294.0 413.7h.8v.8h-.8zM298.7 405.9h.8v.8h-.8zM300.1 399.1h.8v.8h-.8zM265.0 427.3h.8v.8h-.8zM276.3 403.0h.8v.8h-.8zM281.8 424.2h.8v.8h-.8zM298.8 387.6h.8v.8h-.8zM272.4 404.7h.8v.8h-.8zM299.4 408.9h.8v.8h-.8zM298.0 405.0h.8v.8h-.8zM284.6 426.9h.8v.8h-.8zM265.2 420.7h.8v.8h-.8zM300.8 392.0h.8v.8h-.8zM287.4 421.3h.8v.8h-.8zM280.1 396.6h.8v.8h-.8zM291.0 417.5h.8v.8h-.8zM303.9 393.8h.8v.8h-.8zM282.4 428.2h.8v.8h-.8zM294.2 390.2h.8v.8h-.8zM283.7 422.9h.8v.8h-.8zM296.9 417.2h.8v.8h-.8zM270.0 405.2h.8v.8h-.8zM276.6 400.0h.8v.8h-.8zM305.4 407.1h.8v.8h-.8zM265.8 419.2h.8v.8h-.8zM267.1 434.8h.8v.8h-.8zM272.5 426.6h.8v.8h-.8zM270.4 411.7h.8v.8h-.8zM263.2 423.8h.8v.8h-.8zM272.6 428.8h.8v.8h-.8zM274.5 428.0h.8v.8h-.8zM299.1 389.3h.8v.8h-.8zM288.2 391.4h.8v.8h-.8zM294.9 429.6h.8v.8h-.8zM275.7 429.7h.8v.8h-.8zM293.8 415.1h.8v.8h-.8zM300.0 397.6h.8v.8h-.8zM278.5 397.9h.8v.8h-.8zM286.9 423.2h.8v.8h-.8zM306.6 387.3h.8v.8h-.8zM276.2 400.3h.8v.8h-.8zM266.6 420.1h.8v.8h-.8zM265.3 406.3h.8v.8h-.8zM303.5 400.4h.8v.8h-.8zM303.5 408.1h.8v.8h-.8zM287.4 393.2h.8v.8h-.8zM287.0 390.6h.8v.8h-.8zM281.6 393.5h.8v.8h-.8zM286.6 392.6h.8v.8h-.8zM284.2 392.6h.8v.8h-.8zM272.0 430.3h.8v.8h-.8zM288.4 423.7h.8v.8h-.8zM304.4 397.0h.8v.8h-.8zM263.1 424.0h.8v.8h-.8zM275.3 403.6h.8v.8h-.8zM283.0 392.8h.8v.8h-.8zM292.4 423.4h.8v.8h-.8zM278.0 432.5h.8v.8h-.8zM277.1 429.2h.8v.8h-.8zM267.9 426.0h.8v.8h-.8zM300.5 412.0h.8v.8h-.8zM262.7 437.4h.8v.8h-.8zM297.4 390.2h.8v.8h-.8zM280.5 392.9h.8v.8h-.8zM268.9 429.4h.8v.8h-.8zM274.2 393.3h.8v.8h-.8zM276.6 427.1h.8v.8h-.8zM274.1 435.9h.8v.8h-.8zM267.6 404.6h.8v.8h-.8zM281.0 396.3h.8v.8h-.8zM272.3 440.7h.8v.8h-.8zM292.0 423.6h.8v.8h-.8zM298.8 416.0h.8v.8h-.8zM269.8 403.4h.8v.8h-.8zM270.7 401.2h.8v.8h-.8zM289.9 387.8h.8v.8h-.8zM267.0 403.6h.8v.8h-.8zM304.0 396.3h.8v.8h-.8zM277.0 395.1h.8v.8h-.8zM277.4 396.1h.8v.8h-.8zM302.6 390.3h.8v.8h-.8zM264.6 422.0h.8v.8h-.8zM274.0 438.0h.8v.8h-.8zM269.8 412.1h.8v.8h-.8zM290.3 418.2h.8v.8h-.8zM270.2 431.4h.8v.8h-.8zM289.7 389.9h.8v.8h-.8zM264.4 423.9h.8v.8h-.8zM270.9 398.8h.8v.8h-.8zM267.4 421.9h.8v.8h-.8zM303.5 415.2h.8v.8h-.8zM274.7 404.7h.8v.8h-.8zM270.1 402.3h.8v.8h-.8zM279.0 399.8h.8v.8h-.8zM277.6 428.1h.8v.8h-.8zM270.3 412.0h.8v.8h-.8zM269.5 425.5h.8v.8h-.8zM302.5 390.1h.8v.8h-.8zM283.0 424.9h.8v.8h-.8zM262.9 435.2h.8v.8h-.8zM281.4 427.0h.8v.8h-.8zM272.8 405.1h.8v.8h-.8zM300.6 400.2h.8v.8h-.8zM301.1 395.8h.8v.8h-.8zM304.6 402.0h.8v.8h-.8zM262.9 429.9h.8v.8h-.8zM285.9 394.3h.8v.8h-.8zM274.2 396.7h.8v.8h-.8zM303.6 411.3h.8v.8h-.8zM269.4 425.3h.8v.8h-.8zM303.3 395.7h.8v.8h-.8zM301.5 388.5h.8v.8h-.8zM268.4 428.0h.8v.8h-.8zM268.9 414.2h.8v.8h-.8zM302.2 401.0h.8v.8h-.8zM302.7 394.7h.8v.8h-.8zM301.0 406.1h.8v.8h-.8zM275.4 400.9h.8v.8h-.8zM292.4 418.1h.8v.8h-.8zM265.2 423.8h.8v.8h-.8zM298.0 407.3h.8v.8h-.8zM305.9 409.9h.8v.8h-.8zM265.3 425.5h.8v.8h-.8zM296.0 409.4h.8v.8h-.8zM270.5 407.6h.8v.8h-.8zM281.5 393.6h.8v.8h-.8zM276.7 429.2h.8v.8h-.8zM298.7 411.0h.8v.8h-.8zM299.7 394.0h.8v.8h-.8zM287.6 420.1h.8v.8h-.8zM301.7 394.4h.8v.8h-.8zM296.9 388.1h.8v.8h-.8zM292.4 417.7h.8v.8h-.8zM275.6 402.2h.8v.8h-.8zM269.8 440.6h.8v.8h-.8zM299.1 399.7h.8v.8h-.8zM269.7 412.5h.8v.8h-.8zM300.2 392.8h.8v.8h-.8zM269.1 423.9h.8v.8h-.8zM269.2 412.9h.8v.8h-.8zM279.5 399.2h.8v.8h-.8zM267.2 415.8h.8v.8h-.8zM269.7 425.9h.8v.8h-.8zM274.1 427.9h.8v.8h-.8zM299.2 412.2h.8v.8h-.8zM290.7 388.0h.8v.8h-.8zM289.7 391.4h.8v.8h-.8zM282.8 394.9h.8v.8h-.8zM271.5 431.4h.8v.8h-.8zM308.4 387.3h.8v.8h-.8zM297.2 407.2h.8v.8h-.8zM302.7 393.0h.8v.8h-.8zM310.6 403.9h.8v.8h-.8zM300.6 388.9h.8v.8h-.8zM280.2 428.3h.8v.8h-.8zM303.3 399.2h.8v.8h-.8zM267.9 417.2h.8v.8h-.8zM268.9 415.6h.8v.8h-.8zM275.5 426.9h.8v.8h-.8zM289.2 392.9h.8v.8h-.8zM274.8 404.1h.8v.8h-.8zM297.5 413.9h.8v.8h-.8zM267.7 418.5h.8v.8h-.8zM276.8 390.1h.8v.8h-.8zM268.4 428.2h.8v.8h-.8zM296.2 411.9h.8v.8h-.8zM297.0 388.7h.8v.8h-.8zM289.8 417.1h.8v.8h-.8zM270.5 433.9h.8v.8h-.8zM301.3 397.2h.8v.8h-.8zM305.5 394.7h.8v.8h-.8zM304.0 395.7h.8v.8h-.8zM269.9 406.5h.8v.8h-.8zM287.1 388.4h.8v.8h-.8zM267.3 421.4h.8v.8h-.8zM263.2 438.3h.8v.8h-.8zM300.4 399.6h.8v.8h-.8zM264.9 401.2h.8v.8h-.8zM290.1 416.7h.8v.8h-.8zM264.7 427.3h.8v.8h-.8zM298.1 405.4h.8v.8h-.8zM287.6 388.5h.8v.8h-.8zM304.6 412.0h.8v.8h-.8zM274.2 405.3h.8v.8h-.8zM265.8 430.9h.8v.8h-.8zM284.8 425.9h.8v.8h-.8zM266.3 412.2h.8v.8h-.8zM269.3 424.9h.8v.8h-.8zM278.4 428.6h.8v.8h-.8zM279.1 435.5h.8v.8h-.8zM301.2 393.6h.8v.8h-.8zM273.8 403.6h.8v.8h-.8zM272.6 433.2h.8v.8h-.8zM283.3 395.5h.8v.8h-.8zM282.6 423.6h.8v.8h-.8zM300.7 399.8h.8v.8h-.8zM280.9 431.1h.8v.8h-.8zM291.2 416.1h.8v.8h-.8zM290.4 422.4h.8v.8h-.8zM263.1 426.2h.8v.8h-.8zM287.5 387.1h.8v.8h-.8zM272.6 389.6h.8v.8h-.8zM306.8 399.2h.8v.8h-.8zM300.2 403.6h.8v.8h-.8zM288.4 418.5h.8v.8h-.8zM302.0 398.6h.8v.8h-.8zM262.9 426.5h.8v.8h-.8zM268.4 441.2h.8v.8h-.8zM274.1 399.3h.8v.8h-.8zM282.4 431.7h.8v.8h-.8zM271.8 407.9h.8v.8h-.8zM306.1 397.5h.8v.8h-.8zM288.0 424.4h.8v.8h-.8zM274.5 399.0h.8v.8h-.8zM282.0 394.1h.8v.8h-.8zM299.1 396.8h.8v.8h-.8zM301.8 397.1h.8v.8h-.8zM294.9 389.1h.8v.8h-.8zM299.7 400.7h.8v.8h-.8zM283.1 393.7h.8v.8h-.8zM264.8 399.4h.8v.8h-.8zM271.1 404.8h.8v.8h-.8zM290.4 417.2h.8v.8h-.8zM304.8 406.3h.8v.8h-.8zM298.0 388.0h.8v.8h-.8zM298.3 409.5h.8v.8h-.8zM276.4 391.3h.8v.8h-.8zM299.3 392.7h.8v.8h-.8zM281.3 390.8h.8v.8h-.8zM277.3 426.1h.8v.8h-.8zM299.9 414.1h.8v.8h-.8zM265.4 416.2h.8v.8h-.8zM270.4 411.8h.8v.8h-.8zM274.5 402.5h.8v.8h-.8zM290.9 421.3h.8v.8h-.8zM278.5 397.0h.8v.8h-.8zM284.6 423.9h.8v.8h-.8zM273.0 402.3h.8v.8h-.8zM282.0 428.2h.8v.8h-.8zM285.6 427.1h.8v.8h-.8z" fill="#93a8d6" opacity="0.55"/>
<path d="M283.0 398.9h.8v.8h-.8zM276.1 406.9h.8v.8h-.8zM293.7 394.0h.8v.8h-.8zM293.3 411.4h.8v.8h-.8zM288.3 416.8h.8v.8h-.8zM292.6 395.7h.8v.8h-.8zM287.1 395.7h.8v.8h-.8zM298.2 395.8h.8v.8h-.8zM288.5 394.2h.8v.8h-.8zM276.2 425.5h.8v.8h-.8zM296.4 392.9h.8v.8h-.8zM280.1 402.3h.8v.8h-.8zM273.9 408.1h.8v.8h-.8zM270.5 419.7h.8v.8h-.8zM270.1 415.6h.8v.8h-.8zM289.1 396.7h.8v.8h-.8zM295.6 399.6h.8v.8h-.8zM290.4 394.5h.8v.8h-.8zM282.7 397.5h.8v.8h-.8zM284.3 419.2h.8v.8h-.8zM271.5 417.7h.8v.8h-.8zM297.4 403.1h.8v.8h-.8zM287.1 417.0h.8v.8h-.8zM277.2 402.7h.8v.8h-.8zM273.7 411.4h.8v.8h-.8zM272.9 424.5h.8v.8h-.8zM286.3 419.5h.8v.8h-.8zM286.5 397.0h.8v.8h-.8zM286.1 397.6h.8v.8h-.8zM293.1 392.6h.8v.8h-.8zM277.4 423.1h.8v.8h-.8zM271.6 412.9h.8v.8h-.8zM272.4 422.2h.8v.8h-.8zM273.1 421.3h.8v.8h-.8zM271.0 417.1h.8v.8h-.8zM281.8 399.8h.8v.8h-.8zM289.8 416.6h.8v.8h-.8zM290.3 414.1h.8v.8h-.8zM278.1 423.6h.8v.8h-.8zM292.2 412.7h.8v.8h-.8zM289.4 414.3h.8v.8h-.8zM297.7 396.4h.8v.8h-.8zM298.4 396.6h.8v.8h-.8zM290.8 415.8h.8v.8h-.8zM289.3 414.8h.8v.8h-.8zM287.4 394.8h.8v.8h-.8zM271.9 418.6h.8v.8h-.8zM270.8 415.2h.8v.8h-.8zM294.9 394.3h.8v.8h-.8zM282.9 421.2h.8v.8h-.8zM292.4 394.1h.8v.8h-.8zM270.5 412.4h.8v.8h-.8zM271.0 414.5h.8v.8h-.8zM269.8 416.3h.8v.8h-.8zM278.0 422.5h.8v.8h-.8zM283.2 398.5h.8v.8h-.8zM275.2 405.2h.8v.8h-.8zM285.6 419.5h.8v.8h-.8zM293.8 408.1h.8v.8h-.8zM271.4 420.4h.8v.8h-.8zM273.5 407.4h.8v.8h-.8zM286.2 397.6h.8v.8h-.8zM287.0 394.1h.8v.8h-.8zM272.0 417.9h.8v.8h-.8zM295.0 397.2h.8v.8h-.8zM295.1 395.2h.8v.8h-.8zM270.8 422.7h.8v.8h-.8zM293.5 409.9h.8v.8h-.8zM272.1 421.2h.8v.8h-.8zM269.0 420.7h.8v.8h-.8zM294.0 394.2h.8v.8h-.8zM297.9 401.6h.8v.8h-.8zM272.4 422.7h.8v.8h-.8zM271.8 413.8h.8v.8h-.8zM277.9 424.5h.8v.8h-.8zM292.3 411.8h.8v.8h-.8zM297.0 401.7h.8v.8h-.8zM273.0 413.2h.8v.8h-.8zM293.6 411.3h.8v.8h-.8zM271.3 415.3h.8v.8h-.8zM270.5 413.7h.8v.8h-.8zM282.2 398.3h.8v.8h-.8zM296.2 406.2h.8v.8h-.8zM280.3 420.9h.8v.8h-.8zM280.8 420.8h.8v.8h-.8zM275.8 405.1h.8v.8h-.8zM293.8 393.3h.8v.8h-.8zM277.3 423.6h.8v.8h-.8zM283.0 421.0h.8v.8h-.8zM275.5 408.4h.8v.8h-.8zM273.3 411.9h.8v.8h-.8zM282.1 399.5h.8v.8h-.8zM274.1 406.4h.8v.8h-.8zM291.5 410.7h.8v.8h-.8zM274.3 408.3h.8v.8h-.8zM291.2 393.8h.8v.8h-.8zM273.2 425.2h.8v.8h-.8zM277.1 404.0h.8v.8h-.8zM273.7 425.2h.8v.8h-.8zM296.7 405.0h.8v.8h-.8zM275.2 422.5h.8v.8h-.8zM284.9 398.8h.8v.8h-.8zM283.8 398.5h.8v.8h-.8zM290.5 413.9h.8v.8h-.8zM270.8 419.5h.8v.8h-.8zM285.6 418.1h.8v.8h-.8zM294.0 411.6h.8v.8h-.8zM291.8 394.0h.8v.8h-.8zM288.6 415.2h.8v.8h-.8zM282.6 399.9h.8v.8h-.8zM275.6 406.3h.8v.8h-.8zM288.8 417.5h.8v.8h-.8zM290.6 415.0h.8v.8h-.8zM270.5 420.5h.8v.8h-.8zM293.1 410.1h.8v.8h-.8zM273.7 426.0h.8v.8h-.8zM282.3 399.3h.8v.8h-.8zM271.7 421.8h.8v.8h-.8zM273.0 409.8h.8v.8h-.8zM290.5 414.4h.8v.8h-.8zM274.3 425.6h.8v.8h-.8zM282.7 399.3h.8v.8h-.8zM285.7 418.5h.8v.8h-.8zM290.1 393.2h.8v.8h-.8zM287.2 416.4h.8v.8h-.8zM286.8 419.2h.8v.8h-.8zM297.8 396.5h.8v.8h-.8zM269.8 422.1h.8v.8h-.8zM292.5 409.7h.8v.8h-.8zM293.4 393.5h.8v.8h-.8zM293.9 410.5h.8v.8h-.8zM286.6 394.6h.8v.8h-.8zM272.5 410.7h.8v.8h-.8zM287.4 416.7h.8v.8h-.8zM292.7 409.0h.8v.8h-.8zM269.1 420.2h.8v.8h-.8zM272.5 416.1h.8v.8h-.8zM271.8 413.1h.8v.8h-.8zM278.8 403.4h.8v.8h-.8zM290.1 414.8h.8v.8h-.8zM270.0 416.4h.8v.8h-.8zM274.9 424.4h.8v.8h-.8zM298.1 402.5h.8v.8h-.8zM287.8 417.0h.8v.8h-.8zM294.2 409.6h.8v.8h-.8zM270.4 417.2h.8v.8h-.8zM285.3 395.6h.8v.8h-.8zM271.8 413.8h.8v.8h-.8zM291.8 412.2h.8v.8h-.8zM293.2 408.8h.8v.8h-.8zM276.2 404.6h.8v.8h-.8zM271.3 412.5h.8v.8h-.8zM297.6 397.0h.8v.8h-.8zM271.5 412.0h.8v.8h-.8zM295.6 408.0h.8v.8h-.8zM291.4 413.7h.8v.8h-.8zM271.0 419.2h.8v.8h-.8zM296.4 407.2h.8v.8h-.8zM270.0 413.6h.8v.8h-.8zM295.0 402.8h.8v.8h-.8zM294.5 407.2h.8v.8h-.8zM273.6 410.1h.8v.8h-.8zM295.1 393.5h.8v.8h-.8zM279.4 421.6h.8v.8h-.8zM295.0 408.2h.8v.8h-.8zM272.1 412.8h.8v.8h-.8zM286.7 396.1h.8v.8h-.8zM285.2 420.1h.8v.8h-.8zM278.5 423.6h.8v.8h-.8zM271.7 418.9h.8v.8h-.8zM287.7 394.2h.8v.8h-.8zM278.5 403.5h.8v.8h-.8zM288.0 417.8h.8v.8h-.8zM273.9 422.0h.8v.8h-.8zM294.4 397.6h.8v.8h-.8zM284.7 397.4h.8v.8h-.8zM276.8 406.3h.8v.8h-.8zM292.9 396.4h.8v.8h-.8zM290.0 415.8h.8v.8h-.8zM292.8 409.2h.8v.8h-.8zM275.1 408.0h.8v.8h-.8zM274.1 422.7h.8v.8h-.8zM294.3 405.5h.8v.8h-.8zM273.3 411.8h.8v.8h-.8zM291.1 412.8h.8v.8h-.8zM290.3 414.8h.8v.8h-.8zM289.6 415.2h.8v.8h-.8zM278.0 421.8h.8v.8h-.8zM275.7 424.7h.8v.8h-.8zM289.3 394.0h.8v.8h-.8zM273.1 408.8h.8v.8h-.8zM269.9 414.8h.8v.8h-.8zM285.7 394.8h.8v.8h-.8zM296.7 396.3h.8v.8h-.8zM295.8 393.1h.8v.8h-.8zM277.0 404.7h.8v.8h-.8zM270.7 414.6h.8v.8h-.8zM285.6 398.2h.8v.8h-.8zM279.7 421.3h.8v.8h-.8zM290.4 413.3h.8v.8h-.8zM270.3 414.9h.8v.8h-.8zM272.1 417.5h.8v.8h-.8zM294.5 394.7h.8v.8h-.8zM294.8 404.5h.8v.8h-.8zM287.0 394.8h.8v.8h-.8zM287.5 418.5h.8v.8h-.8zM270.5 413.2h.8v.8h-.8zM279.7 401.8h.8v.8h-.8zM278.7 423.8h.8v.8h-.8zM273.8 425.4h.8v.8h-.8zM298.4 398.2h.8v.8h-.8zM295.5 407.7h.8v.8h-.8zM270.2 419.2h.8v.8h-.8zM286.1 420.0h.8v.8h-.8zM288.2 393.8h.8v.8h-.8zM271.7 411.7h.8v.8h-.8zM279.8 402.4h.8v.8h-.8zM292.5 413.3h.8v.8h-.8zM295.4 401.2h.8v.8h-.8zM294.5 410.1h.8v.8h-.8zM295.3 394.6h.8v.8h-.8zM294.4 394.0h.8v.8h-.8zM293.3 395.9h.8v.8h-.8zM279.8 423.4h.8v.8h-.8zM270.8 414.5h.8v.8h-.8zM270.4 420.9h.8v.8h-.8zM272.0 425.1h.8v.8h-.8zM297.0 395.9h.8v.8h-.8zM272.9 413.9h.8v.8h-.8zM296.3 396.5h.8v.8h-.8zM273.5 423.3h.8v.8h-.8zM269.6 418.8h.8v.8h-.8zM268.9 422.3h.8v.8h-.8zM291.9 394.8h.8v.8h-.8zM276.0 407.3h.8v.8h-.8zM284.7 418.8h.8v.8h-.8zM272.8 425.0h.8v.8h-.8zM283.8 420.3h.8v.8h-.8zM274.0 408.6h.8v.8h-.8zM282.9 399.8h.8v.8h-.8zM272.2 417.7h.8v.8h-.8zM277.1 404.4h.8v.8h-.8zM292.7 395.6h.8v.8h-.8zM284.4 418.7h.8v.8h-.8zM276.8 425.5h.8v.8h-.8zM286.7 417.3h.8v.8h-.8zM290.5 412.3h.8v.8h-.8zM271.4 416.1h.8v.8h-.8zM294.5 393.7h.8v.8h-.8zM272.4 409.1h.8v.8h-.8zM271.1 415.5h.8v.8h-.8zM295.4 401.9h.8v.8h-.8zM285.3 418.5h.8v.8h-.8zM281.5 399.8h.8v.8h-.8zM279.1 402.2h.8v.8h-.8zM283.8 419.7h.8v.8h-.8zM276.3 424.1h.8v.8h-.8zM286.0 418.3h.8v.8h-.8zM277.3 424.7h.8v.8h-.8zM292.2 395.0h.8v.8h-.8zM283.2 422.5h.8v.8h-.8zM295.7 403.2h.8v.8h-.8zM294.9 410.2h.8v.8h-.8zM288.4 395.9h.8v.8h-.8zM283.2 396.6h.8v.8h-.8zM291.2 411.4h.8v.8h-.8zM270.9 414.2h.8v.8h-.8zM273.2 420.7h.8v.8h-.8zM283.7 397.5h.8v.8h-.8zM286.8 418.6h.8v.8h-.8zM274.6 406.0h.8v.8h-.8zM289.3 416.3h.8v.8h-.8zM296.3 404.1h.8v.8h-.8zM286.5 419.2h.8v.8h-.8zM289.9 395.1h.8v.8h-.8zM292.0 413.0h.8v.8h-.8zM275.5 407.3h.8v.8h-.8zM274.8 406.8h.8v.8h-.8zM271.4 411.3h.8v.8h-.8zM280.1 399.9h.8v.8h-.8zM282.2 400.0h.8v.8h-.8zM295.1 397.8h.8v.8h-.8zM274.8 407.1h.8v.8h-.8zM287.9 417.0h.8v.8h-.8zM274.5 409.1h.8v.8h-.8zM269.4 420.4h.8v.8h-.8zM270.8 417.5h.8v.8h-.8zM289.3 394.0h.8v.8h-.8zM298.6 396.1h.8v.8h-.8zM279.0 400.2h.8v.8h-.8zM285.3 418.0h.8v.8h-.8zM273.0 423.2h.8v.8h-.8zM282.5 399.0h.8v.8h-.8zM291.5 414.2h.8v.8h-.8zM296.2 396.1h.8v.8h-.8zM290.3 412.9h.8v.8h-.8zM289.1 394.8h.8v.8h-.8zM272.1 412.6h.8v.8h-.8zM269.7 421.4h.8v.8h-.8zM291.5 395.9h.8v.8h-.8zM297.6 399.9h.8v.8h-.8zM288.2 395.7h.8v.8h-.8zM276.8 406.4h.8v.8h-.8zM298.8 399.8h.8v.8h-.8zM294.9 403.4h.8v.8h-.8zM281.9 400.7h.8v.8h-.8zM294.5 405.5h.8v.8h-.8zM276.2 423.8h.8v.8h-.8zM281.0 423.1h.8v.8h-.8zM281.7 399.2h.8v.8h-.8zM275.0 406.3h.8v.8h-.8zM291.9 411.5h.8v.8h-.8zM276.1 407.0h.8v.8h-.8zM270.2 413.4h.8v.8h-.8zM280.4 401.5h.8v.8h-.8zM283.6 419.1h.8v.8h-.8z" fill="#5a84c4" opacity="0.8"/>
<rect x="261.80" y="386.20" width="56.60" height="56.60" fill="#fff" opacity="0.45" filter="url(#sp1)"/>
</g>
<rect x="261.80" y="386.20" width="56.60" height="56.60" fill="none" stroke="#000" stroke-width="1.2"/>
<line x1="268.30" y1="438.00" x2="314.10" y2="393.30" stroke="#333" stroke-width="0.7" />
<text x="290.10" y="394.60" font-size="5.6" text-anchor="middle" font-weight="bold" fill="#000" >1.29</text>
<line x1="259.20" y1="392.50" x2="261.80" y2="392.50" stroke="#000" stroke-width="0.9" />
<text x="258.20" y="394.70" font-size="6.6" text-anchor="end" fill="#111">10<tspan font-size="4.6" dy="-2.8">4</tspan></text>
<line x1="259.20" y1="424.60" x2="261.80" y2="424.60" stroke="#000" stroke-width="0.9" />
<text x="258.20" y="426.80" font-size="6.6" text-anchor="end" fill="#111">10<tspan font-size="4.6" dy="-2.8">3</tspan></text>
<line x1="277.80" y1="442.80" x2="277.80" y2="445.40" stroke="#000" stroke-width="0.9" />
<text x="277.80" y="453.4" font-size="6.6" text-anchor="middle" fill="#111">10<tspan font-size="4.6" dy="-2.8">3</tspan></text>
<line x1="304.20" y1="442.80" x2="304.20" y2="445.40" stroke="#000" stroke-width="0.9" />
<text x="304.20" y="453.4" font-size="6.6" text-anchor="middle" fill="#111">10<tspan font-size="4.6" dy="-2.8">4</tspan></text>
<line x1="285.75" y1="442.80" x2="285.75" y2="444.20" stroke="#000" stroke-width="0.5" />
<line x1="312.15" y1="442.80" x2="312.15" y2="444.20" stroke="#000" stroke-width="0.5" />
<line x1="260.40" y1="414.94" x2="261.80" y2="414.94" stroke="#000" stroke-width="0.5" />
<line x1="264.00" y1="442.80" x2="264.00" y2="444.20" stroke="#000" stroke-width="0.5" />
<line x1="290.40" y1="442.80" x2="290.40" y2="444.20" stroke="#000" stroke-width="0.5" />
<line x1="316.80" y1="442.80" x2="316.80" y2="444.20" stroke="#000" stroke-width="0.5" />
<line x1="260.40" y1="441.38" x2="261.80" y2="441.38" stroke="#000" stroke-width="0.5" />
<line x1="260.40" y1="409.28" x2="261.80" y2="409.28" stroke="#000" stroke-width="0.5" />
<line x1="267.29" y1="442.80" x2="267.29" y2="444.20" stroke="#000" stroke-width="0.5" />
<line x1="293.69" y1="442.80" x2="293.69" y2="444.20" stroke="#000" stroke-width="0.5" />
<line x1="260.40" y1="437.37" x2="261.80" y2="437.37" stroke="#000" stroke-width="0.5" />
<line x1="260.40" y1="405.27" x2="261.80" y2="405.27" stroke="#000" stroke-width="0.5" />
<line x1="269.85" y1="442.80" x2="269.85" y2="444.20" stroke="#000" stroke-width="0.5" />
<line x1="296.25" y1="442.80" x2="296.25" y2="444.20" stroke="#000" stroke-width="0.5" />
<line x1="260.40" y1="434.26" x2="261.80" y2="434.26" stroke="#000" stroke-width="0.5" />
<line x1="260.40" y1="402.16" x2="261.80" y2="402.16" stroke="#000" stroke-width="0.5" />
<line x1="271.94" y1="442.80" x2="271.94" y2="444.20" stroke="#000" stroke-width="0.5" />
<line x1="298.34" y1="442.80" x2="298.34" y2="444.20" stroke="#000" stroke-width="0.5" />
<line x1="260.40" y1="431.72" x2="261.80" y2="431.72" stroke="#000" stroke-width="0.5" />
<line x1="260.40" y1="399.62" x2="261.80" y2="399.62" stroke="#000" stroke-width="0.5" />
<line x1="273.71" y1="442.80" x2="273.71" y2="444.20" stroke="#000" stroke-width="0.5" />
<line x1="300.11" y1="442.80" x2="300.11" y2="444.20" stroke="#000" stroke-width="0.5" />
<line x1="260.40" y1="429.57" x2="261.80" y2="429.57" stroke="#000" stroke-width="0.5" />
<line x1="260.40" y1="397.47" x2="261.80" y2="397.47" stroke="#000" stroke-width="0.5" />
<line x1="275.24" y1="442.80" x2="275.24" y2="444.20" stroke="#000" stroke-width="0.5" />
<line x1="301.64" y1="442.80" x2="301.64" y2="444.20" stroke="#000" stroke-width="0.5" />
<line x1="260.40" y1="427.71" x2="261.80" y2="427.71" stroke="#000" stroke-width="0.5" />
<line x1="260.40" y1="395.61" x2="261.80" y2="395.61" stroke="#000" stroke-width="0.5" />
<line x1="276.59" y1="442.80" x2="276.59" y2="444.20" stroke="#000" stroke-width="0.5" />
<line x1="302.99" y1="442.80" x2="302.99" y2="444.20" stroke="#000" stroke-width="0.5" />
<line x1="260.40" y1="426.07" x2="261.80" y2="426.07" stroke="#000" stroke-width="0.5" />
<line x1="260.40" y1="393.97" x2="261.80" y2="393.97" stroke="#000" stroke-width="0.5" />
<text x="365.50" y="381.80" font-size="6.5" text-anchor="middle" fill="#111" >Rotenone</text>
<rect x="337.20" y="386.20" width="56.60" height="56.60" fill="#fff"/>
<g clip-path="url(#gc167)">
<ellipse cx="0" cy="0" rx="34.80" ry="19.20" fill="url(#g168)" transform="translate(362.20,415.20) rotate(-48)"/>
<ellipse cx="0" cy="0" rx="21.75" ry="10.00" fill="url(#g169)" transform="translate(362.20,415.20) rotate(-48)"/>
<ellipse cx="0" cy="0" rx="12.32" ry="6.00" fill="url(#g170)" transform="translate(362.20,415.20) rotate(-48)"/>
<path d="M363.1 434.0h.8v.8h-.8zM385.0 405.2h.8v.8h-.8zM381.6 418.3h.8v.8h-.8zM380.2 391.4h.8v.8h-.8zM367.4 395.7h.8v.8h-.8zM347.0 437.8h.8v.8h-.8zM383.2 401.9h.8v.8h-.8zM377.5 413.6h.8v.8h-.8zM342.3 425.3h.8v.8h-.8zM368.1 393.6h.8v.8h-.8zM374.8 421.5h.8v.8h-.8zM343.0 436.7h.8v.8h-.8zM376.4 390.7h.8v.8h-.8zM343.4 424.0h.8v.8h-.8zM367.9 433.8h.8v.8h-.8zM352.2 435.4h.8v.8h-.8zM369.3 425.8h.8v.8h-.8zM365.3 429.1h.8v.8h-.8zM340.3 426.3h.8v.8h-.8zM347.4 403.8h.8v.8h-.8zM359.5 434.2h.8v.8h-.8zM347.8 434.1h.8v.8h-.8zM381.2 399.9h.8v.8h-.8zM343.0 410.5h.8v.8h-.8zM384.8 413.9h.8v.8h-.8zM338.6 438.1h.8v.8h-.8zM350.6 439.7h.8v.8h-.8zM370.5 433.5h.8v.8h-.8zM373.6 391.1h.8v.8h-.8zM342.0 417.8h.8v.8h-.8zM380.0 401.1h.8v.8h-.8zM363.7 394.8h.8v.8h-.8zM361.8 399.6h.8v.8h-.8zM371.2 434.5h.8v.8h-.8zM353.7 405.3h.8v.8h-.8zM377.1 398.0h.8v.8h-.8zM347.2 433.1h.8v.8h-.8zM345.3 433.6h.8v.8h-.8zM358.9 393.8h.8v.8h-.8zM340.5 434.8h.8v.8h-.8zM351.9 399.5h.8v.8h-.8zM354.5 406.0h.8v.8h-.8zM388.7 408.5h.8v.8h-.8zM392.2 404.0h.8v.8h-.8zM347.1 397.3h.8v.8h-.8zM342.0 434.9h.8v.8h-.8zM382.6 419.0h.8v.8h-.8zM355.2 440.4h.8v.8h-.8zM378.7 419.9h.8v.8h-.8zM344.1 428.2h.8v.8h-.8zM345.3 437.0h.8v.8h-.8zM344.6 420.1h.8v.8h-.8zM347.3 439.8h.8v.8h-.8zM349.7 405.4h.8v.8h-.8zM353.5 437.1h.8v.8h-.8zM363.9 436.3h.8v.8h-.8zM372.0 433.1h.8v.8h-.8zM344.9 406.8h.8v.8h-.8zM377.2 393.6h.8v.8h-.8zM361.3 432.2h.8v.8h-.8zM348.9 410.6h.8v.8h-.8zM343.8 423.5h.8v.8h-.8zM380.2 409.6h.8v.8h-.8zM383.2 402.0h.8v.8h-.8zM339.8 412.0h.8v.8h-.8zM380.5 397.4h.8v.8h-.8zM341.1 419.1h.8v.8h-.8zM350.4 402.3h.8v.8h-.8zM339.2 432.3h.8v.8h-.8zM388.1 391.8h.8v.8h-.8zM371.2 394.3h.8v.8h-.8zM374.1 440.2h.8v.8h-.8zM374.1 395.6h.8v.8h-.8zM359.1 400.8h.8v.8h-.8zM361.1 432.2h.8v.8h-.8zM372.0 390.9h.8v.8h-.8zM361.6 437.1h.8v.8h-.8zM368.2 433.3h.8v.8h-.8zM359.1 392.3h.8v.8h-.8zM353.9 441.2h.8v.8h-.8zM363.9 394.9h.8v.8h-.8zM344.5 425.1h.8v.8h-.8zM370.7 429.0h.8v.8h-.8zM341.0 392.8h.8v.8h-.8zM347.6 431.2h.8v.8h-.8zM380.7 407.1h.8v.8h-.8zM378.3 413.9h.8v.8h-.8zM353.4 401.2h.8v.8h-.8zM347.7 437.5h.8v.8h-.8zM354.2 435.1h.8v.8h-.8zM353.0 433.6h.8v.8h-.8zM355.8 440.6h.8v.8h-.8zM377.6 398.8h.8v.8h-.8zM367.6 394.7h.8v.8h-.8zM341.9 423.7h.8v.8h-.8zM348.3 433.6h.8v.8h-.8zM341.0 422.6h.8v.8h-.8zM355.5 400.3h.8v.8h-.8zM381.1 407.9h.8v.8h-.8zM339.1 426.0h.8v.8h-.8zM381.3 396.0h.8v.8h-.8zM342.3 425.7h.8v.8h-.8zM339.6 433.5h.8v.8h-.8zM341.0 440.4h.8v.8h-.8zM370.1 425.0h.8v.8h-.8zM344.5 417.5h.8v.8h-.8zM355.0 404.8h.8v.8h-.8zM374.5 425.2h.8v.8h-.8zM387.7 389.4h.8v.8h-.8zM350.5 407.8h.8v.8h-.8zM368.8 429.7h.8v.8h-.8zM389.6 404.5h.8v.8h-.8zM350.4 436.9h.8v.8h-.8zM346.1 417.3h.8v.8h-.8zM374.3 421.1h.8v.8h-.8zM355.8 434.4h.8v.8h-.8zM347.1 413.9h.8v.8h-.8zM340.3 431.2h.8v.8h-.8zM372.9 388.0h.8v.8h-.8zM376.6 396.6h.8v.8h-.8zM382.7 406.7h.8v.8h-.8zM389.0 397.7h.8v.8h-.8zM379.4 399.7h.8v.8h-.8zM383.2 400.8h.8v.8h-.8zM343.1 415.2h.8v.8h-.8zM379.9 404.9h.8v.8h-.8zM377.0 399.3h.8v.8h-.8zM338.7 437.2h.8v.8h-.8zM352.0 433.3h.8v.8h-.8zM374.7 394.0h.8v.8h-.8zM378.2 398.0h.8v.8h-.8zM371.0 428.4h.8v.8h-.8zM378.0 399.7h.8v.8h-.8zM388.8 405.2h.8v.8h-.8zM346.8 435.1h.8v.8h-.8zM344.0 429.5h.8v.8h-.8zM345.7 418.0h.8v.8h-.8zM357.0 440.1h.8v.8h-.8zM358.3 401.6h.8v.8h-.8zM349.8 432.6h.8v.8h-.8zM379.8 404.2h.8v.8h-.8zM344.3 429.2h.8v.8h-.8zM344.3 388.7h.8v.8h-.8zM380.2 398.4h.8v.8h-.8zM385.4 393.6h.8v.8h-.8zM371.8 389.7h.8v.8h-.8zM350.2 401.4h.8v.8h-.8zM352.3 399.3h.8v.8h-.8zM342.7 416.2h.8v.8h-.8zM371.7 434.5h.8v.8h-.8zM343.3 413.8h.8v.8h-.8zM372.8 389.5h.8v.8h-.8zM359.1 398.8h.8v.8h-.8zM342.7 422.8h.8v.8h-.8zM357.4 433.2h.8v.8h-.8zM379.8 393.4h.8v.8h-.8zM383.4 413.0h.8v.8h-.8zM346.2 434.8h.8v.8h-.8zM375.3 395.9h.8v.8h-.8zM388.4 401.2h.8v.8h-.8zM373.3 428.8h.8v.8h-.8zM374.3 423.0h.8v.8h-.8zM383.2 403.5h.8v.8h-.8zM387.7 407.7h.8v.8h-.8zM347.8 436.6h.8v.8h-.8zM350.7 440.9h.8v.8h-.8zM359.5 393.1h.8v.8h-.8zM344.0 404.2h.8v.8h-.8zM389.2 412.5h.8v.8h-.8zM372.1 396.6h.8v.8h-.8zM357.3 401.4h.8v.8h-.8zM372.9 395.3h.8v.8h-.8zM364.1 396.2h.8v.8h-.8zM348.3 434.4h.8v.8h-.8zM386.5 398.3h.8v.8h-.8zM363.0 397.2h.8v.8h-.8zM376.6 396.7h.8v.8h-.8zM345.4 441.0h.8v.8h-.8zM346.4 391.5h.8v.8h-.8zM350.5 438.4h.8v.8h-.8zM339.6 395.1h.8v.8h-.8zM353.3 398.6h.8v.8h-.8zM382.1 407.7h.8v.8h-.8zM379.1 414.7h.8v.8h-.8zM374.9 423.5h.8v.8h-.8zM350.4 406.8h.8v.8h-.8zM380.0 414.1h.8v.8h-.8zM382.6 412.5h.8v.8h-.8zM353.1 403.5h.8v.8h-.8zM375.7 417.3h.8v.8h-.8zM379.1 410.5h.8v.8h-.8zM378.4 412.4h.8v.8h-.8zM362.8 431.0h.8v.8h-.8zM360.7 431.6h.8v.8h-.8zM355.8 402.1h.8v.8h-.8zM389.7 404.2h.8v.8h-.8zM384.3 418.3h.8v.8h-.8zM346.6 438.0h.8v.8h-.8zM362.4 389.5h.8v.8h-.8zM373.5 396.3h.8v.8h-.8zM364.3 398.2h.8v.8h-.8zM351.6 434.0h.8v.8h-.8zM359.0 435.0h.8v.8h-.8zM342.6 419.4h.8v.8h-.8zM365.8 398.2h.8v.8h-.8zM389.7 411.1h.8v.8h-.8zM381.0 416.7h.8v.8h-.8zM343.9 410.4h.8v.8h-.8zM378.3 419.4h.8v.8h-.8zM381.4 409.3h.8v.8h-.8zM370.1 393.5h.8v.8h-.8zM375.4 390.3h.8v.8h-.8zM343.1 427.7h.8v.8h-.8zM339.2 407.1h.8v.8h-.8zM371.2 396.5h.8v.8h-.8zM373.0 394.0h.8v.8h-.8zM373.7 430.9h.8v.8h-.8zM353.6 387.4h.8v.8h-.8zM363.3 431.4h.8v.8h-.8zM383.2 403.1h.8v.8h-.8zM349.4 410.2h.8v.8h-.8zM339.5 440.2h.8v.8h-.8zM343.5 431.5h.8v.8h-.8zM362.2 389.4h.8v.8h-.8zM359.9 401.0h.8v.8h-.8zM382.3 416.0h.8v.8h-.8zM354.9 404.0h.8v.8h-.8zM386.3 409.9h.8v.8h-.8zM384.0 402.6h.8v.8h-.8zM347.8 434.8h.8v.8h-.8zM378.3 414.1h.8v.8h-.8zM367.7 397.1h.8v.8h-.8zM344.9 426.1h.8v.8h-.8zM367.2 396.9h.8v.8h-.8zM345.8 420.4h.8v.8h-.8zM384.8 433.5h.8v.8h-.8zM363.4 437.0h.8v.8h-.8zM364.8 429.9h.8v.8h-.8zM350.7 439.1h.8v.8h-.8zM344.3 436.7h.8v.8h-.8zM381.1 406.5h.8v.8h-.8zM344.3 411.0h.8v.8h-.8zM342.0 436.7h.8v.8h-.8zM374.2 391.0h.8v.8h-.8zM345.0 432.8h.8v.8h-.8zM387.4 396.6h.8v.8h-.8zM389.2 403.7h.8v.8h-.8zM376.8 421.3h.8v.8h-.8zM377.8 422.3h.8v.8h-.8zM343.2 421.9h.8v.8h-.8zM377.0 397.1h.8v.8h-.8zM369.6 435.0h.8v.8h-.8zM358.3 435.6h.8v.8h-.8zM378.1 396.4h.8v.8h-.8zM377.3 416.2h.8v.8h-.8zM344.8 427.6h.8v.8h-.8zM358.3 401.5h.8v.8h-.8zM373.0 424.8h.8v.8h-.8zM379.2 417.2h.8v.8h-.8zM376.3 394.0h.8v.8h-.8zM381.8 392.3h.8v.8h-.8zM345.1 412.0h.8v.8h-.8zM388.4 395.9h.8v.8h-.8zM384.0 411.6h.8v.8h-.8zM344.2 410.3h.8v.8h-.8zM380.7 389.5h.8v.8h-.8zM375.9 396.1h.8v.8h-.8zM367.0 396.1h.8v.8h-.8zM367.3 396.2h.8v.8h-.8zM342.9 415.6h.8v.8h-.8zM361.2 397.3h.8v.8h-.8zM376.4 415.7h.8v.8h-.8zM384.8 420.6h.8v.8h-.8zM364.9 430.1h.8v.8h-.8zM340.7 422.0h.8v.8h-.8zM378.2 400.0h.8v.8h-.8zM358.0 402.0h.8v.8h-.8zM339.2 436.2h.8v.8h-.8zM380.1 414.5h.8v.8h-.8zM366.3 428.6h.8v.8h-.8zM379.3 394.3h.8v.8h-.8zM370.1 389.8h.8v.8h-.8zM355.3 400.5h.8v.8h-.8zM356.1 398.5h.8v.8h-.8zM353.2 437.8h.8v.8h-.8zM385.1 391.7h.8v.8h-.8zM373.7 392.1h.8v.8h-.8zM380.1 397.6h.8v.8h-.8zM358.7 433.5h.8v.8h-.8zM376.8 419.0h.8v.8h-.8zM356.3 439.6h.8v.8h-.8zM373.3 423.2h.8v.8h-.8zM347.4 414.2h.8v.8h-.8zM374.9 397.2h.8v.8h-.8zM372.8 434.6h.8v.8h-.8zM381.4 404.1h.8v.8h-.8zM345.0 408.8h.8v.8h-.8zM381.4 401.0h.8v.8h-.8zM345.9 419.3h.8v.8h-.8zM362.6 395.3h.8v.8h-.8zM347.0 413.0h.8v.8h-.8zM343.3 427.3h.8v.8h-.8zM340.4 438.7h.8v.8h-.8zM382.4 397.6h.8v.8h-.8zM376.8 394.4h.8v.8h-.8zM354.0 400.2h.8v.8h-.8zM369.7 429.1h.8v.8h-.8zM387.6 397.8h.8v.8h-.8zM352.6 406.8h.8v.8h-.8zM339.1 422.4h.8v.8h-.8zM363.6 432.0h.8v.8h-.8zM383.3 415.9h.8v.8h-.8zM383.3 413.1h.8v.8h-.8zM344.0 431.1h.8v.8h-.8zM387.2 397.0h.8v.8h-.8zM361.0 431.1h.8v.8h-.8zM344.8 418.9h.8v.8h-.8zM353.4 394.1h.8v.8h-.8zM379.8 396.5h.8v.8h-.8zM388.8 401.0h.8v.8h-.8zM370.1 395.4h.8v.8h-.8zM343.8 418.9h.8v.8h-.8zM374.8 395.2h.8v.8h-.8zM342.3 425.0h.8v.8h-.8zM343.6 412.0h.8v.8h-.8zM380.2 398.9h.8v.8h-.8zM381.3 395.1h.8v.8h-.8zM347.3 404.7h.8v.8h-.8zM342.0 430.7h.8v.8h-.8zM375.3 437.0h.8v.8h-.8zM376.8 392.3h.8v.8h-.8zM366.6 430.9h.8v.8h-.8zM379.2 409.4h.8v.8h-.8zM375.3 388.6h.8v.8h-.8zM375.5 388.5h.8v.8h-.8zM353.7 404.2h.8v.8h-.8zM366.7 396.2h.8v.8h-.8zM344.5 402.9h.8v.8h-.8zM371.6 432.5h.8v.8h-.8zM343.1 420.8h.8v.8h-.8zM350.4 433.7h.8v.8h-.8zM380.6 390.1h.8v.8h-.8zM355.7 403.2h.8v.8h-.8zM387.1 389.5h.8v.8h-.8zM341.9 433.5h.8v.8h-.8zM358.2 399.1h.8v.8h-.8zM383.6 425.5h.8v.8h-.8zM374.2 395.3h.8v.8h-.8zM367.1 429.1h.8v.8h-.8zM365.8 388.2h.8v.8h-.8zM389.5 408.0h.8v.8h-.8zM372.6 391.9h.8v.8h-.8zM346.0 430.9h.8v.8h-.8zM374.2 392.6h.8v.8h-.8zM384.1 408.5h.8v.8h-.8zM386.0 395.5h.8v.8h-.8zM363.6 399.3h.8v.8h-.8zM346.3 429.5h.8v.8h-.8zM366.8 429.6h.8v.8h-.8zM355.5 432.9h.8v.8h-.8zM352.9 434.6h.8v.8h-.8zM372.2 394.6h.8v.8h-.8zM367.2 391.8h.8v.8h-.8zM356.5 437.7h.8v.8h-.8zM370.3 392.3h.8v.8h-.8zM376.0 394.0h.8v.8h-.8zM386.3 390.8h.8v.8h-.8zM344.3 422.2h.8v.8h-.8zM368.7 439.8h.8v.8h-.8zM382.5 388.6h.8v.8h-.8zM363.9 395.4h.8v.8h-.8zM382.3 403.3h.8v.8h-.8zM361.6 434.7h.8v.8h-.8zM370.6 430.2h.8v.8h-.8zM373.8 420.9h.8v.8h-.8zM379.0 410.4h.8v.8h-.8zM348.7 440.2h.8v.8h-.8zM342.5 435.2h.8v.8h-.8zM358.7 398.1h.8v.8h-.8zM344.1 430.6h.8v.8h-.8zM344.4 438.6h.8v.8h-.8zM350.2 404.5h.8v.8h-.8zM367.2 437.3h.8v.8h-.8zM386.0 398.1h.8v.8h-.8zM354.1 398.4h.8v.8h-.8zM367.3 397.6h.8v.8h-.8zM381.7 409.3h.8v.8h-.8zM379.7 417.5h.8v.8h-.8zM372.8 429.8h.8v.8h-.8zM344.8 441.2h.8v.8h-.8zM380.4 416.1h.8v.8h-.8zM342.7 428.7h.8v.8h-.8zM373.4 423.0h.8v.8h-.8zM343.9 419.7h.8v.8h-.8zM385.7 404.2h.8v.8h-.8zM373.1 388.7h.8v.8h-.8zM373.9 423.7h.8v.8h-.8zM341.5 424.9h.8v.8h-.8zM351.4 433.5h.8v.8h-.8zM370.9 440.6h.8v.8h-.8zM343.0 416.2h.8v.8h-.8zM379.1 397.7h.8v.8h-.8zM367.4 388.2h.8v.8h-.8zM358.9 401.0h.8v.8h-.8zM384.5 424.1h.8v.8h-.8zM343.4 421.9h.8v.8h-.8zM373.0 393.6h.8v.8h-.8zM365.3 432.1h.8v.8h-.8zM384.8 405.7h.8v.8h-.8zM342.2 437.0h.8v.8h-.8zM385.4 395.1h.8v.8h-.8zM356.9 439.5h.8v.8h-.8zM360.2 400.5h.8v.8h-.8zM370.8 391.6h.8v.8h-.8zM379.2 393.6h.8v.8h-.8zM339.1 409.8h.8v.8h-.8zM364.6 429.0h.8v.8h-.8zM340.2 434.9h.8v.8h-.8zM383.4 389.5h.8v.8h-.8zM388.0 398.4h.8v.8h-.8zM381.6 420.5h.8v.8h-.8zM381.6 401.9h.8v.8h-.8zM383.7 400.1h.8v.8h-.8zM360.9 432.8h.8v.8h-.8zM378.2 417.1h.8v.8h-.8zM363.0 397.7h.8v.8h-.8zM345.3 426.9h.8v.8h-.8zM348.3 432.8h.8v.8h-.8zM385.7 422.2h.8v.8h-.8zM367.4 432.4h.8v.8h-.8zM368.0 434.6h.8v.8h-.8zM344.2 429.4h.8v.8h-.8zM362.2 393.6h.8v.8h-.8zM368.3 389.0h.8v.8h-.8zM348.1 434.6h.8v.8h-.8zM374.8 420.5h.8v.8h-.8zM338.6 414.9h.8v.8h-.8zM344.4 434.2h.8v.8h-.8zM372.7 423.5h.8v.8h-.8z" fill="#93a8d6" opacity="0.55"/>
<path d="M376.9 413.9h.8v.8h-.8zM350.6 411.7h.8v.8h-.8zM358.9 402.5h.8v.8h-.8zM366.0 426.3h.8v.8h-.8zM356.4 405.8h.8v.8h-.8zM353.4 409.8h.8v.8h-.8zM365.5 402.3h.8v.8h-.8zM350.4 426.9h.8v.8h-.8zM353.0 430.3h.8v.8h-.8zM376.2 402.1h.8v.8h-.8zM372.4 417.7h.8v.8h-.8zM374.8 410.0h.8v.8h-.8zM350.8 426.3h.8v.8h-.8zM373.2 415.2h.8v.8h-.8zM358.5 405.0h.8v.8h-.8zM373.7 419.7h.8v.8h-.8zM377.2 402.7h.8v.8h-.8zM377.1 407.0h.8v.8h-.8zM365.8 398.7h.8v.8h-.8zM352.6 413.4h.8v.8h-.8zM361.0 427.1h.8v.8h-.8zM374.4 412.7h.8v.8h-.8zM371.2 417.9h.8v.8h-.8zM352.3 413.2h.8v.8h-.8zM348.9 420.1h.8v.8h-.8zM375.7 412.1h.8v.8h-.8zM371.0 421.7h.8v.8h-.8zM352.5 431.7h.8v.8h-.8zM351.5 414.8h.8v.8h-.8zM349.2 419.9h.8v.8h-.8zM377.4 407.9h.8v.8h-.8zM375.9 402.1h.8v.8h-.8zM374.9 401.4h.8v.8h-.8zM357.1 407.4h.8v.8h-.8zM371.0 400.8h.8v.8h-.8zM378.8 408.4h.8v.8h-.8zM352.4 413.6h.8v.8h-.8zM371.3 419.2h.8v.8h-.8zM375.6 406.1h.8v.8h-.8zM377.3 406.1h.8v.8h-.8zM358.9 404.1h.8v.8h-.8zM377.9 406.2h.8v.8h-.8zM364.9 425.5h.8v.8h-.8zM355.6 407.8h.8v.8h-.8zM354.7 432.8h.8v.8h-.8zM367.3 425.7h.8v.8h-.8zM351.3 410.4h.8v.8h-.8zM359.3 431.5h.8v.8h-.8zM360.1 404.8h.8v.8h-.8zM375.8 407.7h.8v.8h-.8zM367.1 401.5h.8v.8h-.8zM361.2 403.9h.8v.8h-.8zM348.7 428.6h.8v.8h-.8zM371.7 402.4h.8v.8h-.8zM347.8 428.0h.8v.8h-.8zM374.8 406.5h.8v.8h-.8zM364.4 425.8h.8v.8h-.8zM352.3 429.6h.8v.8h-.8zM352.8 412.5h.8v.8h-.8zM349.5 425.8h.8v.8h-.8zM350.6 428.0h.8v.8h-.8zM367.8 398.2h.8v.8h-.8zM356.6 405.5h.8v.8h-.8zM370.2 421.5h.8v.8h-.8zM361.5 402.6h.8v.8h-.8zM376.4 405.8h.8v.8h-.8zM354.0 432.1h.8v.8h-.8zM375.3 405.8h.8v.8h-.8zM360.0 430.1h.8v.8h-.8zM353.6 432.9h.8v.8h-.8zM358.5 404.6h.8v.8h-.8zM352.7 411.4h.8v.8h-.8zM357.2 404.5h.8v.8h-.8zM361.2 403.4h.8v.8h-.8zM349.6 414.6h.8v.8h-.8zM375.8 405.6h.8v.8h-.8zM365.9 401.2h.8v.8h-.8zM349.9 431.7h.8v.8h-.8zM347.4 421.9h.8v.8h-.8zM365.8 425.3h.8v.8h-.8zM366.5 398.4h.8v.8h-.8zM359.0 402.7h.8v.8h-.8zM349.4 428.8h.8v.8h-.8zM376.7 404.0h.8v.8h-.8zM352.2 430.4h.8v.8h-.8zM359.6 403.2h.8v.8h-.8zM374.4 400.5h.8v.8h-.8zM350.8 412.5h.8v.8h-.8zM349.5 417.4h.8v.8h-.8zM355.0 432.3h.8v.8h-.8zM377.8 406.3h.8v.8h-.8zM375.3 404.3h.8v.8h-.8zM350.2 415.0h.8v.8h-.8zM372.6 402.6h.8v.8h-.8zM366.7 398.7h.8v.8h-.8zM350.8 412.3h.8v.8h-.8zM346.6 424.8h.8v.8h-.8zM371.4 397.7h.8v.8h-.8zM378.9 408.2h.8v.8h-.8zM347.2 419.9h.8v.8h-.8zM369.5 424.5h.8v.8h-.8zM349.5 424.6h.8v.8h-.8zM362.5 426.2h.8v.8h-.8zM349.2 432.1h.8v.8h-.8zM376.1 409.9h.8v.8h-.8zM349.5 424.2h.8v.8h-.8zM375.1 400.0h.8v.8h-.8zM373.9 401.6h.8v.8h-.8zM366.6 424.6h.8v.8h-.8zM368.1 424.2h.8v.8h-.8zM348.0 427.7h.8v.8h-.8zM349.1 423.0h.8v.8h-.8zM356.7 406.1h.8v.8h-.8zM368.3 424.2h.8v.8h-.8zM374.2 418.2h.8v.8h-.8zM372.0 420.9h.8v.8h-.8zM353.5 429.7h.8v.8h-.8zM350.1 428.4h.8v.8h-.8zM369.5 401.8h.8v.8h-.8zM350.2 425.3h.8v.8h-.8zM360.7 404.9h.8v.8h-.8zM376.2 402.6h.8v.8h-.8zM347.7 422.0h.8v.8h-.8zM362.2 428.9h.8v.8h-.8zM367.3 424.1h.8v.8h-.8zM356.8 407.2h.8v.8h-.8zM348.5 414.9h.8v.8h-.8zM349.5 414.1h.8v.8h-.8zM374.8 406.9h.8v.8h-.8zM356.5 406.7h.8v.8h-.8zM367.6 426.4h.8v.8h-.8zM373.2 400.8h.8v.8h-.8zM375.2 398.8h.8v.8h-.8zM369.9 423.7h.8v.8h-.8zM351.3 430.3h.8v.8h-.8zM353.4 428.2h.8v.8h-.8zM363.4 427.0h.8v.8h-.8zM375.8 411.1h.8v.8h-.8zM352.3 427.9h.8v.8h-.8zM370.0 422.1h.8v.8h-.8zM353.1 410.4h.8v.8h-.8zM374.6 418.0h.8v.8h-.8zM348.3 427.1h.8v.8h-.8zM352.6 431.6h.8v.8h-.8zM353.9 410.1h.8v.8h-.8zM352.3 430.9h.8v.8h-.8zM372.4 421.3h.8v.8h-.8zM356.9 407.6h.8v.8h-.8zM354.3 432.0h.8v.8h-.8zM347.7 427.6h.8v.8h-.8zM370.4 400.5h.8v.8h-.8zM373.0 419.4h.8v.8h-.8zM378.9 407.9h.8v.8h-.8zM361.0 427.5h.8v.8h-.8zM374.0 414.4h.8v.8h-.8zM364.2 426.4h.8v.8h-.8zM361.7 427.0h.8v.8h-.8zM376.2 407.5h.8v.8h-.8zM350.2 427.2h.8v.8h-.8zM375.6 411.1h.8v.8h-.8zM352.5 432.5h.8v.8h-.8zM352.1 432.2h.8v.8h-.8zM358.9 406.2h.8v.8h-.8zM374.1 403.5h.8v.8h-.8zM351.3 432.0h.8v.8h-.8zM374.6 413.1h.8v.8h-.8zM345.5 423.2h.8v.8h-.8zM371.7 418.8h.8v.8h-.8zM366.9 426.7h.8v.8h-.8zM353.1 407.9h.8v.8h-.8zM369.3 421.0h.8v.8h-.8zM346.3 424.0h.8v.8h-.8zM362.0 403.6h.8v.8h-.8zM368.4 399.7h.8v.8h-.8zM371.1 398.0h.8v.8h-.8zM376.5 400.1h.8v.8h-.8zM354.1 408.7h.8v.8h-.8zM355.0 407.5h.8v.8h-.8zM368.5 424.5h.8v.8h-.8zM377.2 402.7h.8v.8h-.8zM373.4 399.1h.8v.8h-.8zM377.3 410.9h.8v.8h-.8zM368.1 425.4h.8v.8h-.8zM375.4 404.8h.8v.8h-.8zM347.8 424.4h.8v.8h-.8zM347.0 424.0h.8v.8h-.8zM376.8 408.1h.8v.8h-.8zM374.2 402.6h.8v.8h-.8zM363.3 425.8h.8v.8h-.8zM350.1 418.6h.8v.8h-.8zM372.3 402.3h.8v.8h-.8zM348.5 417.7h.8v.8h-.8zM351.2 411.1h.8v.8h-.8zM358.0 405.1h.8v.8h-.8zM352.3 412.6h.8v.8h-.8zM360.2 428.1h.8v.8h-.8zM376.8 407.6h.8v.8h-.8zM351.6 429.2h.8v.8h-.8zM366.6 424.7h.8v.8h-.8zM377.2 401.7h.8v.8h-.8zM355.5 430.4h.8v.8h-.8zM374.5 418.5h.8v.8h-.8zM351.9 410.3h.8v.8h-.8zM377.5 411.9h.8v.8h-.8zM357.3 406.5h.8v.8h-.8zM358.4 405.3h.8v.8h-.8zM365.2 425.1h.8v.8h-.8zM346.1 426.6h.8v.8h-.8zM373.6 398.6h.8v.8h-.8zM373.8 401.0h.8v.8h-.8zM347.3 425.4h.8v.8h-.8zM366.9 399.0h.8v.8h-.8zM364.6 401.6h.8v.8h-.8zM363.7 402.2h.8v.8h-.8zM362.9 426.5h.8v.8h-.8zM351.1 411.7h.8v.8h-.8zM370.7 401.1h.8v.8h-.8zM358.2 431.7h.8v.8h-.8zM349.5 431.0h.8v.8h-.8zM377.2 404.2h.8v.8h-.8zM361.6 401.5h.8v.8h-.8zM374.7 400.9h.8v.8h-.8zM354.1 409.3h.8v.8h-.8zM346.2 423.3h.8v.8h-.8zM347.8 422.6h.8v.8h-.8zM371.6 418.1h.8v.8h-.8zM366.4 399.1h.8v.8h-.8zM365.2 399.3h.8v.8h-.8zM376.9 406.8h.8v.8h-.8zM375.3 415.5h.8v.8h-.8zM365.0 401.8h.8v.8h-.8zM350.2 430.9h.8v.8h-.8zM352.2 428.2h.8v.8h-.8zM360.7 427.9h.8v.8h-.8zM368.7 400.9h.8v.8h-.8zM359.6 427.6h.8v.8h-.8zM367.5 400.0h.8v.8h-.8zM345.9 421.0h.8v.8h-.8zM377.0 410.9h.8v.8h-.8zM353.6 411.8h.8v.8h-.8zM375.1 405.2h.8v.8h-.8zM375.6 404.7h.8v.8h-.8zM375.6 415.9h.8v.8h-.8zM348.6 422.1h.8v.8h-.8zM356.0 405.2h.8v.8h-.8zM353.6 409.3h.8v.8h-.8zM349.7 415.3h.8v.8h-.8zM368.0 401.5h.8v.8h-.8zM352.9 428.9h.8v.8h-.8zM376.2 408.1h.8v.8h-.8zM350.2 416.8h.8v.8h-.8zM348.6 428.4h.8v.8h-.8zM359.2 405.0h.8v.8h-.8zM375.3 406.8h.8v.8h-.8zM364.9 425.5h.8v.8h-.8zM359.6 404.5h.8v.8h-.8zM362.8 403.5h.8v.8h-.8zM377.5 401.9h.8v.8h-.8zM348.8 431.5h.8v.8h-.8zM361.7 430.5h.8v.8h-.8zM375.8 411.0h.8v.8h-.8zM350.1 411.9h.8v.8h-.8zM371.4 400.5h.8v.8h-.8zM347.2 429.6h.8v.8h-.8zM364.8 401.3h.8v.8h-.8zM350.1 429.7h.8v.8h-.8zM371.3 419.6h.8v.8h-.8zM367.5 424.5h.8v.8h-.8zM357.5 429.3h.8v.8h-.8zM365.2 401.0h.8v.8h-.8zM349.7 427.8h.8v.8h-.8zM356.5 430.2h.8v.8h-.8zM351.3 412.5h.8v.8h-.8zM365.8 401.7h.8v.8h-.8zM371.3 399.4h.8v.8h-.8zM373.6 416.4h.8v.8h-.8zM352.0 409.0h.8v.8h-.8zM349.0 422.6h.8v.8h-.8zM356.1 431.2h.8v.8h-.8zM374.4 410.9h.8v.8h-.8zM376.4 413.5h.8v.8h-.8zM374.8 407.5h.8v.8h-.8zM371.6 417.9h.8v.8h-.8zM348.5 414.1h.8v.8h-.8zM366.6 423.9h.8v.8h-.8zM367.6 425.9h.8v.8h-.8zM359.2 428.1h.8v.8h-.8zM375.8 414.4h.8v.8h-.8zM376.0 409.9h.8v.8h-.8z" fill="#5a84c4" opacity="0.8"/>
<rect x="337.20" y="386.20" width="56.60" height="56.60" fill="#fff" opacity="0.6" filter="url(#sp1)"/>
</g>
<rect x="337.20" y="386.20" width="56.60" height="56.60" fill="none" stroke="#000" stroke-width="1.2"/>
<line x1="343.70" y1="438.00" x2="389.50" y2="393.30" stroke="#333" stroke-width="0.7" />
<text x="365.50" y="394.60" font-size="5.6" text-anchor="middle" font-weight="bold" fill="#000" >0.84</text>
<line x1="334.60" y1="392.50" x2="337.20" y2="392.50" stroke="#000" stroke-width="0.9" />
<text x="333.60" y="394.70" font-size="6.6" text-anchor="end" fill="#111">10<tspan font-size="4.6" dy="-2.8">4</tspan></text>
<line x1="334.60" y1="424.60" x2="337.20" y2="424.60" stroke="#000" stroke-width="0.9" />
<text x="333.60" y="426.80" font-size="6.6" text-anchor="end" fill="#111">10<tspan font-size="4.6" dy="-2.8">3</tspan></text>
<line x1="353.20" y1="442.80" x2="353.20" y2="445.40" stroke="#000" stroke-width="0.9" />
<text x="353.20" y="453.4" font-size="6.6" text-anchor="middle" fill="#111">10<tspan font-size="4.6" dy="-2.8">3</tspan></text>
<line x1="379.60" y1="442.80" x2="379.60" y2="445.40" stroke="#000" stroke-width="0.9" />
<text x="379.60" y="453.4" font-size="6.6" text-anchor="middle" fill="#111">10<tspan font-size="4.6" dy="-2.8">4</tspan></text>
<line x1="361.15" y1="442.80" x2="361.15" y2="444.20" stroke="#000" stroke-width="0.5" />
<line x1="387.55" y1="442.80" x2="387.55" y2="444.20" stroke="#000" stroke-width="0.5" />
<line x1="335.80" y1="414.94" x2="337.20" y2="414.94" stroke="#000" stroke-width="0.5" />
<line x1="339.40" y1="442.80" x2="339.40" y2="444.20" stroke="#000" stroke-width="0.5" />
<line x1="365.80" y1="442.80" x2="365.80" y2="444.20" stroke="#000" stroke-width="0.5" />
<line x1="392.20" y1="442.80" x2="392.20" y2="444.20" stroke="#000" stroke-width="0.5" />
<line x1="335.80" y1="441.38" x2="337.20" y2="441.38" stroke="#000" stroke-width="0.5" />
<line x1="335.80" y1="409.28" x2="337.20" y2="409.28" stroke="#000" stroke-width="0.5" />
<line x1="342.69" y1="442.80" x2="342.69" y2="444.20" stroke="#000" stroke-width="0.5" />
<line x1="369.09" y1="442.80" x2="369.09" y2="444.20" stroke="#000" stroke-width="0.5" />
<line x1="335.80" y1="437.37" x2="337.20" y2="437.37" stroke="#000" stroke-width="0.5" />
<line x1="335.80" y1="405.27" x2="337.20" y2="405.27" stroke="#000" stroke-width="0.5" />
<line x1="345.25" y1="442.80" x2="345.25" y2="444.20" stroke="#000" stroke-width="0.5" />
<line x1="371.65" y1="442.80" x2="371.65" y2="444.20" stroke="#000" stroke-width="0.5" />
<line x1="335.80" y1="434.26" x2="337.20" y2="434.26" stroke="#000" stroke-width="0.5" />
<line x1="335.80" y1="402.16" x2="337.20" y2="402.16" stroke="#000" stroke-width="0.5" />
<line x1="347.34" y1="442.80" x2="347.34" y2="444.20" stroke="#000" stroke-width="0.5" />
<line x1="373.74" y1="442.80" x2="373.74" y2="444.20" stroke="#000" stroke-width="0.5" />
<line x1="335.80" y1="431.72" x2="337.20" y2="431.72" stroke="#000" stroke-width="0.5" />
<line x1="335.80" y1="399.62" x2="337.20" y2="399.62" stroke="#000" stroke-width="0.5" />
<line x1="349.11" y1="442.80" x2="349.11" y2="444.20" stroke="#000" stroke-width="0.5" />
<line x1="375.51" y1="442.80" x2="375.51" y2="444.20" stroke="#000" stroke-width="0.5" />
<line x1="335.80" y1="429.57" x2="337.20" y2="429.57" stroke="#000" stroke-width="0.5" />
<line x1="335.80" y1="397.47" x2="337.20" y2="397.47" stroke="#000" stroke-width="0.5" />
<line x1="350.64" y1="442.80" x2="350.64" y2="444.20" stroke="#000" stroke-width="0.5" />
<line x1="377.04" y1="442.80" x2="377.04" y2="444.20" stroke="#000" stroke-width="0.5" />
<line x1="335.80" y1="427.71" x2="337.20" y2="427.71" stroke="#000" stroke-width="0.5" />
<line x1="335.80" y1="395.61" x2="337.20" y2="395.61" stroke="#000" stroke-width="0.5" />
<line x1="351.99" y1="442.80" x2="351.99" y2="444.20" stroke="#000" stroke-width="0.5" />
<line x1="378.39" y1="442.80" x2="378.39" y2="444.20" stroke="#000" stroke-width="0.5" />
<line x1="335.80" y1="426.07" x2="337.20" y2="426.07" stroke="#000" stroke-width="0.5" />
<line x1="335.80" y1="393.97" x2="337.20" y2="393.97" stroke="#000" stroke-width="0.5" />
<line x1="15.60" y1="459.50" x2="15.60" y2="425.50" stroke="#000" stroke-width="1.1" />
<polygon points="12.9,426.5 18.3,426.5 15.6,421.8" fill="#000"/>
<line x1="15.60" y1="459.50" x2="62.50" y2="459.50" stroke="#000" stroke-width="1.1" />
<polygon points="61.5,456.8 61.5,462.2 66.2,459.5" fill="#000"/>
<text x="0" y="0" font-size="8" text-anchor="middle" fill="#111" textLength="18.8" lengthAdjust="spacingAndGlyphs" transform="translate(17.4,410.4) rotate(-90)">Ex405</text>
<text x="69.30" y="462.30" font-size="7.6" fill="#111" textLength="18.5" lengthAdjust="spacingAndGlyphs">Ex488</text>
<line x1="431.10" y1="377.80" x2="431.10" y2="444.70" stroke="#000" stroke-width="1.1" />
<line x1="430.60" y1="444.20" x2="513.20" y2="444.20" stroke="#000" stroke-width="1.1" />
<line x1="428.50" y1="443.80" x2="431.10" y2="443.80" stroke="#000" stroke-width="1" />
<text x="426.8" y="446.30" font-size="7.0" text-anchor="end" fill="#111">0</text>
<line x1="428.50" y1="422.90" x2="431.10" y2="422.90" stroke="#000" stroke-width="1" />
<text x="426.8" y="425.40" font-size="7.0" text-anchor="end" fill="#111">1</text>
<line x1="428.50" y1="402.00" x2="431.10" y2="402.00" stroke="#000" stroke-width="1" />
<text x="426.8" y="404.50" font-size="7.0" text-anchor="end" fill="#111">2</text>
<line x1="428.50" y1="381.10" x2="431.10" y2="381.10" stroke="#000" stroke-width="1" />
<text x="426.8" y="383.60" font-size="7.0" text-anchor="end" fill="#111">3</text>
<text x="0" y="0" font-size="7.6" text-anchor="middle" fill="#111" textLength="80.5" lengthAdjust="spacingAndGlyphs" transform="translate(417.8,411.2) rotate(-90)">Normalized F405/F488 nm</text>
<rect x="434.60" y="422.90" width="12.30" height="20.90" fill="#e8961e" />
<line x1="440.75" y1="444.20" x2="440.75" y2="446.60" stroke="#000" stroke-width="1" />
<text x="0" y="0" font-size="6.9" text-anchor="end" fill="#111" transform="translate(443.75,451.6) rotate(-45)">PBS</text>
<rect x="450.20" y="430.84" width="12.30" height="12.96" fill="#2e5590" />
<line x1="456.35" y1="429.80" x2="456.35" y2="430.84" stroke="#000" stroke-width="0.7" />
<line x1="454.15" y1="429.80" x2="458.55" y2="429.80" stroke="#000" stroke-width="0.7" />
<text x="456.35" y="430.40" font-size="7.0" text-anchor="middle" fill="#111" >***</text>
<line x1="456.35" y1="444.20" x2="456.35" y2="446.60" stroke="#000" stroke-width="1" />
<text x="0" y="0" font-size="6.9" text-anchor="end" fill="#111" transform="translate(459.35,451.6) rotate(-45)">Pyruvate</text>
<rect x="466.00" y="407.23" width="12.30" height="36.57" fill="#b0103a" />
<line x1="472.15" y1="406.39" x2="472.15" y2="407.23" stroke="#000" stroke-width="0.7" />
<line x1="469.95" y1="406.39" x2="474.35" y2="406.39" stroke="#000" stroke-width="0.7" />
<text x="472.15" y="406.99" font-size="7.0" text-anchor="middle" fill="#111" >***</text>
<line x1="472.15" y1="444.20" x2="472.15" y2="446.60" stroke="#000" stroke-width="1" />
<text x="0" y="0" font-size="6.9" text-anchor="end" fill="#111" transform="translate(475.15,451.6) rotate(-45)">Oxamate</text>
<rect x="481.90" y="394.06" width="12.30" height="49.74" fill="#5a2a7a" />
<line x1="488.05" y1="393.01" x2="488.05" y2="394.06" stroke="#000" stroke-width="0.7" />
<line x1="485.85" y1="393.01" x2="490.25" y2="393.01" stroke="#000" stroke-width="0.7" />
<text x="488.05" y="393.61" font-size="7.0" text-anchor="middle" fill="#111" >***</text>
<line x1="488.05" y1="444.20" x2="488.05" y2="446.60" stroke="#000" stroke-width="1" />
<text x="0" y="0" font-size="6.9" text-anchor="end" fill="#111" transform="translate(491.05,451.6) rotate(-45)">AOA</text>
<rect x="497.10" y="412.45" width="12.30" height="31.35" fill="#6aa84f" />
<line x1="503.25" y1="411.41" x2="503.25" y2="412.45" stroke="#000" stroke-width="0.7" />
<line x1="501.05" y1="411.41" x2="505.45" y2="411.41" stroke="#000" stroke-width="0.7" />
<text x="503.25" y="412.01" font-size="7.0" text-anchor="middle" fill="#111" >***</text>
<line x1="503.25" y1="444.20" x2="503.25" y2="446.60" stroke="#000" stroke-width="1" />
<text x="0" y="0" font-size="6.9" text-anchor="end" fill="#111" transform="translate(506.25,451.6) rotate(-45)">Rotenone</text>
<rect x="0.5" y="0.5" width="519" height="480" fill="none" stroke="#000" stroke-width="1"/></svg></body></html>
